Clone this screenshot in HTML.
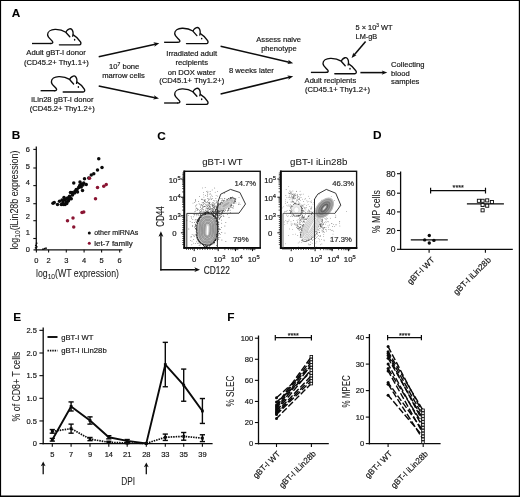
<!DOCTYPE html>
<html><head><meta charset="utf-8"><title>Figure</title>
<style>html,body{margin:0;padding:0;background:#fff}svg{display:block;will-change:transform}text{white-space:pre}</style>
</head><body>
<svg width="520" height="497" viewBox="0 0 520 497" font-family="Liberation Sans, Arial, sans-serif">
<defs>
<filter id="bl" x="-5%" y="-5%" width="110%" height="110%"><feGaussianBlur stdDeviation="0.45"/></filter>
</defs>
<rect x="0" y="0" width="520" height="497" fill="#fff"/>
<text x="11.7" y="17.3" font-size="11.8" fill="#000" stroke="#000" stroke-width="0.1" font-weight="bold" >A</text>
<g transform="translate(0 0)" fill="none" stroke="#0d0d0d" stroke-width="1.35" stroke-linecap="round" stroke-linejoin="round">
<path d="M50.6 43.5 C52.6 43.5 53.4 42.6 52.4 41.3 C51 39.5 47.7 37.4 47.6 34.7 C47.5 31.6 50.8 29.6 55 29.45 C59.5 29.3 63 30.4 65.8 32.2"/>
<path d="M69.8 36.8 L66.2 32.8 C65.7 31.4 67.4 29.6 69.5 28.85 C71.5 28.3 72.6 30 73 32 C73.3 33.8 73.1 35.2 72.7 36.2"/>
<path d="M73.3 34.9 C76 36.5 79 39.5 80.5 41.9 C81.4 43.3 80.8 44.8 79.3 44.8 L59.4 44.8"/>
<ellipse cx="74.6" cy="39.8" rx="0.75" ry="0.95" fill="#0d0d0d" stroke="none"/>
</g>
<line x1="32.0" y1="43.5" x2="50.8" y2="43.5" stroke="#0d0d0d" stroke-width="1.35" />
<g transform="translate(3.8 47.2)" fill="none" stroke="#0d0d0d" stroke-width="1.35" stroke-linecap="round" stroke-linejoin="round">
<path d="M50.6 43.5 C52.6 43.5 53.4 42.6 52.4 41.3 C51 39.5 47.7 37.4 47.6 34.7 C47.5 31.6 50.8 29.6 55 29.45 C59.5 29.3 63 30.4 65.8 32.2"/>
<path d="M69.8 36.8 L66.2 32.8 C65.7 31.4 67.4 29.6 69.5 28.85 C71.5 28.3 72.6 30 73 32 C73.3 33.8 73.1 35.2 72.7 36.2"/>
<path d="M73.3 34.9 C76 36.5 79 39.5 80.5 41.9 C81.4 43.3 80.8 44.8 79.3 44.8 L59.4 44.8"/>
<ellipse cx="74.6" cy="39.8" rx="0.75" ry="0.95" fill="#0d0d0d" stroke="none"/>
</g>
<line x1="40.6" y1="90.7" x2="54.6" y2="90.7" stroke="#0d0d0d" stroke-width="1.35" />
<g transform="translate(127.1 -1.2)" fill="none" stroke="#0d0d0d" stroke-width="1.35" stroke-linecap="round" stroke-linejoin="round">
<path d="M50.6 43.5 C52.6 43.5 53.4 42.6 52.4 41.3 C51 39.5 47.7 37.4 47.6 34.7 C47.5 31.6 50.8 29.6 55 29.45 C59.5 29.3 63 30.4 65.8 32.2"/>
<path d="M69.8 36.8 L66.2 32.8 C65.7 31.4 67.4 29.6 69.5 28.85 C71.5 28.3 72.6 30 73 32 C73.3 33.8 73.1 35.2 72.7 36.2"/>
<path d="M73.3 34.9 C76 36.5 79 39.5 80.5 41.9 C81.4 43.3 80.8 44.8 79.3 44.8 L59.4 44.8"/>
<ellipse cx="74.6" cy="39.8" rx="0.75" ry="0.95" fill="#0d0d0d" stroke="none"/>
</g>
<line x1="164.1" y1="42.3" x2="177.9" y2="42.3" stroke="#0d0d0d" stroke-width="1.35" />
<g transform="translate(127.1 59.5)" fill="none" stroke="#0d0d0d" stroke-width="1.35" stroke-linecap="round" stroke-linejoin="round">
<path d="M50.6 43.5 C52.6 43.5 53.4 42.6 52.4 41.3 C51 39.5 47.7 37.4 47.6 34.7 C47.5 31.6 50.8 29.6 55 29.45 C59.5 29.3 63 30.4 65.8 32.2"/>
<path d="M69.8 36.8 L66.2 32.8 C65.7 31.4 67.4 29.6 69.5 28.85 C71.5 28.3 72.6 30 73 32 C73.3 33.8 73.1 35.2 72.7 36.2"/>
<path d="M73.3 34.9 C76 36.5 79 39.5 80.5 41.9 C81.4 43.3 80.8 44.8 79.3 44.8 L59.4 44.8"/>
<ellipse cx="74.6" cy="39.8" rx="0.75" ry="0.95" fill="#0d0d0d" stroke="none"/>
</g>
<line x1="164.1" y1="103.0" x2="177.9" y2="103.0" stroke="#0d0d0d" stroke-width="1.35" />
<g transform="translate(275.4 28.9)" fill="none" stroke="#0d0d0d" stroke-width="1.35" stroke-linecap="round" stroke-linejoin="round">
<path d="M50.6 43.5 C52.6 43.5 53.4 42.6 52.4 41.3 C51 39.5 47.7 37.4 47.6 34.7 C47.5 31.6 50.8 29.6 55 29.45 C59.5 29.3 63 30.4 65.8 32.2"/>
<path d="M69.8 36.8 L66.2 32.8 C65.7 31.4 67.4 29.6 69.5 28.85 C71.5 28.3 72.6 30 73 32 C73.3 33.8 73.1 35.2 72.7 36.2"/>
<path d="M73.3 34.9 C76 36.5 79 39.5 80.5 41.9 C81.4 43.3 80.8 44.8 79.3 44.8 L59.4 44.8"/>
<ellipse cx="74.6" cy="39.8" rx="0.75" ry="0.95" fill="#0d0d0d" stroke="none"/>
</g>
<line x1="310.9" y1="72.4" x2="326.2" y2="72.4" stroke="#0d0d0d" stroke-width="1.35" />
<text x="56.1" y="55.3" font-size="7.62" fill="#161616" stroke="#161616" stroke-width="0.18" text-anchor="middle" textLength="59.6" lengthAdjust="spacingAndGlyphs" >Adult gBT-I donor</text>
<text x="56.4" y="64.6" font-size="7.62" fill="#161616" stroke="#161616" stroke-width="0.18" text-anchor="middle" >(CD45.2+ Thy1.1+)</text>
<text x="62.4" y="101.8" font-size="7.62" fill="#161616" stroke="#161616" stroke-width="0.18" text-anchor="middle" >iLin28 gBT-I donor</text>
<text x="62.2" y="110.9" font-size="7.62" fill="#161616" stroke="#161616" stroke-width="0.18" text-anchor="middle" >(CD45.2+ Thy1.2+)</text>
<line x1="98.7" y1="56.8" x2="155.2" y2="44.21" stroke="#0d0d0d" stroke-width="1.55" />
<polygon points="159.30,43.30 154.31,46.67 155.20,44.21 153.36,42.37" fill="#0d0d0d"/>
<line x1="98.7" y1="85.9" x2="154.89" y2="97.73" stroke="#0d0d0d" stroke-width="1.55" />
<polygon points="159.00,98.60 153.07,99.60 154.89,97.73 153.97,95.29" fill="#0d0d0d"/>
<text x="124.2" y="69" font-size="7.62" fill="#161616" stroke="#161616" stroke-width="0.18" text-anchor="middle" >10<tspan dy="-2.8" font-size="5">7</tspan><tspan dy="2.8"> bone</tspan></text>
<text x="123.5" y="77.8" font-size="7.62" fill="#161616" stroke="#161616" stroke-width="0.18" text-anchor="middle" >marrow cells</text>
<text x="191.7" y="55.8" font-size="7.62" fill="#161616" stroke="#161616" stroke-width="0.18" text-anchor="middle" >Irradiated adult</text>
<text x="191.7" y="65.1" font-size="7.62" fill="#161616" stroke="#161616" stroke-width="0.18" text-anchor="middle" >recipients</text>
<text x="191.7" y="74.5" font-size="7.62" fill="#161616" stroke="#161616" stroke-width="0.18" text-anchor="middle" >on DOX water</text>
<text x="191.7" y="83.4" font-size="7.62" fill="#161616" stroke="#161616" stroke-width="0.18" text-anchor="middle" >(CD45.1+ Thy1.2+)</text>
<line x1="220.6" y1="46.2" x2="289.11" y2="62.24" stroke="#0d0d0d" stroke-width="1.55" />
<polygon points="293.20,63.20 287.25,64.07 289.11,62.24 288.25,59.78" fill="#0d0d0d"/>
<line x1="220.6" y1="94.1" x2="289.12" y2="77.21" stroke="#0d0d0d" stroke-width="1.55" />
<polygon points="293.20,76.20 288.29,79.68 289.12,77.21 287.24,75.40" fill="#0d0d0d"/>
<text x="278.7" y="42.2" font-size="7.62" fill="#161616" stroke="#161616" stroke-width="0.18" text-anchor="middle" >Assess naive</text>
<text x="278.9" y="51.0" font-size="7.62" fill="#161616" stroke="#161616" stroke-width="0.18" text-anchor="middle" >phenotype</text>
<text x="251.4" y="73.0" font-size="7.62" fill="#161616" stroke="#161616" stroke-width="0.18" text-anchor="middle" >8 weeks later</text>
<text x="355.6" y="29.8" font-size="7.62" fill="#161616" stroke="#161616" stroke-width="0.18" textLength="37" lengthAdjust="spacingAndGlyphs" >5 × 10<tspan dy="-2.8" font-size="5">3</tspan><tspan dy="2.8"> WT</tspan></text>
<text x="355.6" y="39.2" font-size="7.62" fill="#161616" stroke="#161616" stroke-width="0.18" textLength="21.6" lengthAdjust="spacingAndGlyphs" >LM-gB</text>
<line x1="365.6" y1="41.6" x2="354.14" y2="54.94" stroke="#0d0d0d" stroke-width="1.55" />
<polygon points="351.60,57.90 353.40,52.59 354.14,54.94 356.58,55.32" fill="#0d0d0d"/>
<line x1="360.4" y1="72.6" x2="383.1" y2="72.6" stroke="#0d0d0d" stroke-width="1.55" />
<polygon points="387.30,72.60 381.70,74.80 383.10,72.60 381.70,70.40" fill="#0d0d0d"/>
<text x="304.6" y="82.6" font-size="7.62" fill="#161616" stroke="#161616" stroke-width="0.18" textLength="51.6" lengthAdjust="spacingAndGlyphs" >Adult recipients</text>
<text x="305.0" y="91.6" font-size="7.62" fill="#161616" stroke="#161616" stroke-width="0.18" >(CD45.1+ Thy1.2+)</text>
<text x="391.1" y="66.6" font-size="7.62" fill="#161616" stroke="#161616" stroke-width="0.18" >Collecting</text>
<text x="391.1" y="75.5" font-size="7.62" fill="#161616" stroke="#161616" stroke-width="0.18" >blood</text>
<text x="391.1" y="84.2" font-size="7.62" fill="#161616" stroke="#161616" stroke-width="0.18" >samples</text>
<text x="11.7" y="139.2" font-size="11.8" fill="#000" stroke="#000" stroke-width="0.1" font-weight="bold" >B</text>
<line x1="36.3" y1="146.6" x2="36.3" y2="250.4" stroke="#111" stroke-width="1.3" />
<line x1="33.5" y1="249.8" x2="122.3" y2="249.8" stroke="#111" stroke-width="1.3" />
<line x1="33.3" y1="149.4" x2="36.3" y2="149.4" stroke="#111" stroke-width="1.1" />
<line x1="33.3" y1="168" x2="36.3" y2="168" stroke="#111" stroke-width="1.1" />
<line x1="33.3" y1="185.6" x2="36.3" y2="185.6" stroke="#111" stroke-width="1.1" />
<line x1="33.3" y1="203.7" x2="36.3" y2="203.7" stroke="#111" stroke-width="1.1" />
<line x1="33.3" y1="220.7" x2="36.3" y2="220.7" stroke="#111" stroke-width="1.1" />
<line x1="33.3" y1="238.5" x2="36.3" y2="238.5" stroke="#111" stroke-width="1.1" />
<text x="27.8" y="152.2" font-size="7.5" fill="#161616" stroke="#161616" stroke-width="0.18" text-anchor="middle" >6</text>
<text x="27.8" y="168.8" font-size="7.5" fill="#161616" stroke="#161616" stroke-width="0.18" text-anchor="middle" >5</text>
<text x="27.8" y="185.4" font-size="7.5" fill="#161616" stroke="#161616" stroke-width="0.18" text-anchor="middle" >4</text>
<text x="27.8" y="202.0" font-size="7.5" fill="#161616" stroke="#161616" stroke-width="0.18" text-anchor="middle" >3</text>
<text x="27.8" y="218.6" font-size="7.5" fill="#161616" stroke="#161616" stroke-width="0.18" text-anchor="middle" >2</text>
<text x="27.8" y="235.2" font-size="7.5" fill="#161616" stroke="#161616" stroke-width="0.18" text-anchor="middle" >1</text>
<text x="27.8" y="251.8" font-size="7.5" fill="#161616" stroke="#161616" stroke-width="0.18" text-anchor="middle" >0</text>
<line x1="36.4" y1="249.8" x2="36.4" y2="252.6" stroke="#111" stroke-width="1.1" />
<text x="36.4" y="263.2" font-size="7.5" fill="#161616" stroke="#161616" stroke-width="0.18" text-anchor="middle" >0</text>
<line x1="48.6" y1="249.8" x2="48.6" y2="252.6" stroke="#111" stroke-width="1.1" />
<text x="48.6" y="263.2" font-size="7.5" fill="#161616" stroke="#161616" stroke-width="0.18" text-anchor="middle" >2</text>
<line x1="66.3" y1="249.8" x2="66.3" y2="252.6" stroke="#111" stroke-width="1.1" />
<text x="66.3" y="263.2" font-size="7.5" fill="#161616" stroke="#161616" stroke-width="0.18" text-anchor="middle" >3</text>
<line x1="84.1" y1="249.8" x2="84.1" y2="252.6" stroke="#111" stroke-width="1.1" />
<text x="84.1" y="263.2" font-size="7.5" fill="#161616" stroke="#161616" stroke-width="0.18" text-anchor="middle" >4</text>
<line x1="101.6" y1="249.8" x2="101.6" y2="252.6" stroke="#111" stroke-width="1.1" />
<text x="101.6" y="263.2" font-size="7.5" fill="#161616" stroke="#161616" stroke-width="0.18" text-anchor="middle" >5</text>
<line x1="119.7" y1="249.8" x2="119.7" y2="252.6" stroke="#111" stroke-width="1.1" />
<text x="119.7" y="263.2" font-size="7.5" fill="#161616" stroke="#161616" stroke-width="0.18" text-anchor="middle" >6</text>
<text x="36.0" y="277.0" font-size="10.0" fill="#222" stroke="#222" stroke-width="0.06" textLength="83" lengthAdjust="spacingAndGlyphs" >log<tspan dy="2" font-size="7.6">10</tspan><tspan dy="-2">(WT expression)</tspan></text>
<text x="18.1" y="249.6" font-size="10.0" fill="#222" stroke="#222" stroke-width="0.06" textLength="99" lengthAdjust="spacingAndGlyphs" transform="rotate(-90 18.1 249.6)" >log<tspan dy="2" font-size="7.6">10</tspan><tspan dy="-2">(iLin28b expression)</tspan></text>
<circle cx="53.00" cy="203.25" r="1.75" fill="#0a0a0a"/>
<circle cx="54.25" cy="202.50" r="1.75" fill="#0a0a0a"/>
<circle cx="57.50" cy="204.50" r="1.75" fill="#0a0a0a"/>
<circle cx="59.50" cy="201.25" r="1.75" fill="#0a0a0a"/>
<circle cx="61.25" cy="204.50" r="1.75" fill="#0a0a0a"/>
<circle cx="63.00" cy="202.50" r="1.75" fill="#0a0a0a"/>
<circle cx="64.50" cy="200.00" r="1.75" fill="#0a0a0a"/>
<circle cx="65.00" cy="204.50" r="1.75" fill="#0a0a0a"/>
<circle cx="66.25" cy="202.00" r="1.75" fill="#0a0a0a"/>
<circle cx="67.50" cy="198.00" r="1.75" fill="#0a0a0a"/>
<circle cx="68.75" cy="200.00" r="1.75" fill="#0a0a0a"/>
<circle cx="69.50" cy="196.25" r="1.75" fill="#0a0a0a"/>
<circle cx="70.50" cy="192.50" r="1.75" fill="#0a0a0a"/>
<circle cx="71.25" cy="198.75" r="1.75" fill="#0a0a0a"/>
<circle cx="72.50" cy="195.00" r="1.75" fill="#0a0a0a"/>
<circle cx="73.75" cy="183.00" r="1.75" fill="#0a0a0a"/>
<circle cx="75.00" cy="191.25" r="1.75" fill="#0a0a0a"/>
<circle cx="76.25" cy="189.50" r="1.75" fill="#0a0a0a"/>
<circle cx="77.50" cy="192.00" r="1.75" fill="#0a0a0a"/>
<circle cx="78.75" cy="187.50" r="1.75" fill="#0a0a0a"/>
<circle cx="80.00" cy="185.00" r="1.75" fill="#0a0a0a"/>
<circle cx="81.25" cy="187.00" r="1.75" fill="#0a0a0a"/>
<circle cx="82.50" cy="190.50" r="1.75" fill="#0a0a0a"/>
<circle cx="83.75" cy="183.00" r="1.75" fill="#0a0a0a"/>
<circle cx="84.50" cy="178.75" r="1.75" fill="#0a0a0a"/>
<circle cx="86.25" cy="184.50" r="1.75" fill="#0a0a0a"/>
<circle cx="88.75" cy="178.00" r="1.75" fill="#0a0a0a"/>
<circle cx="91.25" cy="175.00" r="1.75" fill="#0a0a0a"/>
<circle cx="93.75" cy="173.75" r="1.75" fill="#0a0a0a"/>
<circle cx="97.50" cy="170.00" r="1.75" fill="#0a0a0a"/>
<circle cx="102.00" cy="167.50" r="1.75" fill="#0a0a0a"/>
<circle cx="98.75" cy="158.75" r="1.75" fill="#0a0a0a"/>
<circle cx="62.00" cy="200.00" r="1.75" fill="#0a0a0a"/>
<circle cx="64.00" cy="197.50" r="1.75" fill="#0a0a0a"/>
<circle cx="66.00" cy="199.00" r="1.75" fill="#0a0a0a"/>
<circle cx="68.00" cy="201.25" r="1.75" fill="#0a0a0a"/>
<circle cx="70.00" cy="197.50" r="1.75" fill="#0a0a0a"/>
<circle cx="72.00" cy="192.50" r="1.75" fill="#0a0a0a"/>
<circle cx="74.50" cy="193.00" r="1.75" fill="#0a0a0a"/>
<circle cx="77.00" cy="189.50" r="1.75" fill="#0a0a0a"/>
<circle cx="79.50" cy="186.25" r="1.75" fill="#0a0a0a"/>
<circle cx="81.50" cy="184.00" r="1.75" fill="#0a0a0a"/>
<circle cx="66.75" cy="203.50" r="1.75" fill="#0a0a0a"/>
<circle cx="63.25" cy="204.50" r="1.75" fill="#0a0a0a"/>
<circle cx="80.00" cy="182.00" r="1.75" fill="#0a0a0a"/>
<circle cx="83.00" cy="185.00" r="1.75" fill="#0a0a0a"/>
<circle cx="89.50" cy="178.25" r="1.75" fill="#8a1432"/>
<circle cx="97.50" cy="187.50" r="1.75" fill="#8a1432"/>
<circle cx="103.75" cy="186.25" r="1.75" fill="#8a1432"/>
<circle cx="106.25" cy="184.50" r="1.75" fill="#8a1432"/>
<circle cx="95.50" cy="198.75" r="1.75" fill="#8a1432"/>
<circle cx="67.50" cy="220.75" r="1.75" fill="#8a1432"/>
<circle cx="73.00" cy="218.00" r="1.75" fill="#8a1432"/>
<circle cx="73.75" cy="227.00" r="1.75" fill="#8a1432"/>
<circle cx="82.00" cy="212.50" r="1.75" fill="#8a1432"/>
<circle cx="83.75" cy="212.00" r="1.75" fill="#8a1432"/>
<circle cx="36.6" cy="243.2" r="0.9" fill="#0a0a0a"/>
<circle cx="35.8" cy="245.5" r="0.9" fill="#0a0a0a"/>
<circle cx="36.8" cy="246.8" r="0.9" fill="#0a0a0a"/>
<circle cx="35.6" cy="247.8" r="0.9" fill="#0a0a0a"/>
<circle cx="43" cy="249.2" r="0.9" fill="#0a0a0a"/>
<circle cx="44.6" cy="248.6" r="0.9" fill="#0a0a0a"/>
<circle cx="46" cy="248.2" r="0.9" fill="#0a0a0a"/>
<circle cx="89.3" cy="233" r="1.5" fill="#0a0a0a"/>
<text x="94.2" y="235.3" font-size="7.5" fill="#161616" stroke="#161616" stroke-width="0.18" textLength="44" lengthAdjust="spacingAndGlyphs" >other miRNAs</text>
<circle cx="89.3" cy="243.2" r="1.5" fill="#8c1232"/>
<text x="94.2" y="245.5" font-size="7.5" fill="#161616" stroke="#161616" stroke-width="0.18" textLength="38.5" lengthAdjust="spacingAndGlyphs" >let-7 family</text>
<text x="157.2" y="139.7" font-size="11.8" fill="#000" stroke="#000" stroke-width="0.1" font-weight="bold" >C</text>
<g filter="url(#bl)">
<circle cx="204.5" cy="232.6" r="0.42" fill="#2e2e2e"/><circle cx="205.6" cy="224.0" r="0.42" fill="#2e2e2e"/><circle cx="200.2" cy="224.5" r="0.42" fill="#2e2e2e"/><circle cx="214.9" cy="232.8" r="0.42" fill="#2e2e2e"/><circle cx="214.6" cy="230.9" r="0.42" fill="#2e2e2e"/><circle cx="209.8" cy="229.7" r="0.42" fill="#2e2e2e"/><circle cx="193.5" cy="235.1" r="0.42" fill="#2e2e2e"/><circle cx="210.3" cy="233.1" r="0.42" fill="#2e2e2e"/><circle cx="196.1" cy="207.9" r="0.42" fill="#2e2e2e"/><circle cx="200.8" cy="221.9" r="0.42" fill="#2e2e2e"/><circle cx="209.4" cy="227.3" r="0.42" fill="#2e2e2e"/><circle cx="211.6" cy="221.2" r="0.42" fill="#2e2e2e"/><circle cx="208.9" cy="231.9" r="0.42" fill="#2e2e2e"/><circle cx="200.1" cy="244.9" r="0.42" fill="#2e2e2e"/><circle cx="209.9" cy="240.4" r="0.42" fill="#2e2e2e"/><circle cx="203.1" cy="219.3" r="0.42" fill="#2e2e2e"/><circle cx="204.5" cy="226.1" r="0.42" fill="#2e2e2e"/><circle cx="211.5" cy="230.6" r="0.42" fill="#2e2e2e"/><circle cx="204.7" cy="217.2" r="0.42" fill="#2e2e2e"/><circle cx="201.7" cy="239.8" r="0.42" fill="#2e2e2e"/><circle cx="200.6" cy="229.4" r="0.42" fill="#2e2e2e"/><circle cx="211.9" cy="212.3" r="0.42" fill="#2e2e2e"/><circle cx="205.9" cy="241.2" r="0.42" fill="#2e2e2e"/><circle cx="192.1" cy="222.5" r="0.42" fill="#2e2e2e"/><circle cx="207.1" cy="218.9" r="0.42" fill="#2e2e2e"/><circle cx="210.8" cy="227.2" r="0.42" fill="#2e2e2e"/><circle cx="195.0" cy="235.0" r="0.42" fill="#2e2e2e"/><circle cx="211.0" cy="237.9" r="0.42" fill="#2e2e2e"/><circle cx="217.5" cy="232.4" r="0.42" fill="#2e2e2e"/><circle cx="209.3" cy="214.0" r="0.42" fill="#2e2e2e"/><circle cx="212.3" cy="221.6" r="0.42" fill="#2e2e2e"/><circle cx="205.0" cy="213.9" r="0.42" fill="#2e2e2e"/><circle cx="200.3" cy="221.2" r="0.42" fill="#2e2e2e"/><circle cx="219.0" cy="207.3" r="0.42" fill="#2e2e2e"/><circle cx="195.7" cy="228.8" r="0.42" fill="#2e2e2e"/><circle cx="217.3" cy="234.7" r="0.42" fill="#2e2e2e"/><circle cx="195.4" cy="199.7" r="0.42" fill="#2e2e2e"/><circle cx="210.5" cy="220.1" r="0.42" fill="#2e2e2e"/><circle cx="197.5" cy="236.8" r="0.42" fill="#2e2e2e"/><circle cx="215.2" cy="230.0" r="0.42" fill="#2e2e2e"/><circle cx="208.4" cy="232.2" r="0.42" fill="#2e2e2e"/><circle cx="218.4" cy="235.2" r="0.42" fill="#2e2e2e"/><circle cx="210.3" cy="233.6" r="0.42" fill="#2e2e2e"/><circle cx="193.7" cy="239.6" r="0.42" fill="#2e2e2e"/><circle cx="213.6" cy="233.8" r="0.42" fill="#2e2e2e"/><circle cx="192.8" cy="219.3" r="0.42" fill="#2e2e2e"/><circle cx="215.4" cy="209.3" r="0.42" fill="#2e2e2e"/><circle cx="204.5" cy="238.0" r="0.42" fill="#2e2e2e"/><circle cx="195.3" cy="243.3" r="0.42" fill="#2e2e2e"/><circle cx="211.3" cy="226.4" r="0.42" fill="#2e2e2e"/><circle cx="208.7" cy="234.5" r="0.42" fill="#2e2e2e"/><circle cx="206.7" cy="239.6" r="0.42" fill="#2e2e2e"/><circle cx="202.5" cy="222.6" r="0.42" fill="#2e2e2e"/><circle cx="214.8" cy="228.6" r="0.42" fill="#2e2e2e"/><circle cx="199.3" cy="236.7" r="0.42" fill="#2e2e2e"/><circle cx="218.6" cy="224.0" r="0.42" fill="#2e2e2e"/><circle cx="196.7" cy="225.0" r="0.42" fill="#2e2e2e"/><circle cx="206.2" cy="224.3" r="0.42" fill="#2e2e2e"/><circle cx="218.7" cy="217.9" r="0.42" fill="#2e2e2e"/><circle cx="217.9" cy="215.3" r="0.42" fill="#2e2e2e"/><circle cx="200.4" cy="233.5" r="0.42" fill="#2e2e2e"/><circle cx="214.6" cy="237.4" r="0.42" fill="#2e2e2e"/><circle cx="209.5" cy="229.3" r="0.42" fill="#2e2e2e"/><circle cx="207.5" cy="233.6" r="0.42" fill="#2e2e2e"/><circle cx="205.4" cy="230.3" r="0.42" fill="#2e2e2e"/><circle cx="211.3" cy="228.0" r="0.42" fill="#2e2e2e"/><circle cx="212.2" cy="234.0" r="0.42" fill="#2e2e2e"/><circle cx="221.8" cy="232.5" r="0.42" fill="#2e2e2e"/><circle cx="204.2" cy="223.3" r="0.42" fill="#2e2e2e"/><circle cx="205.9" cy="237.1" r="0.42" fill="#2e2e2e"/><circle cx="204.0" cy="231.3" r="0.42" fill="#2e2e2e"/><circle cx="223.7" cy="202.2" r="0.42" fill="#2e2e2e"/><circle cx="198.2" cy="229.2" r="0.42" fill="#2e2e2e"/><circle cx="209.7" cy="230.3" r="0.42" fill="#2e2e2e"/><circle cx="203.0" cy="234.0" r="0.42" fill="#2e2e2e"/><circle cx="209.7" cy="222.3" r="0.42" fill="#2e2e2e"/><circle cx="225.0" cy="233.1" r="0.42" fill="#2e2e2e"/><circle cx="202.9" cy="226.0" r="0.42" fill="#2e2e2e"/><circle cx="205.4" cy="226.7" r="0.42" fill="#2e2e2e"/><circle cx="186.9" cy="220.2" r="0.42" fill="#2e2e2e"/><circle cx="215.9" cy="216.1" r="0.42" fill="#2e2e2e"/><circle cx="205.4" cy="237.4" r="0.42" fill="#2e2e2e"/><circle cx="211.8" cy="243.8" r="0.42" fill="#2e2e2e"/><circle cx="194.5" cy="222.5" r="0.42" fill="#2e2e2e"/><circle cx="203.7" cy="233.7" r="0.42" fill="#2e2e2e"/><circle cx="218.2" cy="200.4" r="0.42" fill="#2e2e2e"/><circle cx="216.8" cy="213.2" r="0.42" fill="#2e2e2e"/><circle cx="213.8" cy="212.5" r="0.42" fill="#2e2e2e"/><circle cx="207.0" cy="240.1" r="0.42" fill="#2e2e2e"/><circle cx="205.7" cy="229.4" r="0.42" fill="#2e2e2e"/><circle cx="212.9" cy="229.6" r="0.42" fill="#2e2e2e"/><circle cx="204.6" cy="243.4" r="0.42" fill="#2e2e2e"/><circle cx="215.2" cy="225.3" r="0.42" fill="#2e2e2e"/><circle cx="229.0" cy="217.7" r="0.42" fill="#2e2e2e"/><circle cx="214.2" cy="225.5" r="0.42" fill="#2e2e2e"/><circle cx="207.2" cy="235.0" r="0.42" fill="#2e2e2e"/><circle cx="208.0" cy="234.3" r="0.42" fill="#2e2e2e"/><circle cx="197.1" cy="210.5" r="0.42" fill="#2e2e2e"/><circle cx="212.7" cy="217.9" r="0.42" fill="#2e2e2e"/><circle cx="200.9" cy="211.3" r="0.42" fill="#2e2e2e"/><circle cx="215.8" cy="236.3" r="0.42" fill="#2e2e2e"/><circle cx="219.2" cy="218.9" r="0.42" fill="#2e2e2e"/><circle cx="208.3" cy="215.6" r="0.42" fill="#2e2e2e"/><circle cx="211.0" cy="244.7" r="0.42" fill="#2e2e2e"/><circle cx="198.6" cy="243.1" r="0.42" fill="#2e2e2e"/><circle cx="214.7" cy="226.4" r="0.42" fill="#2e2e2e"/><circle cx="190.6" cy="240.6" r="0.42" fill="#2e2e2e"/><circle cx="206.9" cy="221.1" r="0.42" fill="#2e2e2e"/><circle cx="209.6" cy="232.1" r="0.42" fill="#2e2e2e"/><circle cx="219.4" cy="218.0" r="0.42" fill="#2e2e2e"/><circle cx="214.0" cy="243.9" r="0.42" fill="#2e2e2e"/><circle cx="218.2" cy="226.8" r="0.42" fill="#2e2e2e"/><circle cx="200.3" cy="237.5" r="0.42" fill="#2e2e2e"/><circle cx="207.7" cy="228.9" r="0.42" fill="#2e2e2e"/><circle cx="218.1" cy="225.9" r="0.42" fill="#2e2e2e"/><circle cx="190.1" cy="221.6" r="0.42" fill="#2e2e2e"/><circle cx="192.1" cy="234.6" r="0.42" fill="#2e2e2e"/><circle cx="210.1" cy="221.4" r="0.42" fill="#2e2e2e"/><circle cx="206.0" cy="236.2" r="0.42" fill="#2e2e2e"/><circle cx="206.1" cy="241.4" r="0.42" fill="#2e2e2e"/><circle cx="205.4" cy="238.3" r="0.42" fill="#2e2e2e"/><circle cx="216.5" cy="245.5" r="0.42" fill="#2e2e2e"/><circle cx="201.0" cy="236.2" r="0.42" fill="#2e2e2e"/><circle cx="194.0" cy="214.7" r="0.42" fill="#2e2e2e"/><circle cx="191.0" cy="237.1" r="0.42" fill="#2e2e2e"/><circle cx="197.7" cy="226.4" r="0.42" fill="#2e2e2e"/><circle cx="205.6" cy="227.0" r="0.42" fill="#2e2e2e"/><circle cx="202.3" cy="229.5" r="0.42" fill="#2e2e2e"/><circle cx="220.5" cy="229.4" r="0.42" fill="#2e2e2e"/><circle cx="209.9" cy="238.4" r="0.42" fill="#2e2e2e"/><circle cx="206.9" cy="214.2" r="0.42" fill="#2e2e2e"/><circle cx="201.6" cy="238.3" r="0.42" fill="#2e2e2e"/><circle cx="195.2" cy="219.9" r="0.42" fill="#2e2e2e"/><circle cx="213.7" cy="236.6" r="0.42" fill="#2e2e2e"/><circle cx="206.2" cy="235.9" r="0.42" fill="#2e2e2e"/><circle cx="209.5" cy="215.3" r="0.42" fill="#2e2e2e"/><circle cx="195.9" cy="219.6" r="0.42" fill="#2e2e2e"/><circle cx="214.6" cy="222.3" r="0.42" fill="#2e2e2e"/><circle cx="201.0" cy="218.7" r="0.42" fill="#2e2e2e"/><circle cx="195.6" cy="225.1" r="0.42" fill="#2e2e2e"/><circle cx="197.7" cy="230.4" r="0.42" fill="#2e2e2e"/><circle cx="188.8" cy="229.0" r="0.42" fill="#2e2e2e"/><circle cx="204.3" cy="206.7" r="0.42" fill="#2e2e2e"/><circle cx="212.8" cy="225.2" r="0.42" fill="#2e2e2e"/><circle cx="191.1" cy="216.6" r="0.42" fill="#2e2e2e"/><circle cx="209.7" cy="222.9" r="0.42" fill="#2e2e2e"/><circle cx="212.1" cy="235.9" r="0.42" fill="#2e2e2e"/><circle cx="211.7" cy="231.4" r="0.42" fill="#2e2e2e"/><circle cx="216.4" cy="235.4" r="0.42" fill="#2e2e2e"/><circle cx="212.7" cy="206.1" r="0.42" fill="#2e2e2e"/><circle cx="212.3" cy="241.9" r="0.42" fill="#2e2e2e"/><circle cx="205.3" cy="222.4" r="0.42" fill="#2e2e2e"/><circle cx="223.6" cy="210.7" r="0.42" fill="#2e2e2e"/><circle cx="199.2" cy="234.0" r="0.42" fill="#2e2e2e"/><circle cx="221.4" cy="227.7" r="0.42" fill="#2e2e2e"/><circle cx="210.3" cy="237.4" r="0.42" fill="#2e2e2e"/><circle cx="200.3" cy="225.9" r="0.42" fill="#2e2e2e"/><circle cx="208.3" cy="236.4" r="0.42" fill="#2e2e2e"/><circle cx="207.0" cy="225.4" r="0.42" fill="#2e2e2e"/><circle cx="199.7" cy="222.9" r="0.42" fill="#2e2e2e"/><circle cx="213.6" cy="229.3" r="0.42" fill="#2e2e2e"/><circle cx="201.5" cy="218.0" r="0.42" fill="#2e2e2e"/><circle cx="225.9" cy="241.5" r="0.42" fill="#2e2e2e"/><circle cx="214.7" cy="200.9" r="0.42" fill="#2e2e2e"/><circle cx="211.2" cy="233.0" r="0.42" fill="#2e2e2e"/><circle cx="219.3" cy="233.3" r="0.42" fill="#2e2e2e"/><circle cx="205.9" cy="232.9" r="0.42" fill="#2e2e2e"/><circle cx="191.2" cy="236.7" r="0.42" fill="#2e2e2e"/><circle cx="210.2" cy="220.4" r="0.42" fill="#2e2e2e"/><circle cx="197.1" cy="219.4" r="0.42" fill="#2e2e2e"/><circle cx="209.0" cy="229.6" r="0.42" fill="#2e2e2e"/><circle cx="205.1" cy="217.0" r="0.42" fill="#2e2e2e"/><circle cx="221.9" cy="240.0" r="0.42" fill="#2e2e2e"/><circle cx="199.4" cy="212.5" r="0.42" fill="#2e2e2e"/><circle cx="218.8" cy="239.2" r="0.42" fill="#2e2e2e"/><circle cx="219.9" cy="237.4" r="0.42" fill="#2e2e2e"/><circle cx="200.1" cy="229.5" r="0.42" fill="#2e2e2e"/><circle cx="191.5" cy="218.0" r="0.42" fill="#2e2e2e"/><circle cx="206.0" cy="232.9" r="0.42" fill="#2e2e2e"/><circle cx="201.6" cy="225.6" r="0.42" fill="#2e2e2e"/><circle cx="210.1" cy="231.8" r="0.42" fill="#2e2e2e"/><circle cx="211.6" cy="230.2" r="0.42" fill="#2e2e2e"/><circle cx="203.7" cy="235.5" r="0.42" fill="#2e2e2e"/><circle cx="208.3" cy="218.9" r="0.42" fill="#2e2e2e"/><circle cx="202.3" cy="227.0" r="0.42" fill="#2e2e2e"/><circle cx="206.0" cy="229.1" r="0.42" fill="#2e2e2e"/><circle cx="206.8" cy="229.3" r="0.42" fill="#2e2e2e"/><circle cx="207.4" cy="214.3" r="0.42" fill="#2e2e2e"/><circle cx="209.0" cy="238.8" r="0.42" fill="#2e2e2e"/><circle cx="210.5" cy="225.9" r="0.42" fill="#2e2e2e"/><circle cx="211.4" cy="217.8" r="0.42" fill="#2e2e2e"/><circle cx="192.6" cy="226.6" r="0.42" fill="#2e2e2e"/><circle cx="199.2" cy="234.5" r="0.42" fill="#2e2e2e"/><circle cx="201.7" cy="199.2" r="0.42" fill="#2e2e2e"/><circle cx="197.4" cy="243.2" r="0.42" fill="#2e2e2e"/><circle cx="205.6" cy="212.9" r="0.42" fill="#2e2e2e"/><circle cx="200.7" cy="232.3" r="0.42" fill="#2e2e2e"/><circle cx="210.6" cy="229.7" r="0.42" fill="#2e2e2e"/><circle cx="217.4" cy="236.1" r="0.42" fill="#2e2e2e"/><circle cx="206.2" cy="233.7" r="0.42" fill="#2e2e2e"/><circle cx="218.4" cy="239.0" r="0.42" fill="#2e2e2e"/><circle cx="215.9" cy="217.0" r="0.42" fill="#2e2e2e"/><circle cx="205.1" cy="235.0" r="0.42" fill="#2e2e2e"/><circle cx="203.6" cy="238.4" r="0.42" fill="#2e2e2e"/><circle cx="210.5" cy="237.5" r="0.42" fill="#2e2e2e"/><circle cx="216.6" cy="226.2" r="0.42" fill="#2e2e2e"/><circle cx="203.4" cy="236.4" r="0.42" fill="#2e2e2e"/><circle cx="214.4" cy="228.3" r="0.42" fill="#2e2e2e"/><circle cx="198.0" cy="228.5" r="0.42" fill="#2e2e2e"/><circle cx="208.5" cy="239.6" r="0.42" fill="#2e2e2e"/><circle cx="212.9" cy="228.4" r="0.42" fill="#2e2e2e"/><circle cx="212.9" cy="233.8" r="0.42" fill="#2e2e2e"/><circle cx="208.5" cy="228.2" r="0.42" fill="#2e2e2e"/><circle cx="204.4" cy="234.5" r="0.42" fill="#2e2e2e"/><circle cx="199.7" cy="220.1" r="0.42" fill="#2e2e2e"/><circle cx="208.6" cy="212.2" r="0.42" fill="#2e2e2e"/><circle cx="205.9" cy="206.2" r="0.42" fill="#2e2e2e"/><circle cx="201.2" cy="232.9" r="0.42" fill="#2e2e2e"/><circle cx="211.3" cy="227.4" r="0.42" fill="#2e2e2e"/><circle cx="206.8" cy="212.5" r="0.42" fill="#2e2e2e"/><circle cx="220.2" cy="234.3" r="0.42" fill="#2e2e2e"/><circle cx="216.2" cy="219.2" r="0.42" fill="#2e2e2e"/><circle cx="207.6" cy="208.4" r="0.42" fill="#2e2e2e"/><circle cx="211.9" cy="237.9" r="0.42" fill="#2e2e2e"/><circle cx="192.7" cy="225.4" r="0.42" fill="#2e2e2e"/><circle cx="213.7" cy="209.6" r="0.42" fill="#2e2e2e"/><circle cx="194.4" cy="214.9" r="0.42" fill="#2e2e2e"/><circle cx="203.8" cy="212.4" r="0.42" fill="#2e2e2e"/><circle cx="207.0" cy="230.1" r="0.42" fill="#2e2e2e"/><circle cx="211.0" cy="235.3" r="0.42" fill="#2e2e2e"/><circle cx="217.1" cy="240.9" r="0.42" fill="#2e2e2e"/><circle cx="197.6" cy="221.2" r="0.42" fill="#2e2e2e"/><circle cx="200.2" cy="215.4" r="0.42" fill="#2e2e2e"/><circle cx="206.4" cy="227.5" r="0.42" fill="#2e2e2e"/><circle cx="212.4" cy="211.3" r="0.42" fill="#2e2e2e"/><circle cx="197.7" cy="226.3" r="0.42" fill="#2e2e2e"/><circle cx="205.8" cy="224.1" r="0.42" fill="#2e2e2e"/><circle cx="207.4" cy="219.5" r="0.42" fill="#2e2e2e"/><circle cx="211.9" cy="231.8" r="0.42" fill="#2e2e2e"/><circle cx="207.1" cy="220.4" r="0.42" fill="#2e2e2e"/><circle cx="208.7" cy="198.9" r="0.42" fill="#2e2e2e"/><circle cx="199.5" cy="227.1" r="0.42" fill="#2e2e2e"/><circle cx="195.4" cy="228.4" r="0.42" fill="#2e2e2e"/><circle cx="209.6" cy="213.2" r="0.42" fill="#2e2e2e"/><circle cx="205.5" cy="224.0" r="0.42" fill="#2e2e2e"/><circle cx="209.8" cy="234.3" r="0.42" fill="#2e2e2e"/><circle cx="207.7" cy="218.6" r="0.42" fill="#2e2e2e"/><circle cx="206.0" cy="226.7" r="0.42" fill="#2e2e2e"/><circle cx="212.2" cy="231.2" r="0.42" fill="#2e2e2e"/><circle cx="203.0" cy="212.8" r="0.42" fill="#2e2e2e"/><circle cx="205.0" cy="219.5" r="0.42" fill="#2e2e2e"/><circle cx="198.7" cy="225.4" r="0.42" fill="#2e2e2e"/><circle cx="203.2" cy="228.2" r="0.42" fill="#2e2e2e"/><circle cx="211.4" cy="223.6" r="0.42" fill="#2e2e2e"/><circle cx="224.9" cy="226.0" r="0.42" fill="#2e2e2e"/><circle cx="215.2" cy="229.6" r="0.42" fill="#2e2e2e"/><circle cx="218.0" cy="203.6" r="0.42" fill="#2e2e2e"/><circle cx="201.0" cy="229.5" r="0.42" fill="#2e2e2e"/><circle cx="208.0" cy="241.1" r="0.42" fill="#2e2e2e"/><circle cx="211.8" cy="238.0" r="0.42" fill="#2e2e2e"/><circle cx="211.0" cy="226.3" r="0.42" fill="#2e2e2e"/><circle cx="212.0" cy="216.6" r="0.42" fill="#2e2e2e"/><circle cx="217.0" cy="217.8" r="0.42" fill="#2e2e2e"/><circle cx="205.3" cy="227.5" r="0.42" fill="#2e2e2e"/><circle cx="215.8" cy="228.7" r="0.42" fill="#2e2e2e"/><circle cx="200.6" cy="229.6" r="0.42" fill="#2e2e2e"/><circle cx="210.6" cy="235.4" r="0.42" fill="#2e2e2e"/><circle cx="199.2" cy="245.2" r="0.42" fill="#2e2e2e"/><circle cx="219.6" cy="229.0" r="0.42" fill="#2e2e2e"/><circle cx="209.5" cy="223.2" r="0.42" fill="#2e2e2e"/><circle cx="218.5" cy="221.3" r="0.42" fill="#2e2e2e"/><circle cx="212.6" cy="223.0" r="0.42" fill="#2e2e2e"/><circle cx="201.0" cy="234.5" r="0.42" fill="#2e2e2e"/><circle cx="217.1" cy="228.5" r="0.42" fill="#2e2e2e"/><circle cx="201.0" cy="235.4" r="0.42" fill="#2e2e2e"/><circle cx="206.3" cy="230.7" r="0.42" fill="#2e2e2e"/><circle cx="217.3" cy="240.5" r="0.42" fill="#2e2e2e"/><circle cx="206.2" cy="235.7" r="0.42" fill="#2e2e2e"/><circle cx="202.2" cy="226.5" r="0.42" fill="#2e2e2e"/><circle cx="191.8" cy="244.8" r="0.42" fill="#2e2e2e"/><circle cx="218.7" cy="215.9" r="0.42" fill="#2e2e2e"/><circle cx="197.4" cy="209.4" r="0.42" fill="#2e2e2e"/><circle cx="216.4" cy="223.6" r="0.42" fill="#2e2e2e"/><circle cx="206.9" cy="224.2" r="0.42" fill="#2e2e2e"/><circle cx="207.3" cy="216.0" r="0.42" fill="#2e2e2e"/><circle cx="208.8" cy="212.5" r="0.42" fill="#2e2e2e"/><circle cx="206.1" cy="230.7" r="0.42" fill="#2e2e2e"/><circle cx="210.8" cy="225.5" r="0.42" fill="#2e2e2e"/><circle cx="200.0" cy="228.4" r="0.42" fill="#2e2e2e"/><circle cx="201.6" cy="243.5" r="0.42" fill="#2e2e2e"/><circle cx="212.9" cy="226.9" r="0.42" fill="#2e2e2e"/><circle cx="204.2" cy="219.8" r="0.42" fill="#2e2e2e"/><circle cx="200.3" cy="223.1" r="0.42" fill="#2e2e2e"/><circle cx="208.7" cy="233.1" r="0.42" fill="#2e2e2e"/><circle cx="201.7" cy="227.1" r="0.42" fill="#2e2e2e"/><circle cx="230.2" cy="210.2" r="0.42" fill="#2e2e2e"/><circle cx="202.9" cy="228.9" r="0.42" fill="#2e2e2e"/><circle cx="207.7" cy="231.9" r="0.42" fill="#2e2e2e"/><circle cx="204.8" cy="231.1" r="0.42" fill="#2e2e2e"/><circle cx="206.6" cy="235.6" r="0.42" fill="#2e2e2e"/><circle cx="193.7" cy="216.8" r="0.42" fill="#2e2e2e"/><circle cx="208.1" cy="216.7" r="0.42" fill="#2e2e2e"/><circle cx="198.4" cy="233.2" r="0.42" fill="#2e2e2e"/><circle cx="201.4" cy="233.6" r="0.42" fill="#2e2e2e"/><circle cx="212.3" cy="231.3" r="0.42" fill="#2e2e2e"/><circle cx="211.0" cy="226.8" r="0.42" fill="#2e2e2e"/><circle cx="196.4" cy="226.1" r="0.42" fill="#2e2e2e"/><circle cx="211.0" cy="222.3" r="0.42" fill="#2e2e2e"/><circle cx="205.4" cy="235.2" r="0.42" fill="#2e2e2e"/><circle cx="199.7" cy="233.5" r="0.42" fill="#2e2e2e"/><circle cx="221.7" cy="223.2" r="0.42" fill="#2e2e2e"/><circle cx="208.3" cy="226.0" r="0.42" fill="#2e2e2e"/><circle cx="218.3" cy="232.0" r="0.42" fill="#2e2e2e"/><circle cx="214.5" cy="221.0" r="0.42" fill="#2e2e2e"/><circle cx="206.9" cy="227.4" r="0.42" fill="#2e2e2e"/><circle cx="192.0" cy="241.1" r="0.42" fill="#2e2e2e"/><circle cx="215.7" cy="209.9" r="0.42" fill="#2e2e2e"/><circle cx="212.8" cy="226.7" r="0.42" fill="#2e2e2e"/><circle cx="210.0" cy="231.7" r="0.42" fill="#2e2e2e"/><circle cx="195.9" cy="224.1" r="0.42" fill="#2e2e2e"/><circle cx="218.9" cy="222.7" r="0.42" fill="#2e2e2e"/><circle cx="200.8" cy="212.5" r="0.42" fill="#2e2e2e"/><circle cx="197.4" cy="230.0" r="0.42" fill="#2e2e2e"/><circle cx="219.3" cy="233.3" r="0.42" fill="#2e2e2e"/><circle cx="203.8" cy="220.0" r="0.42" fill="#2e2e2e"/><circle cx="210.4" cy="233.6" r="0.42" fill="#2e2e2e"/><circle cx="200.6" cy="214.5" r="0.42" fill="#2e2e2e"/><circle cx="208.9" cy="230.3" r="0.42" fill="#2e2e2e"/><circle cx="197.3" cy="224.3" r="0.42" fill="#2e2e2e"/><circle cx="202.4" cy="231.9" r="0.42" fill="#2e2e2e"/><circle cx="206.2" cy="226.5" r="0.42" fill="#2e2e2e"/><circle cx="203.2" cy="238.2" r="0.42" fill="#2e2e2e"/><circle cx="217.9" cy="224.8" r="0.42" fill="#2e2e2e"/><circle cx="214.2" cy="220.3" r="0.42" fill="#2e2e2e"/><circle cx="206.7" cy="235.4" r="0.42" fill="#2e2e2e"/><circle cx="218.9" cy="224.7" r="0.42" fill="#2e2e2e"/><circle cx="206.2" cy="229.5" r="0.42" fill="#2e2e2e"/><circle cx="195.7" cy="226.5" r="0.42" fill="#2e2e2e"/><circle cx="201.5" cy="230.8" r="0.42" fill="#2e2e2e"/><circle cx="200.6" cy="206.0" r="0.42" fill="#2e2e2e"/><circle cx="207.0" cy="230.3" r="0.42" fill="#2e2e2e"/><circle cx="201.9" cy="236.3" r="0.42" fill="#2e2e2e"/><circle cx="205.6" cy="221.0" r="0.42" fill="#2e2e2e"/><circle cx="212.3" cy="211.5" r="0.42" fill="#2e2e2e"/><circle cx="201.9" cy="226.7" r="0.42" fill="#2e2e2e"/><circle cx="213.6" cy="226.5" r="0.42" fill="#2e2e2e"/><circle cx="210.1" cy="220.9" r="0.42" fill="#2e2e2e"/><circle cx="207.5" cy="245.1" r="0.42" fill="#2e2e2e"/><circle cx="202.1" cy="227.2" r="0.42" fill="#2e2e2e"/><circle cx="207.2" cy="238.3" r="0.42" fill="#2e2e2e"/><circle cx="200.0" cy="204.6" r="0.42" fill="#2e2e2e"/><circle cx="210.7" cy="236.3" r="0.42" fill="#2e2e2e"/><circle cx="208.3" cy="230.3" r="0.42" fill="#2e2e2e"/><circle cx="213.6" cy="232.1" r="0.42" fill="#2e2e2e"/><circle cx="220.9" cy="215.9" r="0.42" fill="#2e2e2e"/><circle cx="207.9" cy="191.2" r="0.42" fill="#2e2e2e"/><circle cx="213.5" cy="224.3" r="0.42" fill="#2e2e2e"/><circle cx="207.2" cy="224.8" r="0.42" fill="#2e2e2e"/><circle cx="204.1" cy="218.4" r="0.42" fill="#2e2e2e"/><circle cx="201.5" cy="233.7" r="0.42" fill="#2e2e2e"/><circle cx="207.2" cy="228.2" r="0.42" fill="#2e2e2e"/><circle cx="204.7" cy="236.9" r="0.42" fill="#2e2e2e"/><circle cx="210.9" cy="226.4" r="0.42" fill="#2e2e2e"/><circle cx="212.2" cy="226.4" r="0.42" fill="#2e2e2e"/><circle cx="196.7" cy="241.8" r="0.42" fill="#2e2e2e"/><circle cx="211.6" cy="217.9" r="0.42" fill="#2e2e2e"/><circle cx="214.8" cy="232.0" r="0.42" fill="#2e2e2e"/><circle cx="193.4" cy="243.1" r="0.42" fill="#2e2e2e"/><circle cx="208.5" cy="237.1" r="0.42" fill="#2e2e2e"/><circle cx="208.7" cy="226.1" r="0.42" fill="#2e2e2e"/><circle cx="194.2" cy="236.4" r="0.42" fill="#2e2e2e"/><circle cx="207.5" cy="224.5" r="0.42" fill="#2e2e2e"/><circle cx="209.6" cy="228.6" r="0.42" fill="#2e2e2e"/><circle cx="212.5" cy="224.2" r="0.42" fill="#2e2e2e"/><circle cx="209.1" cy="205.1" r="0.42" fill="#2e2e2e"/><circle cx="203.1" cy="234.2" r="0.42" fill="#2e2e2e"/><circle cx="217.5" cy="224.8" r="0.42" fill="#2e2e2e"/><circle cx="204.3" cy="243.9" r="0.42" fill="#2e2e2e"/><circle cx="203.7" cy="234.9" r="0.42" fill="#2e2e2e"/><circle cx="219.6" cy="229.2" r="0.42" fill="#2e2e2e"/><circle cx="217.1" cy="221.1" r="0.42" fill="#2e2e2e"/><circle cx="208.7" cy="226.9" r="0.42" fill="#2e2e2e"/><circle cx="206.6" cy="239.4" r="0.42" fill="#2e2e2e"/><circle cx="225.8" cy="222.4" r="0.42" fill="#2e2e2e"/><circle cx="202.1" cy="232.2" r="0.42" fill="#2e2e2e"/><circle cx="198.5" cy="231.9" r="0.42" fill="#2e2e2e"/><circle cx="211.6" cy="225.1" r="0.42" fill="#2e2e2e"/><circle cx="212.7" cy="211.7" r="0.42" fill="#2e2e2e"/><circle cx="214.4" cy="212.0" r="0.42" fill="#2e2e2e"/><circle cx="202.3" cy="221.1" r="0.42" fill="#2e2e2e"/><circle cx="203.0" cy="236.1" r="0.42" fill="#2e2e2e"/><circle cx="208.1" cy="223.4" r="0.42" fill="#2e2e2e"/><circle cx="209.4" cy="244.4" r="0.42" fill="#2e2e2e"/><circle cx="206.6" cy="231.3" r="0.42" fill="#2e2e2e"/><circle cx="216.1" cy="231.3" r="0.42" fill="#2e2e2e"/><circle cx="225.9" cy="208.5" r="0.42" fill="#2e2e2e"/><circle cx="206.2" cy="231.8" r="0.42" fill="#2e2e2e"/><circle cx="213.6" cy="235.3" r="0.42" fill="#2e2e2e"/><circle cx="206.1" cy="216.3" r="0.42" fill="#2e2e2e"/><circle cx="206.6" cy="238.4" r="0.42" fill="#2e2e2e"/><circle cx="199.9" cy="215.9" r="0.42" fill="#2e2e2e"/><circle cx="208.9" cy="207.2" r="0.42" fill="#2e2e2e"/><circle cx="205.5" cy="222.7" r="0.42" fill="#2e2e2e"/><circle cx="211.2" cy="220.5" r="0.42" fill="#2e2e2e"/><circle cx="200.8" cy="222.7" r="0.42" fill="#2e2e2e"/><circle cx="207.4" cy="220.5" r="0.42" fill="#2e2e2e"/><circle cx="206.3" cy="235.3" r="0.42" fill="#2e2e2e"/><circle cx="208.4" cy="221.3" r="0.4" fill="#444"/><circle cx="203.5" cy="202.5" r="0.4" fill="#444"/><circle cx="188.6" cy="215.6" r="0.4" fill="#444"/><circle cx="202.8" cy="205.4" r="0.4" fill="#444"/><circle cx="212.7" cy="198.4" r="0.4" fill="#444"/><circle cx="209.0" cy="207.7" r="0.4" fill="#444"/><circle cx="196.1" cy="205.6" r="0.4" fill="#444"/><circle cx="217.6" cy="196.1" r="0.4" fill="#444"/><circle cx="210.2" cy="210.0" r="0.4" fill="#444"/><circle cx="207.9" cy="211.0" r="0.4" fill="#444"/><circle cx="213.9" cy="207.9" r="0.4" fill="#444"/><circle cx="212.1" cy="205.8" r="0.4" fill="#444"/><circle cx="212.4" cy="202.7" r="0.4" fill="#444"/><circle cx="201.5" cy="219.0" r="0.4" fill="#444"/><circle cx="209.3" cy="206.7" r="0.4" fill="#444"/><circle cx="202.5" cy="199.2" r="0.4" fill="#444"/><circle cx="205.1" cy="214.0" r="0.4" fill="#444"/><circle cx="207.4" cy="211.5" r="0.4" fill="#444"/><circle cx="202.8" cy="216.4" r="0.4" fill="#444"/><circle cx="205.9" cy="202.4" r="0.4" fill="#444"/><circle cx="211.0" cy="209.1" r="0.4" fill="#444"/><circle cx="206.5" cy="202.4" r="0.4" fill="#444"/><circle cx="203.5" cy="210.9" r="0.4" fill="#444"/><circle cx="211.5" cy="199.2" r="0.4" fill="#444"/><circle cx="208.3" cy="209.1" r="0.4" fill="#444"/><circle cx="199.3" cy="210.5" r="0.4" fill="#444"/><circle cx="205.9" cy="204.1" r="0.4" fill="#444"/><circle cx="207.3" cy="217.8" r="0.4" fill="#444"/><circle cx="201.8" cy="208.8" r="0.4" fill="#444"/><circle cx="196.0" cy="221.6" r="0.4" fill="#444"/><circle cx="200.8" cy="214.5" r="0.4" fill="#444"/><circle cx="201.0" cy="211.5" r="0.4" fill="#444"/><circle cx="224.7" cy="193.3" r="0.4" fill="#444"/><circle cx="202.9" cy="209.7" r="0.4" fill="#444"/><circle cx="207.7" cy="202.1" r="0.4" fill="#444"/><circle cx="217.6" cy="211.7" r="0.4" fill="#444"/><circle cx="195.7" cy="209.9" r="0.4" fill="#444"/><circle cx="194.5" cy="211.8" r="0.4" fill="#444"/><circle cx="203.1" cy="206.9" r="0.4" fill="#444"/><circle cx="212.8" cy="210.2" r="0.4" fill="#444"/><circle cx="203.5" cy="192.4" r="0.4" fill="#444"/><circle cx="210.8" cy="214.5" r="0.4" fill="#444"/><circle cx="200.0" cy="211.5" r="0.4" fill="#444"/><circle cx="207.5" cy="212.5" r="0.4" fill="#444"/><circle cx="195.4" cy="200.5" r="0.4" fill="#444"/><circle cx="209.4" cy="213.9" r="0.4" fill="#444"/><circle cx="217.4" cy="191.4" r="0.4" fill="#444"/><circle cx="206.1" cy="210.8" r="0.4" fill="#444"/><circle cx="222.4" cy="205.2" r="0.4" fill="#444"/><circle cx="204.7" cy="206.6" r="0.4" fill="#444"/><circle cx="212.3" cy="205.6" r="0.4" fill="#444"/><circle cx="214.6" cy="203.6" r="0.4" fill="#444"/><circle cx="209.3" cy="203.8" r="0.4" fill="#444"/><circle cx="209.1" cy="202.4" r="0.4" fill="#444"/><circle cx="195.3" cy="211.6" r="0.4" fill="#444"/><circle cx="209.5" cy="203.6" r="0.4" fill="#444"/><circle cx="205.0" cy="214.4" r="0.4" fill="#444"/><circle cx="201.6" cy="204.4" r="0.4" fill="#444"/><circle cx="208.0" cy="211.7" r="0.4" fill="#444"/><circle cx="210.1" cy="191.5" r="0.4" fill="#444"/><circle cx="212.2" cy="211.7" r="0.4" fill="#444"/><circle cx="207.3" cy="205.1" r="0.4" fill="#444"/><circle cx="209.0" cy="204.5" r="0.4" fill="#444"/><circle cx="203.0" cy="199.8" r="0.4" fill="#444"/><circle cx="204.9" cy="201.5" r="0.4" fill="#444"/><circle cx="198.8" cy="209.3" r="0.4" fill="#444"/><circle cx="197.9" cy="209.1" r="0.4" fill="#444"/><circle cx="200.3" cy="207.5" r="0.4" fill="#444"/><circle cx="213.2" cy="211.1" r="0.4" fill="#444"/><circle cx="202.5" cy="205.9" r="0.4" fill="#444"/><circle cx="211.7" cy="195.1" r="0.4" fill="#444"/><circle cx="202.9" cy="207.0" r="0.4" fill="#444"/><circle cx="203.8" cy="206.7" r="0.4" fill="#444"/><circle cx="208.4" cy="213.8" r="0.4" fill="#444"/><circle cx="209.8" cy="212.9" r="0.4" fill="#444"/><circle cx="205.0" cy="206.3" r="0.4" fill="#444"/><circle cx="205.9" cy="204.3" r="0.4" fill="#444"/><circle cx="210.0" cy="194.5" r="0.4" fill="#444"/><circle cx="204.8" cy="206.2" r="0.4" fill="#444"/><circle cx="201.4" cy="205.0" r="0.4" fill="#444"/><circle cx="209.6" cy="206.8" r="0.4" fill="#444"/><circle cx="224.1" cy="192.6" r="0.4" fill="#444"/><circle cx="210.1" cy="193.7" r="0.4" fill="#444"/><circle cx="204.8" cy="227.6" r="0.4" fill="#444"/><circle cx="193.0" cy="203.1" r="0.4" fill="#444"/><circle cx="210.0" cy="205.9" r="0.4" fill="#444"/><circle cx="215.2" cy="192.2" r="0.4" fill="#444"/><circle cx="210.0" cy="211.3" r="0.4" fill="#444"/><circle cx="208.1" cy="202.9" r="0.4" fill="#444"/><circle cx="211.1" cy="204.8" r="0.4" fill="#444"/><circle cx="209.0" cy="203.8" r="0.4" fill="#444"/><circle cx="194.8" cy="202.5" r="0.4" fill="#444"/><circle cx="205.6" cy="212.7" r="0.4" fill="#444"/><circle cx="202.0" cy="205.1" r="0.4" fill="#444"/><circle cx="209.4" cy="209.2" r="0.4" fill="#444"/><circle cx="207.9" cy="223.4" r="0.4" fill="#444"/><circle cx="206.6" cy="191.7" r="0.4" fill="#444"/><circle cx="207.1" cy="219.4" r="0.4" fill="#444"/><circle cx="209.3" cy="214.5" r="0.4" fill="#444"/><circle cx="205.1" cy="200.8" r="0.4" fill="#444"/><circle cx="213.5" cy="202.3" r="0.4" fill="#444"/><circle cx="199.5" cy="196.5" r="0.4" fill="#444"/><circle cx="214.7" cy="225.3" r="0.4" fill="#444"/><circle cx="204.8" cy="200.5" r="0.4" fill="#444"/><circle cx="209.6" cy="202.2" r="0.4" fill="#444"/><circle cx="213.6" cy="209.0" r="0.4" fill="#444"/><circle cx="197.4" cy="214.1" r="0.4" fill="#444"/><circle cx="202.9" cy="207.4" r="0.4" fill="#444"/><circle cx="207.2" cy="204.8" r="0.4" fill="#444"/><circle cx="210.0" cy="202.7" r="0.4" fill="#444"/><circle cx="202.5" cy="187.9" r="0.4" fill="#444"/><circle cx="201.8" cy="199.2" r="0.4" fill="#444"/><circle cx="206.2" cy="207.3" r="0.4" fill="#444"/><circle cx="209.1" cy="208.9" r="0.4" fill="#444"/><circle cx="204.1" cy="200.5" r="0.4" fill="#444"/><circle cx="195.8" cy="201.7" r="0.4" fill="#444"/><circle cx="207.7" cy="211.7" r="0.4" fill="#444"/><circle cx="206.3" cy="205.5" r="0.4" fill="#444"/><circle cx="211.4" cy="208.9" r="0.4" fill="#444"/><circle cx="208.9" cy="212.5" r="0.4" fill="#444"/><circle cx="204.3" cy="216.6" r="0.4" fill="#444"/><circle cx="204.4" cy="203.4" r="0.4" fill="#444"/><circle cx="204.3" cy="199.8" r="0.4" fill="#444"/><circle cx="210.2" cy="222.4" r="0.4" fill="#444"/><circle cx="205.2" cy="211.0" r="0.4" fill="#444"/><circle cx="210.6" cy="214.9" r="0.4" fill="#444"/><circle cx="216.1" cy="200.4" r="0.4" fill="#444"/><circle cx="202.0" cy="209.0" r="0.4" fill="#444"/><circle cx="213.8" cy="210.5" r="0.4" fill="#444"/><circle cx="202.9" cy="202.9" r="0.4" fill="#444"/><circle cx="205.2" cy="199.7" r="0.4" fill="#444"/><circle cx="216.0" cy="205.5" r="0.4" fill="#444"/><circle cx="201.1" cy="222.3" r="0.4" fill="#444"/><circle cx="211.9" cy="211.6" r="0.4" fill="#444"/><circle cx="202.2" cy="208.7" r="0.4" fill="#444"/><circle cx="213.4" cy="214.5" r="0.4" fill="#444"/><circle cx="212.9" cy="210.1" r="0.4" fill="#444"/><circle cx="209.7" cy="206.6" r="0.4" fill="#444"/><circle cx="205.4" cy="217.0" r="0.4" fill="#444"/><circle cx="199.1" cy="203.8" r="0.4" fill="#444"/><circle cx="209.2" cy="203.4" r="0.4" fill="#444"/><circle cx="202.9" cy="212.0" r="0.4" fill="#444"/><circle cx="215.4" cy="215.3" r="0.4" fill="#444"/><circle cx="212.2" cy="196.7" r="0.4" fill="#444"/><circle cx="216.4" cy="211.2" r="0.4" fill="#444"/><circle cx="209.2" cy="199.1" r="0.4" fill="#444"/><circle cx="209.0" cy="199.2" r="0.4" fill="#444"/><circle cx="205.7" cy="210.4" r="0.4" fill="#444"/><circle cx="205.9" cy="209.0" r="0.4" fill="#444"/><circle cx="198.3" cy="215.4" r="0.4" fill="#444"/><circle cx="207.7" cy="192.9" r="0.4" fill="#444"/><circle cx="207.5" cy="201.3" r="0.4" fill="#444"/><circle cx="202.1" cy="202.6" r="0.4" fill="#444"/><circle cx="211.1" cy="199.2" r="0.4" fill="#444"/><circle cx="202.1" cy="216.8" r="0.4" fill="#444"/><circle cx="210.5" cy="207.2" r="0.4" fill="#444"/><circle cx="207.5" cy="206.4" r="0.4" fill="#444"/><circle cx="204.4" cy="212.1" r="0.4" fill="#444"/><circle cx="212.2" cy="189.9" r="0.4" fill="#444"/><circle cx="208.7" cy="200.7" r="0.4" fill="#444"/><circle cx="211.5" cy="203.9" r="0.4" fill="#444"/><circle cx="201.7" cy="222.6" r="0.4" fill="#444"/><circle cx="203.9" cy="197.1" r="0.4" fill="#444"/><circle cx="205.2" cy="187.4" r="0.4" fill="#444"/><circle cx="195.7" cy="206.0" r="0.4" fill="#444"/><circle cx="207.9" cy="192.6" r="0.4" fill="#444"/><circle cx="197.1" cy="208.5" r="0.4" fill="#444"/><circle cx="203.4" cy="202.9" r="0.4" fill="#444"/><circle cx="204.8" cy="217.2" r="0.4" fill="#444"/><circle cx="214.1" cy="218.0" r="0.4" fill="#444"/><circle cx="206.8" cy="208.6" r="0.4" fill="#444"/><circle cx="212.3" cy="220.5" r="0.4" fill="#444"/><circle cx="203.7" cy="209.6" r="0.4" fill="#444"/><circle cx="207.9" cy="207.9" r="0.4" fill="#444"/><circle cx="207.3" cy="196.7" r="0.4" fill="#444"/><circle cx="207.7" cy="195.1" r="0.4" fill="#444"/><circle cx="211.6" cy="213.1" r="0.4" fill="#444"/><circle cx="196.6" cy="214.5" r="0.4" fill="#444"/><circle cx="216.1" cy="195.3" r="0.4" fill="#444"/><circle cx="214.1" cy="216.2" r="0.4" fill="#444"/><circle cx="220.5" cy="202.3" r="0.4" fill="#444"/><circle cx="208.2" cy="211.0" r="0.4" fill="#444"/><circle cx="207.1" cy="208.6" r="0.4" fill="#444"/><circle cx="215.9" cy="198.5" r="0.4" fill="#444"/><circle cx="203.5" cy="194.8" r="0.4" fill="#444"/><circle cx="205.1" cy="201.7" r="0.4" fill="#444"/><circle cx="207.7" cy="209.6" r="0.4" fill="#444"/><circle cx="208.4" cy="202.3" r="0.4" fill="#444"/><circle cx="201.7" cy="212.9" r="0.4" fill="#444"/><circle cx="210.3" cy="209.2" r="0.4" fill="#444"/><circle cx="200.8" cy="217.3" r="0.4" fill="#444"/><circle cx="201.7" cy="210.4" r="0.4" fill="#444"/><circle cx="213.3" cy="207.3" r="0.4" fill="#444"/><circle cx="213.7" cy="200.7" r="0.4" fill="#444"/><circle cx="211.3" cy="210.3" r="0.4" fill="#444"/><circle cx="196.4" cy="208.7" r="0.4" fill="#444"/><circle cx="198.5" cy="214.3" r="0.4" fill="#444"/><circle cx="203.3" cy="204.5" r="0.4" fill="#444"/><circle cx="208.8" cy="205.2" r="0.4" fill="#444"/><circle cx="209.3" cy="203.6" r="0.4" fill="#444"/><circle cx="210.0" cy="208.3" r="0.4" fill="#444"/><circle cx="214.7" cy="188.0" r="0.4" fill="#444"/><circle cx="212.5" cy="209.4" r="0.4" fill="#444"/><circle cx="196.9" cy="204.3" r="0.4" fill="#444"/><circle cx="206.2" cy="215.4" r="0.4" fill="#444"/><circle cx="196.8" cy="215.8" r="0.4" fill="#444"/><circle cx="199.5" cy="223.6" r="0.4" fill="#444"/><circle cx="204.0" cy="211.5" r="0.4" fill="#444"/><circle cx="207.4" cy="198.4" r="0.4" fill="#444"/><circle cx="209.9" cy="215.5" r="0.4" fill="#444"/><circle cx="212.4" cy="216.0" r="0.4" fill="#444"/><circle cx="207.7" cy="194.2" r="0.4" fill="#444"/><circle cx="204.8" cy="201.0" r="0.4" fill="#444"/><circle cx="200.7" cy="209.5" r="0.4" fill="#444"/><circle cx="208.9" cy="205.7" r="0.4" fill="#444"/><circle cx="207.8" cy="206.3" r="0.4" fill="#444"/><circle cx="205.7" cy="212.7" r="0.4" fill="#444"/><circle cx="213.3" cy="204.0" r="0.4" fill="#444"/><circle cx="194.9" cy="214.2" r="0.4" fill="#444"/><circle cx="204.3" cy="215.0" r="0.4" fill="#444"/><circle cx="198.7" cy="201.5" r="0.4" fill="#444"/><circle cx="210.3" cy="196.9" r="0.4" fill="#444"/><circle cx="201.9" cy="211.1" r="0.4" fill="#444"/><circle cx="208.1" cy="220.3" r="0.4" fill="#444"/><circle cx="205.6" cy="195.5" r="0.4" fill="#444"/><circle cx="206.8" cy="214.6" r="0.4" fill="#444"/><circle cx="210.9" cy="198.2" r="0.4" fill="#444"/><circle cx="208.6" cy="214.1" r="0.4" fill="#444"/><circle cx="210.7" cy="204.6" r="0.4" fill="#444"/><circle cx="206.1" cy="213.2" r="0.4" fill="#444"/><circle cx="215.9" cy="203.1" r="0.42" fill="#333"/><circle cx="226.0" cy="206.7" r="0.42" fill="#333"/><circle cx="224.8" cy="209.2" r="0.42" fill="#333"/><circle cx="219.1" cy="208.6" r="0.42" fill="#333"/><circle cx="222.1" cy="209.5" r="0.42" fill="#333"/><circle cx="232.7" cy="199.4" r="0.42" fill="#333"/><circle cx="239.0" cy="203.0" r="0.42" fill="#333"/><circle cx="229.1" cy="205.1" r="0.42" fill="#333"/><circle cx="233.9" cy="198.9" r="0.42" fill="#333"/><circle cx="220.3" cy="203.7" r="0.42" fill="#333"/><circle cx="228.6" cy="208.7" r="0.42" fill="#333"/><circle cx="227.2" cy="205.7" r="0.42" fill="#333"/><circle cx="222.0" cy="207.8" r="0.42" fill="#333"/><circle cx="215.9" cy="215.4" r="0.42" fill="#333"/><circle cx="218.3" cy="204.8" r="0.42" fill="#333"/><circle cx="216.6" cy="207.0" r="0.42" fill="#333"/><circle cx="230.5" cy="206.3" r="0.42" fill="#333"/><circle cx="216.1" cy="214.7" r="0.42" fill="#333"/><circle cx="227.5" cy="201.2" r="0.42" fill="#333"/><circle cx="212.1" cy="210.1" r="0.42" fill="#333"/><circle cx="219.6" cy="210.1" r="0.42" fill="#333"/><circle cx="216.9" cy="201.7" r="0.42" fill="#333"/><circle cx="221.6" cy="200.9" r="0.42" fill="#333"/><circle cx="226.5" cy="199.2" r="0.42" fill="#333"/><circle cx="217.0" cy="206.6" r="0.42" fill="#333"/><circle cx="222.0" cy="212.6" r="0.42" fill="#333"/><circle cx="229.6" cy="205.0" r="0.42" fill="#333"/><circle cx="222.1" cy="200.5" r="0.42" fill="#333"/><circle cx="218.6" cy="206.9" r="0.42" fill="#333"/><circle cx="217.8" cy="211.9" r="0.42" fill="#333"/><circle cx="216.9" cy="207.3" r="0.42" fill="#333"/><circle cx="212.4" cy="204.4" r="0.42" fill="#333"/><circle cx="229.3" cy="208.2" r="0.42" fill="#333"/><circle cx="222.2" cy="202.8" r="0.42" fill="#333"/><circle cx="206.1" cy="217.8" r="0.42" fill="#333"/><circle cx="231.3" cy="202.6" r="0.42" fill="#333"/><circle cx="231.7" cy="207.3" r="0.42" fill="#333"/><circle cx="229.3" cy="200.7" r="0.42" fill="#333"/><circle cx="231.2" cy="204.7" r="0.42" fill="#333"/><circle cx="212.5" cy="211.4" r="0.42" fill="#333"/><circle cx="213.7" cy="211.8" r="0.42" fill="#333"/><circle cx="224.6" cy="200.9" r="0.42" fill="#333"/><circle cx="212.4" cy="218.6" r="0.42" fill="#333"/><circle cx="228.2" cy="209.5" r="0.42" fill="#333"/><circle cx="216.6" cy="215.0" r="0.42" fill="#333"/><circle cx="240.0" cy="204.4" r="0.42" fill="#333"/><circle cx="222.2" cy="208.2" r="0.42" fill="#333"/><circle cx="223.9" cy="210.2" r="0.42" fill="#333"/><circle cx="229.8" cy="202.6" r="0.42" fill="#333"/><circle cx="215.8" cy="214.2" r="0.42" fill="#333"/><circle cx="221.2" cy="210.3" r="0.42" fill="#333"/><circle cx="227.8" cy="210.4" r="0.42" fill="#333"/><circle cx="229.4" cy="200.6" r="0.42" fill="#333"/><circle cx="228.6" cy="210.5" r="0.42" fill="#333"/><circle cx="220.4" cy="210.0" r="0.42" fill="#333"/><circle cx="233.0" cy="205.6" r="0.42" fill="#333"/><circle cx="223.8" cy="200.4" r="0.42" fill="#333"/><circle cx="215.5" cy="212.3" r="0.42" fill="#333"/><circle cx="230.3" cy="212.7" r="0.42" fill="#333"/><circle cx="219.7" cy="213.4" r="0.42" fill="#333"/><circle cx="224.7" cy="198.3" r="0.42" fill="#333"/><circle cx="218.1" cy="210.3" r="0.42" fill="#333"/><circle cx="219.6" cy="208.0" r="0.42" fill="#333"/><circle cx="224.4" cy="202.2" r="0.42" fill="#333"/><circle cx="224.8" cy="202.7" r="0.42" fill="#333"/><circle cx="220.6" cy="210.3" r="0.42" fill="#333"/><circle cx="219.9" cy="209.7" r="0.42" fill="#333"/><circle cx="233.2" cy="200.2" r="0.42" fill="#333"/><circle cx="223.5" cy="209.3" r="0.42" fill="#333"/><circle cx="222.7" cy="211.3" r="0.42" fill="#333"/><circle cx="216.0" cy="213.5" r="0.42" fill="#333"/><circle cx="218.2" cy="206.1" r="0.42" fill="#333"/><circle cx="232.6" cy="196.9" r="0.42" fill="#333"/><circle cx="235.4" cy="201.5" r="0.42" fill="#333"/><circle cx="230.4" cy="197.7" r="0.42" fill="#333"/><circle cx="233.4" cy="206.2" r="0.42" fill="#333"/><circle cx="222.0" cy="206.6" r="0.42" fill="#333"/><circle cx="239.0" cy="197.3" r="0.42" fill="#333"/><circle cx="219.1" cy="206.3" r="0.42" fill="#333"/><circle cx="226.5" cy="205.7" r="0.42" fill="#333"/><circle cx="227.4" cy="211.0" r="0.42" fill="#333"/><circle cx="221.8" cy="209.2" r="0.42" fill="#333"/><circle cx="230.4" cy="197.6" r="0.42" fill="#333"/><circle cx="233.1" cy="208.0" r="0.42" fill="#333"/><circle cx="212.3" cy="208.5" r="0.42" fill="#333"/><circle cx="212.9" cy="205.0" r="0.42" fill="#333"/><circle cx="222.3" cy="199.0" r="0.42" fill="#333"/><circle cx="228.9" cy="209.0" r="0.42" fill="#333"/><circle cx="212.1" cy="212.0" r="0.42" fill="#333"/><circle cx="212.3" cy="216.5" r="0.42" fill="#333"/><circle cx="217.8" cy="208.6" r="0.42" fill="#333"/><circle cx="224.4" cy="207.9" r="0.42" fill="#333"/><circle cx="220.8" cy="207.9" r="0.42" fill="#333"/><circle cx="219.7" cy="209.0" r="0.42" fill="#333"/><circle cx="215.7" cy="211.4" r="0.42" fill="#333"/><circle cx="209.8" cy="212.7" r="0.42" fill="#333"/><circle cx="235.3" cy="199.1" r="0.42" fill="#333"/><circle cx="215.5" cy="212.3" r="0.42" fill="#333"/><circle cx="213.7" cy="205.3" r="0.42" fill="#333"/><circle cx="219.7" cy="211.7" r="0.42" fill="#333"/><circle cx="225.3" cy="204.7" r="0.42" fill="#333"/><circle cx="215.0" cy="206.9" r="0.42" fill="#333"/><circle cx="232.1" cy="201.9" r="0.42" fill="#333"/><circle cx="212.9" cy="203.8" r="0.42" fill="#333"/><circle cx="219.0" cy="219.5" r="0.42" fill="#333"/><circle cx="215.5" cy="210.8" r="0.42" fill="#333"/><circle cx="224.0" cy="205.2" r="0.42" fill="#333"/><circle cx="218.6" cy="203.4" r="0.42" fill="#333"/><circle cx="219.5" cy="215.8" r="0.42" fill="#333"/><circle cx="219.8" cy="212.1" r="0.42" fill="#333"/><circle cx="211.7" cy="212.4" r="0.42" fill="#333"/><circle cx="226.6" cy="208.6" r="0.42" fill="#333"/><circle cx="217.0" cy="212.8" r="0.42" fill="#333"/><circle cx="224.0" cy="202.7" r="0.42" fill="#333"/><circle cx="224.3" cy="201.9" r="0.42" fill="#333"/><circle cx="217.9" cy="209.6" r="0.42" fill="#333"/><circle cx="205.5" cy="217.0" r="0.42" fill="#333"/><circle cx="213.8" cy="206.0" r="0.42" fill="#333"/><circle cx="221.8" cy="210.5" r="0.42" fill="#333"/><circle cx="222.8" cy="212.0" r="0.42" fill="#333"/><circle cx="213.1" cy="207.1" r="0.42" fill="#333"/><circle cx="233.6" cy="201.6" r="0.42" fill="#333"/><circle cx="227.4" cy="200.2" r="0.42" fill="#333"/><circle cx="228.6" cy="204.1" r="0.42" fill="#333"/><circle cx="227.2" cy="204.0" r="0.42" fill="#333"/><circle cx="229.4" cy="199.7" r="0.42" fill="#333"/><circle cx="214.1" cy="205.8" r="0.42" fill="#333"/><circle cx="229.0" cy="199.6" r="0.42" fill="#333"/><circle cx="214.6" cy="207.8" r="0.42" fill="#333"/><circle cx="217.7" cy="204.4" r="0.42" fill="#333"/><circle cx="220.0" cy="205.7" r="0.42" fill="#333"/><circle cx="217.7" cy="205.8" r="0.42" fill="#333"/><circle cx="222.4" cy="204.9" r="0.42" fill="#333"/><circle cx="224.2" cy="206.8" r="0.42" fill="#333"/><circle cx="221.0" cy="198.5" r="0.42" fill="#333"/><circle cx="218.1" cy="206.2" r="0.42" fill="#333"/><circle cx="224.9" cy="198.6" r="0.42" fill="#333"/><circle cx="217.9" cy="208.4" r="0.42" fill="#333"/><circle cx="222.8" cy="210.9" r="0.42" fill="#333"/><circle cx="222.0" cy="211.2" r="0.42" fill="#333"/><circle cx="210.2" cy="206.8" r="0.42" fill="#333"/><circle cx="231.6" cy="203.0" r="0.42" fill="#333"/><circle cx="226.3" cy="204.9" r="0.42" fill="#333"/><circle cx="223.8" cy="200.9" r="0.42" fill="#333"/><circle cx="228.0" cy="201.1" r="0.42" fill="#333"/><circle cx="229.4" cy="202.9" r="0.42" fill="#333"/><circle cx="208.0" cy="210.4" r="0.42" fill="#333"/><circle cx="229.9" cy="201.6" r="0.42" fill="#333"/><circle cx="220.9" cy="208.8" r="0.42" fill="#333"/><circle cx="219.3" cy="206.5" r="0.42" fill="#333"/><circle cx="223.9" cy="206.5" r="0.42" fill="#333"/><circle cx="232.7" cy="200.6" r="0.42" fill="#333"/><circle cx="238.4" cy="204.5" r="0.42" fill="#333"/><circle cx="235.9" cy="202.9" r="0.42" fill="#333"/><circle cx="224.1" cy="206.4" r="0.42" fill="#333"/><circle cx="220.7" cy="204.8" r="0.42" fill="#333"/><circle cx="221.4" cy="204.8" r="0.42" fill="#333"/><circle cx="234.4" cy="201.6" r="0.42" fill="#333"/><circle cx="216.5" cy="202.4" r="0.42" fill="#333"/><circle cx="221.9" cy="205.4" r="0.42" fill="#333"/><circle cx="213.9" cy="207.3" r="0.42" fill="#333"/><circle cx="209.8" cy="217.2" r="0.42" fill="#333"/><circle cx="227.5" cy="214.6" r="0.42" fill="#333"/><circle cx="222.5" cy="206.2" r="0.42" fill="#333"/><circle cx="232.4" cy="201.2" r="0.42" fill="#333"/><circle cx="223.4" cy="204.7" r="0.42" fill="#333"/><circle cx="222.0" cy="213.5" r="0.42" fill="#333"/><circle cx="232.6" cy="207.8" r="0.42" fill="#333"/><circle cx="220.8" cy="208.0" r="0.42" fill="#333"/><circle cx="219.2" cy="213.0" r="0.42" fill="#333"/><circle cx="214.4" cy="217.1" r="0.44" fill="#2a2a2a"/><circle cx="221.5" cy="216.5" r="0.44" fill="#2a2a2a"/><circle cx="216.3" cy="218.1" r="0.44" fill="#2a2a2a"/><circle cx="213.5" cy="212.1" r="0.44" fill="#2a2a2a"/><circle cx="215.6" cy="218.8" r="0.44" fill="#2a2a2a"/><circle cx="219.1" cy="209.5" r="0.44" fill="#2a2a2a"/><circle cx="214.2" cy="213.4" r="0.44" fill="#2a2a2a"/><circle cx="224.0" cy="213.4" r="0.44" fill="#2a2a2a"/><circle cx="212.0" cy="208.6" r="0.44" fill="#2a2a2a"/><circle cx="217.1" cy="218.1" r="0.44" fill="#2a2a2a"/><circle cx="220.2" cy="210.2" r="0.44" fill="#2a2a2a"/><circle cx="214.0" cy="212.8" r="0.44" fill="#2a2a2a"/><circle cx="213.9" cy="218.8" r="0.44" fill="#2a2a2a"/><circle cx="216.0" cy="218.2" r="0.44" fill="#2a2a2a"/><circle cx="210.4" cy="211.8" r="0.44" fill="#2a2a2a"/><circle cx="215.8" cy="210.7" r="0.44" fill="#2a2a2a"/><circle cx="218.3" cy="212.5" r="0.44" fill="#2a2a2a"/><circle cx="215.0" cy="217.0" r="0.44" fill="#2a2a2a"/><circle cx="215.0" cy="206.4" r="0.44" fill="#2a2a2a"/><circle cx="221.5" cy="212.7" r="0.44" fill="#2a2a2a"/><circle cx="214.9" cy="206.7" r="0.44" fill="#2a2a2a"/><circle cx="214.3" cy="213.3" r="0.44" fill="#2a2a2a"/><circle cx="216.3" cy="207.5" r="0.44" fill="#2a2a2a"/><circle cx="210.9" cy="208.3" r="0.44" fill="#2a2a2a"/><circle cx="216.6" cy="214.9" r="0.44" fill="#2a2a2a"/><circle cx="211.6" cy="213.8" r="0.44" fill="#2a2a2a"/><circle cx="220.5" cy="217.8" r="0.44" fill="#2a2a2a"/><circle cx="217.4" cy="211.7" r="0.44" fill="#2a2a2a"/><circle cx="212.2" cy="212.1" r="0.44" fill="#2a2a2a"/><circle cx="215.3" cy="214.8" r="0.44" fill="#2a2a2a"/><circle cx="219.4" cy="218.8" r="0.44" fill="#2a2a2a"/><circle cx="215.2" cy="209.8" r="0.44" fill="#2a2a2a"/><circle cx="221.7" cy="214.5" r="0.44" fill="#2a2a2a"/><circle cx="215.4" cy="211.1" r="0.44" fill="#2a2a2a"/><circle cx="210.4" cy="212.7" r="0.44" fill="#2a2a2a"/><circle cx="217.1" cy="209.8" r="0.44" fill="#2a2a2a"/><circle cx="213.9" cy="215.8" r="0.44" fill="#2a2a2a"/><circle cx="218.1" cy="215.1" r="0.44" fill="#2a2a2a"/><circle cx="220.5" cy="217.0" r="0.44" fill="#2a2a2a"/><circle cx="216.4" cy="217.6" r="0.44" fill="#2a2a2a"/><circle cx="215.5" cy="216.9" r="0.44" fill="#2a2a2a"/><circle cx="217.3" cy="214.0" r="0.44" fill="#2a2a2a"/><circle cx="218.6" cy="212.2" r="0.44" fill="#2a2a2a"/><circle cx="220.6" cy="214.8" r="0.44" fill="#2a2a2a"/><circle cx="215.8" cy="211.6" r="0.44" fill="#2a2a2a"/><circle cx="213.9" cy="212.8" r="0.44" fill="#2a2a2a"/><circle cx="216.0" cy="213.7" r="0.44" fill="#2a2a2a"/><circle cx="224.4" cy="211.6" r="0.44" fill="#2a2a2a"/><circle cx="216.7" cy="209.8" r="0.44" fill="#2a2a2a"/><circle cx="214.3" cy="213.4" r="0.44" fill="#2a2a2a"/><circle cx="215.1" cy="210.0" r="0.44" fill="#2a2a2a"/><circle cx="219.1" cy="209.6" r="0.44" fill="#2a2a2a"/><circle cx="214.7" cy="204.8" r="0.44" fill="#2a2a2a"/><circle cx="217.0" cy="214.4" r="0.44" fill="#2a2a2a"/><circle cx="218.0" cy="215.1" r="0.44" fill="#2a2a2a"/><circle cx="217.4" cy="213.6" r="0.44" fill="#2a2a2a"/><circle cx="211.0" cy="213.7" r="0.44" fill="#2a2a2a"/><circle cx="212.4" cy="218.5" r="0.44" fill="#2a2a2a"/><circle cx="216.8" cy="212.5" r="0.44" fill="#2a2a2a"/><circle cx="213.6" cy="212.8" r="0.44" fill="#2a2a2a"/><circle cx="223.8" cy="216.5" r="0.44" fill="#2a2a2a"/><circle cx="218.7" cy="217.6" r="0.44" fill="#2a2a2a"/><circle cx="209.4" cy="209.5" r="0.44" fill="#2a2a2a"/><circle cx="213.8" cy="211.4" r="0.44" fill="#2a2a2a"/><circle cx="215.6" cy="214.8" r="0.44" fill="#2a2a2a"/><circle cx="222.1" cy="207.5" r="0.44" fill="#2a2a2a"/><circle cx="217.1" cy="214.3" r="0.44" fill="#2a2a2a"/><circle cx="218.1" cy="216.4" r="0.44" fill="#2a2a2a"/><circle cx="218.3" cy="207.3" r="0.44" fill="#2a2a2a"/><circle cx="216.4" cy="212.5" r="0.44" fill="#2a2a2a"/><circle cx="214.5" cy="208.3" r="0.44" fill="#2a2a2a"/><circle cx="208.4" cy="208.6" r="0.44" fill="#2a2a2a"/><circle cx="218.0" cy="213.4" r="0.44" fill="#2a2a2a"/><circle cx="212.4" cy="206.0" r="0.44" fill="#2a2a2a"/><circle cx="214.3" cy="211.6" r="0.44" fill="#2a2a2a"/><circle cx="211.7" cy="212.5" r="0.44" fill="#2a2a2a"/><circle cx="219.1" cy="214.3" r="0.44" fill="#2a2a2a"/><circle cx="217.4" cy="215.1" r="0.44" fill="#2a2a2a"/><circle cx="215.3" cy="214.5" r="0.44" fill="#2a2a2a"/><circle cx="217.6" cy="215.2" r="0.44" fill="#2a2a2a"/><circle cx="216.1" cy="213.1" r="0.44" fill="#2a2a2a"/><circle cx="215.0" cy="211.7" r="0.44" fill="#2a2a2a"/><circle cx="222.5" cy="212.2" r="0.44" fill="#2a2a2a"/><circle cx="221.6" cy="220.1" r="0.44" fill="#2a2a2a"/><circle cx="216.9" cy="206.8" r="0.44" fill="#2a2a2a"/><circle cx="219.6" cy="215.2" r="0.44" fill="#2a2a2a"/><circle cx="223.1" cy="215.2" r="0.44" fill="#2a2a2a"/><circle cx="216.1" cy="208.8" r="0.44" fill="#2a2a2a"/><circle cx="215.0" cy="215.5" r="0.44" fill="#2a2a2a"/><circle cx="215.8" cy="209.7" r="0.44" fill="#2a2a2a"/>
<g transform="rotate(3 207.2 229.4)">
<rect x="196.6" y="213.6" width="21.2" height="31.6" rx="9" ry="11" fill="#6e6e6e"/>
<rect x="197.5" y="214.5" width="19.4" height="29.8" rx="8.3" ry="10.2" fill="#c4c4c4"/>
<rect x="199.00" y="216.30" width="17.0" height="26.8" rx="7.65" ry="9.65" fill="#b2b2b2" stroke="#686868" stroke-width="0.5"/>
<rect x="200.20" y="217.70" width="14.6" height="24.0" rx="6.57" ry="8.64" fill="#cbcbcb" stroke="#686868" stroke-width="0.5"/>
<rect x="201.40" y="219.10" width="12.2" height="21.2" rx="5.49" ry="7.63" fill="#b2b2b2" stroke="#686868" stroke-width="0.5"/>
<rect x="202.60" y="220.50" width="9.8" height="18.4" rx="4.41" ry="6.62" fill="#cbcbcb" stroke="#686868" stroke-width="0.5"/>
<rect x="203.80" y="221.90" width="7.4" height="15.6" rx="3.33" ry="5.62" fill="#b2b2b2" stroke="#686868" stroke-width="0.5"/>
<rect x="205.00" y="223.30" width="5.0" height="12.8" rx="2.25" ry="4.61" fill="#cbcbcb" stroke="#686868" stroke-width="0.5"/>
<ellipse cx="207.6" cy="230.20000000000002" rx="0.8" ry="5.0" fill="#fff"/>
</g>
<circle cx="200.0" cy="217.0" r="0.47" fill="#151515"/><circle cx="217.1" cy="235.3" r="0.47" fill="#151515"/><circle cx="213.6" cy="242.3" r="0.47" fill="#151515"/><circle cx="197.1" cy="237.7" r="0.47" fill="#151515"/><circle cx="213.7" cy="215.6" r="0.47" fill="#151515"/><circle cx="196.7" cy="229.8" r="0.47" fill="#151515"/><circle cx="215.2" cy="240.5" r="0.47" fill="#151515"/><circle cx="216.3" cy="220.1" r="0.47" fill="#151515"/><circle cx="196.2" cy="231.2" r="0.47" fill="#151515"/><circle cx="209.2" cy="246.5" r="0.47" fill="#151515"/><circle cx="218.6" cy="229.8" r="0.47" fill="#151515"/><circle cx="203.6" cy="244.9" r="0.47" fill="#151515"/><circle cx="206.6" cy="211.5" r="0.47" fill="#151515"/><circle cx="218.4" cy="231.6" r="0.47" fill="#151515"/><circle cx="214.4" cy="242.4" r="0.47" fill="#151515"/><circle cx="196.1" cy="226.0" r="0.47" fill="#151515"/><circle cx="217.2" cy="220.9" r="0.47" fill="#151515"/><circle cx="214.0" cy="243.0" r="0.47" fill="#151515"/><circle cx="205.4" cy="213.2" r="0.47" fill="#151515"/><circle cx="215.7" cy="238.1" r="0.47" fill="#151515"/><circle cx="204.6" cy="246.3" r="0.47" fill="#151515"/><circle cx="205.0" cy="214.3" r="0.47" fill="#151515"/><circle cx="209.9" cy="245.5" r="0.47" fill="#151515"/><circle cx="197.5" cy="237.7" r="0.47" fill="#151515"/><circle cx="211.9" cy="213.5" r="0.47" fill="#151515"/><circle cx="215.1" cy="217.5" r="0.47" fill="#151515"/><circle cx="215.9" cy="221.0" r="0.47" fill="#151515"/><circle cx="205.1" cy="246.7" r="0.47" fill="#151515"/><circle cx="198.9" cy="241.5" r="0.47" fill="#151515"/><circle cx="197.9" cy="219.7" r="0.47" fill="#151515"/><circle cx="196.8" cy="234.3" r="0.47" fill="#151515"/><circle cx="205.4" cy="214.5" r="0.47" fill="#151515"/><circle cx="201.7" cy="243.3" r="0.47" fill="#151515"/><circle cx="208.2" cy="212.6" r="0.47" fill="#151515"/><circle cx="217.3" cy="225.3" r="0.47" fill="#151515"/><circle cx="196.6" cy="225.7" r="0.47" fill="#151515"/><circle cx="218.3" cy="226.6" r="0.47" fill="#151515"/><circle cx="215.5" cy="240.4" r="0.47" fill="#151515"/><circle cx="218.7" cy="233.2" r="0.47" fill="#151515"/><circle cx="210.4" cy="245.0" r="0.47" fill="#151515"/><circle cx="198.6" cy="221.5" r="0.47" fill="#151515"/><circle cx="216.1" cy="239.2" r="0.47" fill="#151515"/><circle cx="218.1" cy="234.7" r="0.47" fill="#151515"/><circle cx="196.2" cy="228.7" r="0.47" fill="#151515"/><circle cx="197.0" cy="238.4" r="0.47" fill="#151515"/><circle cx="215.3" cy="216.8" r="0.47" fill="#151515"/><circle cx="207.9" cy="212.1" r="0.47" fill="#151515"/><circle cx="217.3" cy="223.5" r="0.47" fill="#151515"/><circle cx="213.5" cy="216.0" r="0.47" fill="#151515"/><circle cx="217.9" cy="224.3" r="0.47" fill="#151515"/><circle cx="207.0" cy="246.3" r="0.47" fill="#151515"/><circle cx="218.8" cy="228.2" r="0.47" fill="#151515"/><circle cx="212.4" cy="214.9" r="0.47" fill="#151515"/><circle cx="194.8" cy="227.0" r="0.47" fill="#151515"/><circle cx="206.4" cy="246.1" r="0.47" fill="#151515"/><circle cx="199.4" cy="241.2" r="0.47" fill="#151515"/><circle cx="196.9" cy="235.5" r="0.47" fill="#151515"/><circle cx="214.4" cy="242.1" r="0.47" fill="#151515"/><circle cx="217.0" cy="224.0" r="0.47" fill="#151515"/><circle cx="216.1" cy="219.1" r="0.47" fill="#151515"/><circle cx="201.0" cy="215.6" r="0.47" fill="#151515"/><circle cx="205.0" cy="245.0" r="0.47" fill="#151515"/><circle cx="199.8" cy="217.2" r="0.47" fill="#151515"/><circle cx="196.3" cy="235.4" r="0.47" fill="#151515"/><circle cx="202.7" cy="244.3" r="0.47" fill="#151515"/><circle cx="197.9" cy="219.9" r="0.47" fill="#151515"/><circle cx="205.2" cy="245.7" r="0.47" fill="#151515"/><circle cx="213.3" cy="243.0" r="0.47" fill="#151515"/><circle cx="203.5" cy="245.2" r="0.47" fill="#151515"/><circle cx="206.8" cy="246.1" r="0.47" fill="#151515"/><circle cx="213.5" cy="216.4" r="0.47" fill="#151515"/><circle cx="201.3" cy="215.1" r="0.47" fill="#151515"/><circle cx="197.1" cy="232.8" r="0.47" fill="#151515"/><circle cx="196.3" cy="232.1" r="0.47" fill="#151515"/><circle cx="208.2" cy="245.5" r="0.47" fill="#151515"/><circle cx="197.6" cy="220.5" r="0.47" fill="#151515"/><circle cx="215.1" cy="216.7" r="0.47" fill="#151515"/><circle cx="196.5" cy="229.8" r="0.47" fill="#151515"/><circle cx="203.3" cy="244.5" r="0.47" fill="#151515"/><circle cx="217.4" cy="236.4" r="0.47" fill="#151515"/><circle cx="216.6" cy="236.3" r="0.47" fill="#151515"/><circle cx="207.0" cy="212.8" r="0.47" fill="#151515"/><circle cx="218.1" cy="225.9" r="0.47" fill="#151515"/><circle cx="201.0" cy="243.7" r="0.47" fill="#151515"/><circle cx="199.0" cy="218.7" r="0.47" fill="#151515"/><circle cx="196.3" cy="227.1" r="0.47" fill="#151515"/><circle cx="208.7" cy="213.0" r="0.47" fill="#151515"/><circle cx="205.1" cy="213.7" r="0.47" fill="#151515"/><circle cx="216.2" cy="218.0" r="0.47" fill="#151515"/><circle cx="199.6" cy="220.6" r="0.47" fill="#151515"/><circle cx="198.5" cy="221.6" r="0.47" fill="#151515"/><circle cx="215.2" cy="218.4" r="0.47" fill="#151515"/><circle cx="197.3" cy="233.8" r="0.47" fill="#151515"/><circle cx="203.6" cy="245.4" r="0.47" fill="#151515"/><circle cx="198.7" cy="240.5" r="0.47" fill="#151515"/><circle cx="214.0" cy="216.5" r="0.47" fill="#151515"/><circle cx="210.8" cy="244.9" r="0.47" fill="#151515"/><circle cx="197.9" cy="221.5" r="0.47" fill="#151515"/><circle cx="216.9" cy="221.5" r="0.47" fill="#151515"/><circle cx="214.0" cy="216.0" r="0.47" fill="#151515"/><circle cx="196.8" cy="236.1" r="0.47" fill="#151515"/><circle cx="216.9" cy="234.6" r="0.47" fill="#151515"/><circle cx="217.4" cy="222.5" r="0.47" fill="#151515"/><circle cx="217.5" cy="229.8" r="0.47" fill="#151515"/><circle cx="203.8" cy="213.9" r="0.47" fill="#151515"/><circle cx="199.3" cy="219.1" r="0.47" fill="#151515"/><circle cx="203.2" cy="214.6" r="0.47" fill="#151515"/><circle cx="199.2" cy="240.9" r="0.47" fill="#151515"/><circle cx="196.6" cy="222.0" r="0.47" fill="#151515"/><circle cx="196.9" cy="230.3" r="0.47" fill="#151515"/><circle cx="217.9" cy="229.5" r="0.47" fill="#151515"/><circle cx="212.6" cy="214.3" r="0.47" fill="#151515"/><circle cx="218.6" cy="227.9" r="0.47" fill="#151515"/><circle cx="215.8" cy="239.9" r="0.47" fill="#151515"/><circle cx="213.3" cy="215.1" r="0.47" fill="#151515"/><circle cx="196.8" cy="236.9" r="0.47" fill="#151515"/><circle cx="196.6" cy="227.7" r="0.47" fill="#151515"/><circle cx="210.8" cy="243.9" r="0.47" fill="#151515"/><circle cx="199.3" cy="242.0" r="0.47" fill="#151515"/><circle cx="216.7" cy="234.3" r="0.47" fill="#151515"/><circle cx="202.5" cy="244.4" r="0.47" fill="#151515"/><circle cx="202.6" cy="243.9" r="0.47" fill="#151515"/><circle cx="202.4" cy="214.3" r="0.47" fill="#151515"/><circle cx="197.1" cy="223.2" r="0.47" fill="#151515"/><circle cx="195.7" cy="225.6" r="0.47" fill="#151515"/><circle cx="197.1" cy="237.7" r="0.47" fill="#151515"/><circle cx="208.7" cy="213.0" r="0.47" fill="#151515"/><circle cx="211.2" cy="243.8" r="0.47" fill="#151515"/><circle cx="199.3" cy="218.5" r="0.47" fill="#151515"/><circle cx="218.3" cy="231.2" r="0.47" fill="#151515"/><circle cx="205.7" cy="213.1" r="0.47" fill="#151515"/><circle cx="205.0" cy="246.3" r="0.47" fill="#151515"/><circle cx="198.4" cy="220.6" r="0.47" fill="#151515"/><circle cx="197.3" cy="239.9" r="0.47" fill="#151515"/><circle cx="197.4" cy="220.9" r="0.47" fill="#151515"/><circle cx="199.7" cy="217.7" r="0.47" fill="#151515"/><circle cx="217.9" cy="223.3" r="0.47" fill="#151515"/><circle cx="216.8" cy="220.5" r="0.47" fill="#151515"/><circle cx="198.3" cy="219.2" r="0.47" fill="#151515"/><circle cx="218.0" cy="224.7" r="0.47" fill="#151515"/><circle cx="205.9" cy="212.8" r="0.47" fill="#151515"/><circle cx="214.8" cy="218.2" r="0.47" fill="#151515"/><circle cx="206.8" cy="246.2" r="0.47" fill="#151515"/><circle cx="210.9" cy="244.5" r="0.47" fill="#151515"/><circle cx="196.7" cy="222.5" r="0.47" fill="#151515"/><circle cx="198.4" cy="239.8" r="0.47" fill="#151515"/><circle cx="214.7" cy="240.8" r="0.47" fill="#151515"/><circle cx="206.7" cy="246.2" r="0.47" fill="#151515"/><circle cx="207.3" cy="245.9" r="0.47" fill="#151515"/><circle cx="200.1" cy="243.4" r="0.47" fill="#151515"/><circle cx="215.8" cy="239.5" r="0.47" fill="#151515"/><circle cx="213.5" cy="241.8" r="0.47" fill="#151515"/><circle cx="211.9" cy="213.8" r="0.47" fill="#151515"/><circle cx="206.4" cy="212.1" r="0.47" fill="#151515"/><circle cx="209.5" cy="245.1" r="0.47" fill="#151515"/><circle cx="207.9" cy="245.7" r="0.47" fill="#151515"/><circle cx="205.1" cy="212.2" r="0.47" fill="#151515"/><circle cx="198.5" cy="220.2" r="0.47" fill="#151515"/><circle cx="198.9" cy="217.9" r="0.47" fill="#151515"/><circle cx="214.0" cy="241.1" r="0.47" fill="#151515"/><circle cx="205.0" cy="244.8" r="0.47" fill="#151515"/><circle cx="202.1" cy="215.7" r="0.47" fill="#151515"/><circle cx="197.8" cy="239.5" r="0.47" fill="#151515"/><circle cx="214.3" cy="215.9" r="0.47" fill="#151515"/><circle cx="214.8" cy="240.0" r="0.47" fill="#151515"/><circle cx="196.2" cy="228.8" r="0.47" fill="#151515"/><circle cx="202.2" cy="244.6" r="0.47" fill="#151515"/><circle cx="205.8" cy="212.7" r="0.47" fill="#151515"/><circle cx="217.1" cy="221.8" r="0.47" fill="#151515"/><circle cx="215.2" cy="217.0" r="0.47" fill="#151515"/><circle cx="217.5" cy="232.8" r="0.47" fill="#151515"/><circle cx="200.4" cy="242.6" r="0.47" fill="#151515"/><circle cx="204.6" cy="212.6" r="0.47" fill="#151515"/><circle cx="200.1" cy="241.9" r="0.47" fill="#151515"/><circle cx="215.6" cy="240.3" r="0.47" fill="#151515"/><circle cx="205.4" cy="213.4" r="0.47" fill="#151515"/><circle cx="212.4" cy="244.0" r="0.47" fill="#151515"/><circle cx="198.1" cy="240.1" r="0.47" fill="#151515"/><circle cx="200.4" cy="215.7" r="0.47" fill="#151515"/><circle cx="197.6" cy="222.1" r="0.47" fill="#151515"/><circle cx="196.9" cy="235.1" r="0.47" fill="#151515"/><circle cx="218.8" cy="230.1" r="0.47" fill="#151515"/><circle cx="203.6" cy="245.4" r="0.47" fill="#151515"/><circle cx="198.7" cy="218.7" r="0.47" fill="#151515"/><circle cx="215.2" cy="240.0" r="0.47" fill="#151515"/><circle cx="217.2" cy="221.7" r="0.47" fill="#151515"/><circle cx="204.5" cy="213.3" r="0.47" fill="#151515"/><circle cx="213.2" cy="215.1" r="0.47" fill="#151515"/><circle cx="216.7" cy="224.3" r="0.47" fill="#151515"/><circle cx="204.0" cy="215.1" r="0.47" fill="#151515"/><circle cx="200.3" cy="217.2" r="0.47" fill="#151515"/><circle cx="204.7" cy="213.5" r="0.47" fill="#151515"/><circle cx="218.3" cy="222.5" r="0.47" fill="#151515"/><circle cx="217.3" cy="234.0" r="0.47" fill="#151515"/><circle cx="205.7" cy="245.1" r="0.47" fill="#151515"/><circle cx="201.0" cy="216.8" r="0.47" fill="#151515"/><circle cx="216.8" cy="236.0" r="0.47" fill="#151515"/><circle cx="209.7" cy="245.4" r="0.47" fill="#151515"/><circle cx="205.1" cy="214.0" r="0.47" fill="#151515"/><circle cx="206.9" cy="245.6" r="0.47" fill="#151515"/><circle cx="217.4" cy="223.4" r="0.47" fill="#151515"/><circle cx="216.5" cy="218.6" r="0.47" fill="#151515"/><circle cx="200.8" cy="242.5" r="0.47" fill="#151515"/><circle cx="208.9" cy="212.4" r="0.47" fill="#151515"/><circle cx="199.6" cy="219.4" r="0.47" fill="#151515"/><circle cx="213.6" cy="215.2" r="0.47" fill="#151515"/><circle cx="199.4" cy="241.7" r="0.47" fill="#151515"/><circle cx="204.1" cy="246.2" r="0.47" fill="#151515"/><circle cx="196.0" cy="234.2" r="0.47" fill="#151515"/><circle cx="196.4" cy="232.1" r="0.47" fill="#151515"/><circle cx="218.6" cy="237.2" r="0.47" fill="#151515"/><circle cx="208.1" cy="212.6" r="0.47" fill="#151515"/><circle cx="218.0" cy="228.0" r="0.47" fill="#151515"/><circle cx="196.5" cy="230.0" r="0.47" fill="#151515"/><circle cx="195.3" cy="224.4" r="0.47" fill="#151515"/><circle cx="201.7" cy="217.1" r="0.47" fill="#151515"/><circle cx="201.6" cy="215.3" r="0.47" fill="#151515"/><circle cx="214.4" cy="242.4" r="0.47" fill="#151515"/><circle cx="213.8" cy="215.6" r="0.47" fill="#151515"/><circle cx="200.1" cy="217.5" r="0.47" fill="#151515"/><circle cx="212.1" cy="242.8" r="0.47" fill="#151515"/><circle cx="207.5" cy="212.7" r="0.47" fill="#151515"/><circle cx="212.9" cy="214.7" r="0.47" fill="#151515"/><circle cx="197.8" cy="223.5" r="0.47" fill="#151515"/><circle cx="207.1" cy="245.9" r="0.47" fill="#151515"/><circle cx="199.8" cy="217.9" r="0.47" fill="#151515"/><circle cx="217.4" cy="220.9" r="0.47" fill="#151515"/><circle cx="195.8" cy="228.9" r="0.47" fill="#151515"/><circle cx="197.2" cy="220.7" r="0.47" fill="#151515"/><circle cx="211.3" cy="244.1" r="0.47" fill="#151515"/>
<g transform="rotate(-33 226 204.6)">
<ellipse cx="226" cy="204.6" rx="10.5" ry="3.9" fill="#d4d4d4"/>
<ellipse cx="226" cy="204.6" rx="8.5" ry="3.0" fill="#bcbcbc"/>
<ellipse cx="226" cy="204.6" rx="6.4" ry="2.1" fill="#cdcdcd"/>
<ellipse cx="226" cy="204.6" rx="4.2" ry="1.2" fill="#a8a8a8"/>
</g>
<circle cx="235.3" cy="201.3" r="0.4" fill="#303030"/><circle cx="231.4" cy="205.6" r="0.4" fill="#303030"/><circle cx="229.6" cy="198.9" r="0.4" fill="#303030"/><circle cx="219.2" cy="211.6" r="0.4" fill="#303030"/><circle cx="217.1" cy="209.9" r="0.4" fill="#303030"/><circle cx="218.6" cy="210.9" r="0.4" fill="#303030"/><circle cx="232.2" cy="197.5" r="0.4" fill="#303030"/><circle cx="218.6" cy="211.0" r="0.4" fill="#303030"/><circle cx="231.4" cy="206.0" r="0.4" fill="#303030"/><circle cx="216.9" cy="211.7" r="0.4" fill="#303030"/><circle cx="231.1" cy="197.8" r="0.4" fill="#303030"/><circle cx="217.9" cy="206.7" r="0.4" fill="#303030"/><circle cx="220.2" cy="204.3" r="0.4" fill="#303030"/><circle cx="216.5" cy="208.7" r="0.4" fill="#303030"/><circle cx="218.7" cy="205.0" r="0.4" fill="#303030"/><circle cx="231.5" cy="197.8" r="0.4" fill="#303030"/><circle cx="220.1" cy="204.0" r="0.4" fill="#303030"/><circle cx="219.3" cy="204.4" r="0.4" fill="#303030"/><circle cx="219.7" cy="211.1" r="0.4" fill="#303030"/><circle cx="220.1" cy="211.6" r="0.4" fill="#303030"/><circle cx="231.4" cy="198.0" r="0.4" fill="#303030"/><circle cx="230.1" cy="198.0" r="0.4" fill="#303030"/><circle cx="216.6" cy="209.6" r="0.4" fill="#303030"/><circle cx="216.5" cy="208.9" r="0.4" fill="#303030"/><circle cx="233.9" cy="202.6" r="0.4" fill="#303030"/><circle cx="234.9" cy="201.2" r="0.4" fill="#303030"/><circle cx="218.0" cy="211.4" r="0.4" fill="#303030"/><circle cx="222.0" cy="202.7" r="0.4" fill="#303030"/><circle cx="234.9" cy="198.6" r="0.4" fill="#303030"/><circle cx="228.2" cy="198.7" r="0.4" fill="#303030"/><circle cx="233.6" cy="198.5" r="0.4" fill="#303030"/><circle cx="233.5" cy="203.2" r="0.4" fill="#303030"/><circle cx="229.0" cy="207.6" r="0.4" fill="#303030"/><circle cx="217.0" cy="207.4" r="0.4" fill="#303030"/><circle cx="221.4" cy="202.3" r="0.4" fill="#303030"/><circle cx="217.8" cy="206.9" r="0.4" fill="#303030"/><circle cx="233.0" cy="197.8" r="0.4" fill="#303030"/><circle cx="223.1" cy="200.7" r="0.4" fill="#303030"/><circle cx="220.2" cy="204.2" r="0.4" fill="#303030"/><circle cx="220.9" cy="210.4" r="0.4" fill="#303030"/><circle cx="222.0" cy="202.2" r="0.4" fill="#303030"/><circle cx="234.0" cy="202.1" r="0.4" fill="#303030"/><circle cx="234.6" cy="201.9" r="0.4" fill="#303030"/><circle cx="228.2" cy="208.6" r="0.4" fill="#303030"/><circle cx="228.8" cy="198.7" r="0.4" fill="#303030"/><circle cx="235.9" cy="198.9" r="0.4" fill="#303030"/><circle cx="231.4" cy="205.4" r="0.4" fill="#303030"/><circle cx="220.4" cy="203.5" r="0.4" fill="#303030"/><circle cx="230.5" cy="198.4" r="0.4" fill="#303030"/><circle cx="227.2" cy="199.3" r="0.4" fill="#303030"/><circle cx="223.0" cy="211.1" r="0.4" fill="#303030"/><circle cx="230.8" cy="198.1" r="0.4" fill="#303030"/><circle cx="231.5" cy="204.7" r="0.4" fill="#303030"/><circle cx="220.5" cy="211.2" r="0.4" fill="#303030"/><circle cx="228.6" cy="198.3" r="0.4" fill="#303030"/><circle cx="217.3" cy="207.0" r="0.4" fill="#303030"/><circle cx="230.0" cy="206.3" r="0.4" fill="#303030"/><circle cx="235.6" cy="199.8" r="0.4" fill="#303030"/><circle cx="217.9" cy="210.8" r="0.4" fill="#303030"/><circle cx="222.0" cy="211.1" r="0.4" fill="#303030"/><circle cx="223.2" cy="210.7" r="0.4" fill="#303030"/><circle cx="235.1" cy="198.3" r="0.4" fill="#303030"/><circle cx="219.6" cy="204.1" r="0.4" fill="#303030"/><circle cx="217.0" cy="210.5" r="0.4" fill="#303030"/><circle cx="215.5" cy="210.7" r="0.4" fill="#303030"/><circle cx="234.6" cy="200.0" r="0.4" fill="#303030"/><circle cx="231.0" cy="198.4" r="0.4" fill="#303030"/><circle cx="218.3" cy="205.6" r="0.4" fill="#303030"/><circle cx="227.0" cy="200.2" r="0.4" fill="#303030"/><circle cx="219.9" cy="203.3" r="0.4" fill="#303030"/><circle cx="223.2" cy="201.6" r="0.4" fill="#303030"/><circle cx="222.6" cy="210.6" r="0.4" fill="#303030"/><circle cx="235.1" cy="200.6" r="0.4" fill="#303030"/><circle cx="234.5" cy="198.7" r="0.4" fill="#303030"/><circle cx="228.9" cy="208.2" r="0.4" fill="#303030"/><circle cx="234.2" cy="203.0" r="0.4" fill="#303030"/><circle cx="218.5" cy="211.0" r="0.4" fill="#303030"/><circle cx="225.2" cy="209.9" r="0.4" fill="#303030"/><circle cx="225.7" cy="210.3" r="0.4" fill="#303030"/><circle cx="216.4" cy="209.4" r="0.4" fill="#303030"/><circle cx="232.8" cy="197.9" r="0.4" fill="#303030"/><circle cx="231.1" cy="204.9" r="0.4" fill="#303030"/><circle cx="221.8" cy="210.6" r="0.4" fill="#303030"/><circle cx="230.7" cy="197.7" r="0.4" fill="#303030"/><circle cx="231.8" cy="197.7" r="0.4" fill="#303030"/><circle cx="235.5" cy="199.2" r="0.4" fill="#303030"/><circle cx="221.0" cy="202.6" r="0.4" fill="#303030"/><circle cx="230.4" cy="205.7" r="0.4" fill="#303030"/><circle cx="218.3" cy="204.9" r="0.4" fill="#303030"/><circle cx="234.2" cy="198.2" r="0.4" fill="#303030"/><circle cx="227.5" cy="199.4" r="0.4" fill="#303030"/><circle cx="234.0" cy="203.6" r="0.4" fill="#303030"/><circle cx="230.8" cy="198.8" r="0.4" fill="#303030"/><circle cx="230.6" cy="207.2" r="0.4" fill="#303030"/><circle cx="219.0" cy="204.8" r="0.4" fill="#303030"/><circle cx="223.0" cy="210.9" r="0.4" fill="#303030"/><circle cx="235.0" cy="200.0" r="0.4" fill="#303030"/><circle cx="217.3" cy="210.4" r="0.4" fill="#303030"/><circle cx="216.8" cy="211.7" r="0.4" fill="#303030"/><circle cx="216.7" cy="208.8" r="0.4" fill="#303030"/><circle cx="217.9" cy="207.0" r="0.4" fill="#303030"/><circle cx="235.0" cy="201.6" r="0.4" fill="#303030"/><circle cx="224.6" cy="200.1" r="0.4" fill="#303030"/><circle cx="219.5" cy="211.0" r="0.4" fill="#303030"/><circle cx="217.1" cy="208.9" r="0.4" fill="#303030"/><circle cx="223.4" cy="210.2" r="0.4" fill="#303030"/><circle cx="222.1" cy="203.4" r="0.4" fill="#303030"/><circle cx="224.0" cy="208.9" r="0.4" fill="#303030"/><circle cx="218.2" cy="211.3" r="0.4" fill="#303030"/><circle cx="233.7" cy="197.8" r="0.4" fill="#303030"/>
</g>
<rect x="184.3" y="171.3" width="75.89999999999998" height="76.6" fill="none" stroke="#111" stroke-width="1.4"/>
<line x1="184.3" y1="170.60000000000002" x2="184.3" y2="248.8" stroke="#0a0a0a" stroke-width="1.8" />
<line x1="183.4" y1="247.9" x2="260.9" y2="247.9" stroke="#0a0a0a" stroke-width="1.8" />
<path d="M186.8 247.9 V213.4 H217.4 V247.9" fill="none" stroke="#222" stroke-width="0.9"/>
<path d="M217.4 213.4 L218.0 201.8 L220.7 194.2 L230.5 189.4 L239.9 192.5 L245.5 204 L239 213.2 Z" fill="none" stroke="#222" stroke-width="0.9"/>
<text x="245.3" y="185.9" font-size="7.7" fill="#2a2a2a" stroke="#2a2a2a" stroke-width="0.18" text-anchor="middle" >14.7%</text>
<text x="240.8" y="241.9" font-size="7.9" fill="#2a2a2a" stroke="#2a2a2a" stroke-width="0.18" text-anchor="middle" >79%</text>
<text x="202.3" y="164.9" font-size="9" fill="#161616" stroke="#161616" stroke-width="0.05" textLength="40.2" lengthAdjust="spacingAndGlyphs" >gBT-I WT</text>
<line x1="180.9" y1="179.0" x2="184.3" y2="179.0" stroke="#111" stroke-width="1.0" />
<text x="180.7" y="182.8" font-size="7.8" fill="#161616" stroke="#161616" stroke-width="0.18" text-anchor="end" >10<tspan dy="-3.1" font-size="5.8">5</tspan></text>
<line x1="180.9" y1="197.2" x2="184.3" y2="197.2" stroke="#111" stroke-width="1.0" />
<text x="180.7" y="200.9" font-size="7.8" fill="#161616" stroke="#161616" stroke-width="0.18" text-anchor="end" >10<tspan dy="-3.1" font-size="5.8">4</tspan></text>
<line x1="180.9" y1="215.8" x2="184.3" y2="215.8" stroke="#111" stroke-width="1.0" />
<text x="180.7" y="219.7" font-size="7.8" fill="#161616" stroke="#161616" stroke-width="0.18" text-anchor="end" >10<tspan dy="-3.1" font-size="5.8">3</tspan></text>
<line x1="180.9" y1="232.8" x2="184.3" y2="232.8" stroke="#111" stroke-width="1.0" />
<text x="174.3" y="235.7" font-size="7.8" fill="#161616" stroke="#161616" stroke-width="0.18" text-anchor="middle" >0</text>
<line x1="182.10000000000002" y1="191.9" x2="184.3" y2="191.9" stroke="#111" stroke-width="0.7" />
<line x1="182.10000000000002" y1="188.6" x2="184.3" y2="188.6" stroke="#111" stroke-width="0.7" />
<line x1="182.10000000000002" y1="186.3" x2="184.3" y2="186.3" stroke="#111" stroke-width="0.7" />
<line x1="182.10000000000002" y1="184.5" x2="184.3" y2="184.5" stroke="#111" stroke-width="0.7" />
<line x1="182.10000000000002" y1="183.1" x2="184.3" y2="183.1" stroke="#111" stroke-width="0.7" />
<line x1="182.10000000000002" y1="181.9" x2="184.3" y2="181.9" stroke="#111" stroke-width="0.7" />
<line x1="182.10000000000002" y1="180.8" x2="184.3" y2="180.8" stroke="#111" stroke-width="0.7" />
<line x1="182.10000000000002" y1="179.8" x2="184.3" y2="179.8" stroke="#111" stroke-width="0.7" />
<line x1="182.10000000000002" y1="210.1" x2="184.3" y2="210.1" stroke="#111" stroke-width="0.7" />
<line x1="182.10000000000002" y1="206.8" x2="184.3" y2="206.8" stroke="#111" stroke-width="0.7" />
<line x1="182.10000000000002" y1="204.5" x2="184.3" y2="204.5" stroke="#111" stroke-width="0.7" />
<line x1="182.10000000000002" y1="202.7" x2="184.3" y2="202.7" stroke="#111" stroke-width="0.7" />
<line x1="182.10000000000002" y1="201.3" x2="184.3" y2="201.3" stroke="#111" stroke-width="0.7" />
<line x1="182.10000000000002" y1="200.1" x2="184.3" y2="200.1" stroke="#111" stroke-width="0.7" />
<line x1="182.10000000000002" y1="199.0" x2="184.3" y2="199.0" stroke="#111" stroke-width="0.7" />
<line x1="182.10000000000002" y1="198.0" x2="184.3" y2="198.0" stroke="#111" stroke-width="0.7" />
<line x1="182.3" y1="173.0" x2="184.3" y2="173.0" stroke="#111" stroke-width="0.7" />
<line x1="182.3" y1="174.6" x2="184.3" y2="174.6" stroke="#111" stroke-width="0.7" />
<line x1="182.3" y1="176.0" x2="184.3" y2="176.0" stroke="#111" stroke-width="0.7" />
<line x1="182.3" y1="177.4" x2="184.3" y2="177.4" stroke="#111" stroke-width="0.7" />
<line x1="182.3" y1="217.5" x2="184.3" y2="217.5" stroke="#111" stroke-width="0.7" />
<line x1="182.3" y1="219.5" x2="184.3" y2="219.5" stroke="#111" stroke-width="0.7" />
<line x1="182.3" y1="221.5" x2="184.3" y2="221.5" stroke="#111" stroke-width="0.7" />
<line x1="182.3" y1="223.5" x2="184.3" y2="223.5" stroke="#111" stroke-width="0.7" />
<line x1="182.3" y1="225.5" x2="184.3" y2="225.5" stroke="#111" stroke-width="0.7" />
<line x1="182.3" y1="227.5" x2="184.3" y2="227.5" stroke="#111" stroke-width="0.7" />
<line x1="182.3" y1="229.5" x2="184.3" y2="229.5" stroke="#111" stroke-width="0.7" />
<line x1="182.3" y1="231" x2="184.3" y2="231" stroke="#111" stroke-width="0.7" />
<line x1="182.3" y1="234.5" x2="184.3" y2="234.5" stroke="#111" stroke-width="0.7" />
<line x1="182.3" y1="236.5" x2="184.3" y2="236.5" stroke="#111" stroke-width="0.7" />
<line x1="182.3" y1="238.5" x2="184.3" y2="238.5" stroke="#111" stroke-width="0.7" />
<line x1="182.3" y1="240.5" x2="184.3" y2="240.5" stroke="#111" stroke-width="0.7" />
<line x1="182.3" y1="242.5" x2="184.3" y2="242.5" stroke="#111" stroke-width="0.7" />
<line x1="182.3" y1="244.5" x2="184.3" y2="244.5" stroke="#111" stroke-width="0.7" />
<line x1="218.20000000000002" y1="247.9" x2="218.20000000000002" y2="251.1" stroke="#111" stroke-width="1.0" />
<text x="219.4" y="261.9" font-size="7.8" fill="#161616" stroke="#161616" stroke-width="0.18" text-anchor="middle" >10<tspan dy="-3.1" font-size="5.8">3</tspan></text>
<line x1="235.5" y1="247.9" x2="235.5" y2="251.1" stroke="#111" stroke-width="1.0" />
<text x="236.7" y="261.9" font-size="7.8" fill="#161616" stroke="#161616" stroke-width="0.18" text-anchor="middle" >10<tspan dy="-3.1" font-size="5.8">4</tspan></text>
<line x1="252.5" y1="247.9" x2="252.5" y2="251.1" stroke="#111" stroke-width="1.0" />
<text x="253.7" y="261.9" font-size="7.8" fill="#161616" stroke="#161616" stroke-width="0.18" text-anchor="middle" >10<tspan dy="-3.1" font-size="5.8">5</tspan></text>
<line x1="194.2" y1="247.9" x2="194.2" y2="251.1" stroke="#111" stroke-width="1.0" />
<text x="194.2" y="261.9" font-size="7.8" fill="#161616" stroke="#161616" stroke-width="0.18" text-anchor="middle" >0</text>
<line x1="224.9" y1="247.9" x2="224.9" y2="250.1" stroke="#111" stroke-width="0.7" />
<line x1="228.4" y1="247.9" x2="228.4" y2="250.1" stroke="#111" stroke-width="0.7" />
<line x1="230.9" y1="247.9" x2="230.9" y2="250.1" stroke="#111" stroke-width="0.7" />
<line x1="232.8" y1="247.9" x2="232.8" y2="250.1" stroke="#111" stroke-width="0.7" />
<line x1="234.3" y1="247.9" x2="234.3" y2="250.1" stroke="#111" stroke-width="0.7" />
<line x1="235.6" y1="247.9" x2="235.6" y2="250.1" stroke="#111" stroke-width="0.7" />
<line x1="236.8" y1="247.9" x2="236.8" y2="250.1" stroke="#111" stroke-width="0.7" />
<line x1="237.8" y1="247.9" x2="237.8" y2="250.1" stroke="#111" stroke-width="0.7" />
<line x1="243.8" y1="247.9" x2="243.8" y2="250.1" stroke="#111" stroke-width="0.7" />
<line x1="246.8" y1="247.9" x2="246.8" y2="250.1" stroke="#111" stroke-width="0.7" />
<line x1="248.9" y1="247.9" x2="248.9" y2="250.1" stroke="#111" stroke-width="0.7" />
<line x1="250.6" y1="247.9" x2="250.6" y2="250.1" stroke="#111" stroke-width="0.7" />
<line x1="251.9" y1="247.9" x2="251.9" y2="250.1" stroke="#111" stroke-width="0.7" />
<line x1="253.1" y1="247.9" x2="253.1" y2="250.1" stroke="#111" stroke-width="0.7" />
<line x1="254.1" y1="247.9" x2="254.1" y2="250.1" stroke="#111" stroke-width="0.7" />
<line x1="254.9" y1="247.9" x2="254.9" y2="250.1" stroke="#111" stroke-width="0.7" />
<line x1="186.5" y1="247.9" x2="186.5" y2="249.9" stroke="#111" stroke-width="0.7" />
<line x1="188.5" y1="247.9" x2="188.5" y2="249.9" stroke="#111" stroke-width="0.7" />
<line x1="190.5" y1="247.9" x2="190.5" y2="249.9" stroke="#111" stroke-width="0.7" />
<line x1="192.5" y1="247.9" x2="192.5" y2="249.9" stroke="#111" stroke-width="0.7" />
<line x1="197.5" y1="247.9" x2="197.5" y2="249.9" stroke="#111" stroke-width="0.7" />
<line x1="200" y1="247.9" x2="200" y2="249.9" stroke="#111" stroke-width="0.7" />
<line x1="202.5" y1="247.9" x2="202.5" y2="249.9" stroke="#111" stroke-width="0.7" />
<line x1="205" y1="247.9" x2="205" y2="249.9" stroke="#111" stroke-width="0.7" />
<line x1="207.5" y1="247.9" x2="207.5" y2="249.9" stroke="#111" stroke-width="0.7" />
<line x1="210" y1="247.9" x2="210" y2="249.9" stroke="#111" stroke-width="0.7" />
<line x1="212.5" y1="247.9" x2="212.5" y2="249.9" stroke="#111" stroke-width="0.7" />
<line x1="215" y1="247.9" x2="215" y2="249.9" stroke="#111" stroke-width="0.7" />
<line x1="217" y1="247.9" x2="217" y2="249.9" stroke="#111" stroke-width="0.7" />
<line x1="160.9" y1="270.4" x2="160.9" y2="235.4" stroke="#0d0d0d" stroke-width="1.4" />
<polygon points="160.90,231.20 163.30,236.80 160.90,235.40 158.50,236.80" fill="#0d0d0d"/>
<line x1="160.2" y1="269.7" x2="195.8" y2="269.7" stroke="#0d0d0d" stroke-width="1.4" />
<polygon points="200.00,269.70 194.40,272.10 195.80,269.70 194.40,267.30" fill="#0d0d0d"/>
<text x="164.5" y="226.8" font-size="10.3" fill="#1a1a1a" stroke="#1a1a1a" stroke-width="0.15" textLength="20.5" lengthAdjust="spacingAndGlyphs" transform="rotate(-90 164.5 226.8)" >CD44</text>
<text x="203.8" y="273.5" font-size="10.3" fill="#1a1a1a" stroke="#1a1a1a" stroke-width="0.15" textLength="26" lengthAdjust="spacingAndGlyphs" >CD122</text>
<g filter="url(#bl)">
<circle cx="297.3" cy="224.3" r="0.38" fill="#555"/><circle cx="312.4" cy="212.2" r="0.38" fill="#555"/><circle cx="317.8" cy="221.5" r="0.38" fill="#555"/><circle cx="311.2" cy="217.4" r="0.38" fill="#555"/><circle cx="316.0" cy="223.0" r="0.38" fill="#555"/><circle cx="321.4" cy="226.6" r="0.38" fill="#555"/><circle cx="305.3" cy="219.7" r="0.38" fill="#555"/><circle cx="319.4" cy="218.3" r="0.38" fill="#555"/><circle cx="314.5" cy="227.3" r="0.38" fill="#555"/><circle cx="309.4" cy="198.4" r="0.38" fill="#555"/><circle cx="312.2" cy="224.2" r="0.38" fill="#555"/><circle cx="312.2" cy="214.3" r="0.38" fill="#555"/><circle cx="322.1" cy="220.6" r="0.38" fill="#555"/><circle cx="305.3" cy="214.7" r="0.38" fill="#555"/><circle cx="314.3" cy="210.9" r="0.38" fill="#555"/><circle cx="301.8" cy="242.3" r="0.38" fill="#555"/><circle cx="323.0" cy="232.7" r="0.38" fill="#555"/><circle cx="323.5" cy="228.0" r="0.38" fill="#555"/><circle cx="295.5" cy="234.1" r="0.38" fill="#555"/><circle cx="322.4" cy="227.0" r="0.38" fill="#555"/><circle cx="293.0" cy="234.6" r="0.38" fill="#555"/><circle cx="323.6" cy="217.0" r="0.38" fill="#555"/><circle cx="312.2" cy="229.9" r="0.38" fill="#555"/><circle cx="310.2" cy="233.2" r="0.38" fill="#555"/><circle cx="311.7" cy="229.0" r="0.38" fill="#555"/><circle cx="311.8" cy="207.0" r="0.38" fill="#555"/><circle cx="313.6" cy="235.3" r="0.38" fill="#555"/><circle cx="321.5" cy="239.4" r="0.38" fill="#555"/><circle cx="316.1" cy="215.9" r="0.38" fill="#555"/><circle cx="311.2" cy="202.5" r="0.38" fill="#555"/><circle cx="309.3" cy="231.2" r="0.38" fill="#555"/><circle cx="291.1" cy="224.0" r="0.38" fill="#555"/><circle cx="318.6" cy="235.5" r="0.38" fill="#555"/><circle cx="302.5" cy="215.4" r="0.38" fill="#555"/><circle cx="293.7" cy="211.6" r="0.38" fill="#555"/><circle cx="315.9" cy="243.1" r="0.38" fill="#555"/><circle cx="300.4" cy="236.0" r="0.38" fill="#555"/><circle cx="314.9" cy="217.0" r="0.38" fill="#555"/><circle cx="331.2" cy="196.3" r="0.38" fill="#555"/><circle cx="310.4" cy="224.2" r="0.38" fill="#555"/><circle cx="330.7" cy="240.3" r="0.38" fill="#555"/><circle cx="331.9" cy="223.4" r="0.38" fill="#555"/><circle cx="320.1" cy="235.9" r="0.38" fill="#555"/><circle cx="315.7" cy="225.7" r="0.38" fill="#555"/><circle cx="309.3" cy="217.8" r="0.38" fill="#555"/><circle cx="299.7" cy="241.9" r="0.38" fill="#555"/><circle cx="306.9" cy="200.8" r="0.38" fill="#555"/><circle cx="313.4" cy="221.7" r="0.38" fill="#555"/><circle cx="312.6" cy="240.5" r="0.38" fill="#555"/><circle cx="310.0" cy="219.3" r="0.38" fill="#555"/><circle cx="304.1" cy="221.8" r="0.38" fill="#555"/><circle cx="306.9" cy="224.1" r="0.38" fill="#555"/><circle cx="339.9" cy="226.0" r="0.38" fill="#555"/><circle cx="303.1" cy="241.7" r="0.38" fill="#555"/><circle cx="319.0" cy="230.3" r="0.38" fill="#555"/><circle cx="317.6" cy="230.4" r="0.38" fill="#555"/><circle cx="317.2" cy="236.4" r="0.38" fill="#555"/><circle cx="320.3" cy="235.8" r="0.38" fill="#555"/><circle cx="306.4" cy="222.0" r="0.38" fill="#555"/><circle cx="304.3" cy="231.8" r="0.38" fill="#555"/><circle cx="318.7" cy="217.2" r="0.38" fill="#555"/><circle cx="322.4" cy="210.6" r="0.38" fill="#555"/><circle cx="310.1" cy="228.5" r="0.38" fill="#555"/><circle cx="310.7" cy="226.0" r="0.38" fill="#555"/><circle cx="321.9" cy="225.4" r="0.38" fill="#555"/><circle cx="300.8" cy="229.3" r="0.38" fill="#555"/><circle cx="310.1" cy="223.2" r="0.38" fill="#555"/><circle cx="305.8" cy="207.9" r="0.38" fill="#555"/><circle cx="299.5" cy="218.4" r="0.38" fill="#555"/><circle cx="301.1" cy="194.2" r="0.38" fill="#555"/><circle cx="321.6" cy="210.1" r="0.38" fill="#555"/><circle cx="304.3" cy="227.4" r="0.38" fill="#555"/><circle cx="288.7" cy="235.7" r="0.38" fill="#555"/><circle cx="303.9" cy="228.7" r="0.38" fill="#555"/><circle cx="306.5" cy="225.1" r="0.38" fill="#555"/><circle cx="312.0" cy="222.0" r="0.38" fill="#555"/><circle cx="294.1" cy="207.0" r="0.38" fill="#555"/><circle cx="310.6" cy="236.4" r="0.38" fill="#555"/><circle cx="306.0" cy="227.4" r="0.38" fill="#555"/><circle cx="312.5" cy="226.9" r="0.38" fill="#555"/><circle cx="320.2" cy="206.7" r="0.38" fill="#555"/><circle cx="313.5" cy="220.2" r="0.38" fill="#555"/><circle cx="308.1" cy="213.3" r="0.38" fill="#555"/><circle cx="303.7" cy="211.5" r="0.38" fill="#555"/><circle cx="326.7" cy="222.1" r="0.38" fill="#555"/><circle cx="317.9" cy="212.0" r="0.38" fill="#555"/><circle cx="285.3" cy="203.4" r="0.38" fill="#555"/><circle cx="312.3" cy="236.7" r="0.38" fill="#555"/><circle cx="310.6" cy="211.8" r="0.38" fill="#555"/><circle cx="308.8" cy="211.8" r="0.38" fill="#555"/><circle cx="298.1" cy="219.6" r="0.38" fill="#555"/><circle cx="307.3" cy="213.7" r="0.38" fill="#555"/><circle cx="302.8" cy="212.5" r="0.38" fill="#555"/><circle cx="313.2" cy="236.3" r="0.38" fill="#555"/><circle cx="309.1" cy="244.9" r="0.38" fill="#555"/><circle cx="296.0" cy="224.8" r="0.38" fill="#555"/><circle cx="300.3" cy="220.4" r="0.38" fill="#555"/><circle cx="311.9" cy="227.7" r="0.38" fill="#555"/><circle cx="321.5" cy="216.3" r="0.38" fill="#555"/><circle cx="299.5" cy="220.1" r="0.38" fill="#555"/><circle cx="313.7" cy="214.9" r="0.38" fill="#555"/><circle cx="319.3" cy="239.2" r="0.38" fill="#555"/><circle cx="297.8" cy="225.7" r="0.38" fill="#555"/><circle cx="320.4" cy="202.3" r="0.38" fill="#555"/><circle cx="312.9" cy="219.7" r="0.38" fill="#555"/><circle cx="297.8" cy="235.5" r="0.38" fill="#555"/><circle cx="313.0" cy="217.1" r="0.38" fill="#555"/><circle cx="315.1" cy="228.6" r="0.38" fill="#555"/><circle cx="318.1" cy="227.9" r="0.38" fill="#555"/><circle cx="314.8" cy="210.0" r="0.38" fill="#555"/><circle cx="307.1" cy="223.3" r="0.38" fill="#555"/><circle cx="285.4" cy="243.8" r="0.38" fill="#555"/><circle cx="307.5" cy="211.2" r="0.38" fill="#555"/><circle cx="294.2" cy="224.5" r="0.38" fill="#555"/><circle cx="311.3" cy="216.0" r="0.38" fill="#555"/><circle cx="307.1" cy="212.9" r="0.38" fill="#555"/><circle cx="304.1" cy="221.0" r="0.38" fill="#555"/><circle cx="305.0" cy="228.9" r="0.38" fill="#555"/><circle cx="309.7" cy="223.4" r="0.38" fill="#555"/><circle cx="314.8" cy="235.0" r="0.38" fill="#555"/><circle cx="316.6" cy="224.3" r="0.38" fill="#555"/><circle cx="309.5" cy="213.8" r="0.38" fill="#555"/><circle cx="307.8" cy="229.0" r="0.38" fill="#555"/><circle cx="313.1" cy="218.0" r="0.38" fill="#555"/><circle cx="298.7" cy="206.3" r="0.38" fill="#555"/><circle cx="314.0" cy="232.5" r="0.38" fill="#555"/><circle cx="314.5" cy="207.9" r="0.38" fill="#555"/><circle cx="309.0" cy="224.3" r="0.38" fill="#555"/><circle cx="302.5" cy="225.5" r="0.38" fill="#555"/><circle cx="309.1" cy="213.5" r="0.38" fill="#555"/><circle cx="299.5" cy="230.3" r="0.38" fill="#555"/><circle cx="314.3" cy="212.9" r="0.38" fill="#555"/><circle cx="301.6" cy="231.1" r="0.38" fill="#555"/><circle cx="316.5" cy="218.9" r="0.38" fill="#555"/><circle cx="325.7" cy="219.0" r="0.38" fill="#555"/><circle cx="301.2" cy="233.2" r="0.38" fill="#555"/><circle cx="309.3" cy="225.5" r="0.38" fill="#555"/><circle cx="311.4" cy="211.8" r="0.38" fill="#555"/><circle cx="300.0" cy="220.0" r="0.38" fill="#555"/><circle cx="324.0" cy="211.7" r="0.38" fill="#555"/><circle cx="323.6" cy="224.3" r="0.38" fill="#555"/><circle cx="300.7" cy="224.7" r="0.38" fill="#555"/><circle cx="316.2" cy="212.8" r="0.38" fill="#555"/><circle cx="291.3" cy="225.6" r="0.38" fill="#555"/><circle cx="300.7" cy="226.5" r="0.38" fill="#555"/><circle cx="293.3" cy="220.5" r="0.38" fill="#555"/><circle cx="303.5" cy="206.9" r="0.38" fill="#555"/><circle cx="308.8" cy="223.8" r="0.38" fill="#555"/><circle cx="305.9" cy="209.9" r="0.38" fill="#555"/><circle cx="313.0" cy="204.1" r="0.38" fill="#555"/><circle cx="315.9" cy="227.0" r="0.38" fill="#555"/><circle cx="326.5" cy="231.0" r="0.38" fill="#555"/><circle cx="314.3" cy="224.7" r="0.38" fill="#555"/><circle cx="311.3" cy="208.5" r="0.38" fill="#555"/><circle cx="324.5" cy="227.4" r="0.38" fill="#555"/><circle cx="308.4" cy="210.3" r="0.38" fill="#555"/><circle cx="324.7" cy="227.4" r="0.38" fill="#555"/><circle cx="300.1" cy="228.9" r="0.38" fill="#555"/><circle cx="328.5" cy="221.8" r="0.38" fill="#555"/><circle cx="314.7" cy="217.8" r="0.38" fill="#555"/><circle cx="305.2" cy="232.9" r="0.38" fill="#555"/><circle cx="339.4" cy="223.2" r="0.38" fill="#555"/><circle cx="309.9" cy="230.1" r="0.38" fill="#555"/><circle cx="308.2" cy="229.4" r="0.38" fill="#555"/><circle cx="318.6" cy="211.6" r="0.38" fill="#555"/><circle cx="301.1" cy="221.2" r="0.38" fill="#555"/><circle cx="318.7" cy="224.8" r="0.38" fill="#555"/><circle cx="322.4" cy="208.0" r="0.38" fill="#555"/><circle cx="315.5" cy="215.7" r="0.38" fill="#555"/><circle cx="311.9" cy="225.3" r="0.38" fill="#555"/><circle cx="302.1" cy="219.7" r="0.38" fill="#555"/><circle cx="300.3" cy="224.7" r="0.38" fill="#555"/><circle cx="303.2" cy="217.0" r="0.38" fill="#555"/><circle cx="313.0" cy="215.3" r="0.38" fill="#555"/><circle cx="321.6" cy="215.5" r="0.38" fill="#555"/><circle cx="318.8" cy="224.9" r="0.38" fill="#555"/><circle cx="301.5" cy="219.8" r="0.38" fill="#555"/><circle cx="303.3" cy="218.3" r="0.38" fill="#555"/><circle cx="308.5" cy="240.5" r="0.38" fill="#555"/><circle cx="307.1" cy="238.0" r="0.38" fill="#555"/><circle cx="315.1" cy="208.7" r="0.38" fill="#555"/><circle cx="289.7" cy="228.9" r="0.38" fill="#555"/><circle cx="292.7" cy="229.3" r="0.38" fill="#555"/><circle cx="320.5" cy="226.0" r="0.38" fill="#555"/><circle cx="309.1" cy="219.4" r="0.38" fill="#555"/><circle cx="313.4" cy="218.9" r="0.38" fill="#555"/><circle cx="306.1" cy="218.2" r="0.38" fill="#555"/><circle cx="321.8" cy="215.7" r="0.38" fill="#555"/><circle cx="314.5" cy="210.3" r="0.38" fill="#555"/><circle cx="304.4" cy="208.0" r="0.38" fill="#555"/><circle cx="309.2" cy="228.9" r="0.38" fill="#555"/><circle cx="313.8" cy="217.0" r="0.38" fill="#555"/><circle cx="316.6" cy="218.5" r="0.38" fill="#555"/><circle cx="314.4" cy="224.8" r="0.38" fill="#555"/><circle cx="316.0" cy="196.8" r="0.38" fill="#555"/><circle cx="299.0" cy="229.9" r="0.38" fill="#555"/><circle cx="310.0" cy="244.8" r="0.38" fill="#555"/><circle cx="308.8" cy="216.4" r="0.38" fill="#555"/><circle cx="324.7" cy="227.6" r="0.38" fill="#555"/><circle cx="328.5" cy="227.2" r="0.38" fill="#555"/><circle cx="309.1" cy="229.4" r="0.38" fill="#555"/><circle cx="303.8" cy="217.5" r="0.38" fill="#555"/><circle cx="305.9" cy="219.7" r="0.38" fill="#555"/><circle cx="318.2" cy="217.1" r="0.38" fill="#555"/><circle cx="314.0" cy="216.9" r="0.38" fill="#555"/><circle cx="319.1" cy="194.0" r="0.38" fill="#555"/><circle cx="309.1" cy="223.7" r="0.38" fill="#555"/><circle cx="301.1" cy="232.3" r="0.38" fill="#555"/><circle cx="313.0" cy="235.0" r="0.38" fill="#555"/><circle cx="319.8" cy="228.5" r="0.38" fill="#555"/><circle cx="309.6" cy="211.0" r="0.38" fill="#555"/><circle cx="309.0" cy="217.3" r="0.38" fill="#555"/><circle cx="313.3" cy="217.3" r="0.38" fill="#555"/><circle cx="339.1" cy="205.8" r="0.38" fill="#555"/><circle cx="321.8" cy="217.2" r="0.38" fill="#555"/><circle cx="308.8" cy="231.4" r="0.38" fill="#555"/><circle cx="311.0" cy="209.7" r="0.38" fill="#555"/><circle cx="314.8" cy="220.0" r="0.38" fill="#555"/><circle cx="292.1" cy="224.0" r="0.38" fill="#555"/><circle cx="301.3" cy="214.4" r="0.38" fill="#555"/><circle cx="315.4" cy="225.0" r="0.38" fill="#555"/><circle cx="308.3" cy="244.0" r="0.38" fill="#555"/><circle cx="314.8" cy="215.8" r="0.38" fill="#555"/><circle cx="313.2" cy="220.8" r="0.38" fill="#555"/><circle cx="290.8" cy="206.0" r="0.38" fill="#555"/><circle cx="298.2" cy="242.9" r="0.38" fill="#555"/><circle cx="309.3" cy="219.2" r="0.38" fill="#555"/><circle cx="305.8" cy="231.9" r="0.38" fill="#555"/><circle cx="311.3" cy="239.3" r="0.38" fill="#555"/><circle cx="318.2" cy="238.7" r="0.38" fill="#555"/><circle cx="309.9" cy="225.8" r="0.38" fill="#555"/><circle cx="307.0" cy="220.3" r="0.38" fill="#555"/><circle cx="295.1" cy="216.1" r="0.38" fill="#555"/><circle cx="302.3" cy="215.4" r="0.38" fill="#555"/><circle cx="322.1" cy="224.7" r="0.38" fill="#555"/><circle cx="322.2" cy="230.7" r="0.38" fill="#555"/><circle cx="319.4" cy="232.2" r="0.38" fill="#555"/><circle cx="305.5" cy="230.1" r="0.38" fill="#555"/><circle cx="308.0" cy="216.6" r="0.38" fill="#555"/><circle cx="321.9" cy="243.9" r="0.38" fill="#555"/><circle cx="302.0" cy="239.6" r="0.38" fill="#555"/><circle cx="318.6" cy="213.4" r="0.38" fill="#555"/><circle cx="313.5" cy="225.8" r="0.38" fill="#555"/><circle cx="314.4" cy="218.4" r="0.38" fill="#555"/><circle cx="299.2" cy="222.3" r="0.38" fill="#555"/><circle cx="318.9" cy="229.9" r="0.38" fill="#555"/><circle cx="317.1" cy="233.2" r="0.38" fill="#555"/><circle cx="301.9" cy="221.6" r="0.38" fill="#555"/><circle cx="314.1" cy="232.1" r="0.38" fill="#555"/><circle cx="312.4" cy="227.2" r="0.38" fill="#555"/><circle cx="312.2" cy="243.2" r="0.38" fill="#555"/><circle cx="291.0" cy="221.8" r="0.38" fill="#555"/><circle cx="333.7" cy="224.4" r="0.38" fill="#555"/><circle cx="294.2" cy="223.4" r="0.38" fill="#555"/><circle cx="297.9" cy="215.1" r="0.38" fill="#555"/><circle cx="313.1" cy="239.3" r="0.38" fill="#555"/><circle cx="315.2" cy="228.8" r="0.38" fill="#555"/><circle cx="320.3" cy="224.0" r="0.38" fill="#555"/><circle cx="303.2" cy="221.0" r="0.38" fill="#555"/><circle cx="314.1" cy="219.2" r="0.38" fill="#555"/><circle cx="304.9" cy="218.4" r="0.38" fill="#555"/><circle cx="297.3" cy="211.6" r="0.38" fill="#555"/><circle cx="310.2" cy="218.4" r="0.38" fill="#555"/><circle cx="311.3" cy="236.2" r="0.38" fill="#555"/><circle cx="313.7" cy="221.7" r="0.38" fill="#555"/><circle cx="300.3" cy="211.1" r="0.38" fill="#555"/><circle cx="314.4" cy="213.2" r="0.38" fill="#555"/><circle cx="314.9" cy="211.1" r="0.38" fill="#555"/><circle cx="312.2" cy="221.3" r="0.38" fill="#555"/><circle cx="320.1" cy="218.0" r="0.38" fill="#555"/><circle cx="307.6" cy="224.5" r="0.38" fill="#555"/><circle cx="311.5" cy="239.1" r="0.38" fill="#555"/><circle cx="308.6" cy="216.6" r="0.38" fill="#555"/><circle cx="308.1" cy="226.8" r="0.38" fill="#555"/><circle cx="313.1" cy="229.0" r="0.38" fill="#555"/><circle cx="298.4" cy="247.0" r="0.38" fill="#555"/><circle cx="327.8" cy="221.7" r="0.38" fill="#555"/><circle cx="299.9" cy="223.6" r="0.38" fill="#555"/><circle cx="314.8" cy="199.4" r="0.38" fill="#555"/><circle cx="311.1" cy="207.1" r="0.38" fill="#555"/><circle cx="315.2" cy="236.0" r="0.38" fill="#555"/><circle cx="320.4" cy="206.8" r="0.38" fill="#555"/><circle cx="323.6" cy="231.2" r="0.38" fill="#555"/><circle cx="307.7" cy="227.1" r="0.38" fill="#555"/><circle cx="324.9" cy="218.6" r="0.38" fill="#555"/><circle cx="310.9" cy="216.3" r="0.38" fill="#555"/><circle cx="321.6" cy="200.2" r="0.38" fill="#555"/><circle cx="324.0" cy="212.2" r="0.38" fill="#555"/><circle cx="319.5" cy="205.6" r="0.38" fill="#555"/><circle cx="302.4" cy="216.0" r="0.38" fill="#555"/><circle cx="318.6" cy="205.6" r="0.38" fill="#555"/><circle cx="316.5" cy="215.6" r="0.38" fill="#555"/><circle cx="322.4" cy="218.9" r="0.38" fill="#555"/><circle cx="315.4" cy="220.3" r="0.38" fill="#555"/><circle cx="327.4" cy="218.4" r="0.38" fill="#555"/><circle cx="310.8" cy="242.0" r="0.38" fill="#555"/><circle cx="311.7" cy="228.9" r="0.38" fill="#555"/><circle cx="292.2" cy="208.6" r="0.38" fill="#555"/><circle cx="282.2" cy="207.9" r="0.38" fill="#555"/><circle cx="292.8" cy="194.7" r="0.38" fill="#555"/><circle cx="287.7" cy="216.3" r="0.38" fill="#555"/><circle cx="299.8" cy="194.6" r="0.38" fill="#555"/><circle cx="308.9" cy="201.3" r="0.38" fill="#555"/><circle cx="294.6" cy="209.0" r="0.38" fill="#555"/><circle cx="289.6" cy="193.8" r="0.38" fill="#555"/><circle cx="292.1" cy="216.7" r="0.38" fill="#555"/><circle cx="303.2" cy="194.1" r="0.38" fill="#555"/><circle cx="304.9" cy="207.3" r="0.38" fill="#555"/><circle cx="300.3" cy="207.4" r="0.38" fill="#555"/><circle cx="299.7" cy="198.8" r="0.38" fill="#555"/><circle cx="291.1" cy="201.2" r="0.38" fill="#555"/><circle cx="294.6" cy="212.1" r="0.38" fill="#555"/><circle cx="289.0" cy="220.0" r="0.38" fill="#555"/><circle cx="292.9" cy="202.2" r="0.38" fill="#555"/><circle cx="301.6" cy="210.5" r="0.38" fill="#555"/><circle cx="294.8" cy="198.2" r="0.38" fill="#555"/><circle cx="290.5" cy="193.9" r="0.38" fill="#555"/><circle cx="304.5" cy="215.9" r="0.38" fill="#555"/><circle cx="309.2" cy="211.1" r="0.38" fill="#555"/><circle cx="299.2" cy="213.2" r="0.38" fill="#555"/><circle cx="303.2" cy="204.9" r="0.38" fill="#555"/><circle cx="299.3" cy="224.6" r="0.38" fill="#555"/><circle cx="285.9" cy="195.5" r="0.38" fill="#555"/><circle cx="290.7" cy="213.2" r="0.38" fill="#555"/><circle cx="304.8" cy="204.2" r="0.38" fill="#555"/><circle cx="301.4" cy="206.6" r="0.38" fill="#555"/><circle cx="299.0" cy="202.6" r="0.38" fill="#555"/><circle cx="296.8" cy="207.0" r="0.38" fill="#555"/><circle cx="304.4" cy="225.3" r="0.38" fill="#555"/><circle cx="285.1" cy="211.4" r="0.38" fill="#555"/><circle cx="297.0" cy="214.9" r="0.38" fill="#555"/><circle cx="303.9" cy="213.4" r="0.38" fill="#555"/><circle cx="302.3" cy="199.2" r="0.38" fill="#555"/><circle cx="285.8" cy="220.7" r="0.38" fill="#555"/><circle cx="304.9" cy="199.2" r="0.38" fill="#555"/><circle cx="305.5" cy="212.5" r="0.38" fill="#555"/><circle cx="290.5" cy="216.5" r="0.38" fill="#555"/><circle cx="292.5" cy="200.9" r="0.38" fill="#555"/><circle cx="286.9" cy="205.2" r="0.38" fill="#555"/><circle cx="303.7" cy="201.5" r="0.38" fill="#555"/><circle cx="284.8" cy="224.6" r="0.38" fill="#555"/><circle cx="309.1" cy="212.7" r="0.38" fill="#555"/><circle cx="293.5" cy="197.1" r="0.38" fill="#555"/><circle cx="286.3" cy="211.6" r="0.38" fill="#555"/><circle cx="305.5" cy="198.3" r="0.38" fill="#555"/><circle cx="297.0" cy="204.7" r="0.38" fill="#555"/><circle cx="295.3" cy="211.1" r="0.38" fill="#555"/><circle cx="310.7" cy="201.8" r="0.38" fill="#555"/><circle cx="302.6" cy="215.9" r="0.38" fill="#555"/><circle cx="295.1" cy="205.8" r="0.38" fill="#555"/><circle cx="288.2" cy="215.8" r="0.38" fill="#555"/><circle cx="293.5" cy="201.6" r="0.38" fill="#555"/><circle cx="297.4" cy="200.0" r="0.38" fill="#555"/><circle cx="290.2" cy="204.6" r="0.38" fill="#555"/><circle cx="306.7" cy="205.3" r="0.38" fill="#555"/><circle cx="300.5" cy="195.0" r="0.38" fill="#555"/><circle cx="284.2" cy="221.9" r="0.38" fill="#555"/><circle cx="294.4" cy="194.4" r="0.38" fill="#555"/><circle cx="296.3" cy="212.0" r="0.38" fill="#555"/><circle cx="285.7" cy="199.8" r="0.38" fill="#555"/><circle cx="298.7" cy="199.4" r="0.38" fill="#555"/><circle cx="302.2" cy="214.9" r="0.38" fill="#555"/><circle cx="299.9" cy="203.5" r="0.38" fill="#555"/><circle cx="296.7" cy="201.8" r="0.38" fill="#555"/><circle cx="296.1" cy="209.6" r="0.38" fill="#555"/><circle cx="295.0" cy="215.0" r="0.38" fill="#555"/><circle cx="314.0" cy="202.5" r="0.38" fill="#555"/><circle cx="299.3" cy="213.8" r="0.38" fill="#555"/><circle cx="301.2" cy="205.0" r="0.38" fill="#555"/><circle cx="293.9" cy="215.2" r="0.38" fill="#555"/><circle cx="301.1" cy="211.2" r="0.38" fill="#555"/><circle cx="291.7" cy="212.2" r="0.38" fill="#555"/><circle cx="302.2" cy="205.5" r="0.38" fill="#555"/><circle cx="301.2" cy="224.8" r="0.38" fill="#555"/><circle cx="284.7" cy="212.0" r="0.38" fill="#555"/><circle cx="289.3" cy="195.8" r="0.38" fill="#555"/><circle cx="295.5" cy="211.5" r="0.38" fill="#555"/><circle cx="297.3" cy="197.4" r="0.38" fill="#555"/><circle cx="287.5" cy="202.4" r="0.38" fill="#555"/><circle cx="297.1" cy="200.2" r="0.38" fill="#555"/><circle cx="287.1" cy="221.4" r="0.38" fill="#555"/><circle cx="291.5" cy="205.7" r="0.38" fill="#555"/><circle cx="293.4" cy="202.2" r="0.38" fill="#555"/><circle cx="297.3" cy="204.6" r="0.38" fill="#555"/><circle cx="301.1" cy="197.3" r="0.38" fill="#555"/><circle cx="287.2" cy="223.0" r="0.38" fill="#555"/><circle cx="296.5" cy="213.3" r="0.38" fill="#555"/><circle cx="304.8" cy="211.6" r="0.38" fill="#555"/><circle cx="297.2" cy="194.2" r="0.38" fill="#555"/><circle cx="286.5" cy="215.0" r="0.38" fill="#555"/><circle cx="301.5" cy="211.7" r="0.38" fill="#555"/><circle cx="286.1" cy="189.5" r="0.38" fill="#555"/><circle cx="290.0" cy="197.3" r="0.38" fill="#555"/><circle cx="298.0" cy="198.6" r="0.38" fill="#555"/><circle cx="307.4" cy="201.9" r="0.38" fill="#555"/><circle cx="293.3" cy="214.1" r="0.38" fill="#555"/><circle cx="299.2" cy="199.6" r="0.38" fill="#555"/><circle cx="302.4" cy="222.8" r="0.38" fill="#555"/><circle cx="288.9" cy="205.0" r="0.38" fill="#555"/><circle cx="289.9" cy="191.0" r="0.38" fill="#555"/><circle cx="301.1" cy="212.8" r="0.38" fill="#555"/><circle cx="303.4" cy="210.5" r="0.38" fill="#555"/><circle cx="283.7" cy="206.8" r="0.38" fill="#555"/><circle cx="292.6" cy="197.3" r="0.38" fill="#555"/><circle cx="289.7" cy="213.3" r="0.38" fill="#555"/><circle cx="295.0" cy="223.2" r="0.38" fill="#555"/><circle cx="300.1" cy="191.2" r="0.38" fill="#555"/><circle cx="302.9" cy="217.3" r="0.38" fill="#555"/><circle cx="297.2" cy="197.0" r="0.38" fill="#555"/><circle cx="308.7" cy="196.2" r="0.38" fill="#555"/><circle cx="296.4" cy="191.2" r="0.38" fill="#555"/><circle cx="288.7" cy="193.0" r="0.38" fill="#555"/><circle cx="304.2" cy="216.7" r="0.38" fill="#555"/><circle cx="294.3" cy="195.8" r="0.38" fill="#555"/><circle cx="296.6" cy="210.1" r="0.38" fill="#555"/><circle cx="286.9" cy="197.4" r="0.38" fill="#555"/><circle cx="296.3" cy="212.8" r="0.38" fill="#555"/><circle cx="297.5" cy="210.7" r="0.38" fill="#555"/><circle cx="288.7" cy="186.4" r="0.38" fill="#555"/><circle cx="299.1" cy="199.4" r="0.38" fill="#555"/><circle cx="296.2" cy="203.9" r="0.38" fill="#555"/><circle cx="300.2" cy="200.6" r="0.38" fill="#555"/><circle cx="306.6" cy="207.3" r="0.38" fill="#555"/><circle cx="300.5" cy="212.2" r="0.38" fill="#555"/><circle cx="303.9" cy="210.4" r="0.38" fill="#555"/><circle cx="285.4" cy="201.8" r="0.38" fill="#555"/><circle cx="309.4" cy="210.9" r="0.38" fill="#555"/><circle cx="300.7" cy="210.9" r="0.38" fill="#555"/><circle cx="292.7" cy="201.4" r="0.38" fill="#555"/><circle cx="292.7" cy="216.6" r="0.38" fill="#555"/><circle cx="299.4" cy="221.8" r="0.38" fill="#555"/><circle cx="300.3" cy="222.7" r="0.38" fill="#555"/><circle cx="300.0" cy="197.2" r="0.38" fill="#555"/><circle cx="308.6" cy="209.8" r="0.38" fill="#555"/><circle cx="304.9" cy="208.8" r="0.38" fill="#555"/><circle cx="294.8" cy="208.4" r="0.38" fill="#555"/><circle cx="289.5" cy="197.0" r="0.38" fill="#555"/><circle cx="291.1" cy="202.6" r="0.38" fill="#555"/><circle cx="288.0" cy="206.1" r="0.38" fill="#555"/><circle cx="299.0" cy="223.9" r="0.38" fill="#555"/><circle cx="309.3" cy="206.6" r="0.38" fill="#555"/><circle cx="302.9" cy="205.2" r="0.38" fill="#555"/><circle cx="299.6" cy="206.7" r="0.38" fill="#555"/><circle cx="293.4" cy="207.6" r="0.38" fill="#555"/><circle cx="287.1" cy="210.7" r="0.38" fill="#555"/><circle cx="295.1" cy="198.0" r="0.38" fill="#555"/><circle cx="294.6" cy="211.6" r="0.38" fill="#555"/><circle cx="292.5" cy="211.0" r="0.38" fill="#555"/><circle cx="300.8" cy="220.0" r="0.38" fill="#555"/><circle cx="289.7" cy="206.1" r="0.38" fill="#555"/><circle cx="300.4" cy="219.5" r="0.38" fill="#555"/><circle cx="298.8" cy="213.3" r="0.38" fill="#555"/><circle cx="287.2" cy="202.1" r="0.38" fill="#555"/><circle cx="308.1" cy="204.6" r="0.38" fill="#555"/><circle cx="311.5" cy="200.9" r="0.38" fill="#555"/><circle cx="295.1" cy="193.6" r="0.38" fill="#555"/><circle cx="301.3" cy="209.2" r="0.38" fill="#555"/><circle cx="310.5" cy="208.4" r="0.38" fill="#555"/><circle cx="295.3" cy="195.2" r="0.38" fill="#555"/><circle cx="296.4" cy="214.9" r="0.38" fill="#555"/><circle cx="302.0" cy="217.3" r="0.38" fill="#555"/><circle cx="302.8" cy="206.6" r="0.38" fill="#555"/><circle cx="301.1" cy="208.4" r="0.38" fill="#555"/><circle cx="288.1" cy="221.4" r="0.38" fill="#555"/><circle cx="299.5" cy="198.2" r="0.38" fill="#555"/><circle cx="299.6" cy="209.4" r="0.38" fill="#555"/><circle cx="319.9" cy="241.1" r="0.38" fill="#4a4a4a"/><circle cx="301.8" cy="218.2" r="0.38" fill="#4a4a4a"/><circle cx="335.8" cy="224.8" r="0.38" fill="#4a4a4a"/><circle cx="310.0" cy="220.8" r="0.38" fill="#4a4a4a"/><circle cx="322.0" cy="230.0" r="0.38" fill="#4a4a4a"/><circle cx="318.2" cy="218.0" r="0.38" fill="#4a4a4a"/><circle cx="319.1" cy="232.5" r="0.38" fill="#4a4a4a"/><circle cx="332.9" cy="237.0" r="0.38" fill="#4a4a4a"/><circle cx="331.3" cy="205.4" r="0.38" fill="#4a4a4a"/><circle cx="328.8" cy="229.3" r="0.38" fill="#4a4a4a"/><circle cx="326.7" cy="217.9" r="0.38" fill="#4a4a4a"/><circle cx="335.8" cy="215.1" r="0.38" fill="#4a4a4a"/><circle cx="322.0" cy="227.4" r="0.38" fill="#4a4a4a"/><circle cx="316.7" cy="237.3" r="0.38" fill="#4a4a4a"/><circle cx="320.9" cy="226.3" r="0.38" fill="#4a4a4a"/><circle cx="335.2" cy="217.4" r="0.38" fill="#4a4a4a"/><circle cx="320.0" cy="225.4" r="0.38" fill="#4a4a4a"/><circle cx="331.8" cy="223.6" r="0.38" fill="#4a4a4a"/><circle cx="324.5" cy="232.2" r="0.38" fill="#4a4a4a"/><circle cx="321.5" cy="208.7" r="0.38" fill="#4a4a4a"/><circle cx="313.1" cy="221.4" r="0.38" fill="#4a4a4a"/><circle cx="319.3" cy="232.4" r="0.38" fill="#4a4a4a"/><circle cx="329.7" cy="225.0" r="0.38" fill="#4a4a4a"/><circle cx="323.7" cy="236.6" r="0.38" fill="#4a4a4a"/><circle cx="322.1" cy="231.6" r="0.38" fill="#4a4a4a"/><circle cx="312.7" cy="223.7" r="0.38" fill="#4a4a4a"/><circle cx="322.6" cy="212.7" r="0.38" fill="#4a4a4a"/><circle cx="319.3" cy="225.7" r="0.38" fill="#4a4a4a"/><circle cx="323.5" cy="223.2" r="0.38" fill="#4a4a4a"/><circle cx="315.3" cy="223.5" r="0.38" fill="#4a4a4a"/><circle cx="325.4" cy="212.2" r="0.38" fill="#4a4a4a"/><circle cx="314.7" cy="237.6" r="0.38" fill="#4a4a4a"/><circle cx="325.4" cy="216.2" r="0.38" fill="#4a4a4a"/><circle cx="320.6" cy="244.8" r="0.38" fill="#4a4a4a"/><circle cx="321.5" cy="223.2" r="0.38" fill="#4a4a4a"/><circle cx="317.4" cy="234.2" r="0.38" fill="#4a4a4a"/><circle cx="334.4" cy="213.7" r="0.38" fill="#4a4a4a"/><circle cx="322.4" cy="212.1" r="0.38" fill="#4a4a4a"/><circle cx="323.9" cy="228.6" r="0.38" fill="#4a4a4a"/><circle cx="333.7" cy="231.1" r="0.38" fill="#4a4a4a"/><circle cx="323.4" cy="227.8" r="0.38" fill="#4a4a4a"/><circle cx="310.2" cy="244.5" r="0.38" fill="#4a4a4a"/><circle cx="315.6" cy="238.5" r="0.38" fill="#4a4a4a"/><circle cx="332.7" cy="226.5" r="0.38" fill="#4a4a4a"/><circle cx="328.0" cy="225.8" r="0.38" fill="#4a4a4a"/><circle cx="321.8" cy="227.7" r="0.38" fill="#4a4a4a"/><circle cx="324.7" cy="222.4" r="0.38" fill="#4a4a4a"/><circle cx="332.3" cy="230.2" r="0.38" fill="#4a4a4a"/><circle cx="316.9" cy="241.8" r="0.38" fill="#4a4a4a"/><circle cx="320.0" cy="236.5" r="0.38" fill="#4a4a4a"/><circle cx="324.0" cy="240.0" r="0.38" fill="#4a4a4a"/><circle cx="339.6" cy="221.8" r="0.38" fill="#4a4a4a"/><circle cx="333.0" cy="234.1" r="0.38" fill="#4a4a4a"/><circle cx="315.5" cy="214.0" r="0.38" fill="#4a4a4a"/><circle cx="314.1" cy="220.2" r="0.38" fill="#4a4a4a"/><circle cx="319.0" cy="212.2" r="0.38" fill="#4a4a4a"/><circle cx="322.8" cy="228.4" r="0.38" fill="#4a4a4a"/><circle cx="318.7" cy="221.0" r="0.38" fill="#4a4a4a"/><circle cx="321.0" cy="226.2" r="0.38" fill="#4a4a4a"/><circle cx="323.2" cy="224.3" r="0.38" fill="#4a4a4a"/><circle cx="335.8" cy="217.0" r="0.38" fill="#4a4a4a"/><circle cx="318.4" cy="225.1" r="0.38" fill="#4a4a4a"/><circle cx="322.7" cy="220.1" r="0.38" fill="#4a4a4a"/><circle cx="318.4" cy="225.9" r="0.38" fill="#4a4a4a"/><circle cx="330.1" cy="229.5" r="0.38" fill="#4a4a4a"/><circle cx="318.5" cy="227.7" r="0.38" fill="#4a4a4a"/><circle cx="331.1" cy="210.0" r="0.38" fill="#4a4a4a"/><circle cx="325.6" cy="224.1" r="0.38" fill="#4a4a4a"/><circle cx="315.3" cy="228.6" r="0.38" fill="#4a4a4a"/><circle cx="325.3" cy="221.8" r="0.38" fill="#4a4a4a"/><circle cx="318.9" cy="203.9" r="0.38" fill="#4a4a4a"/><circle cx="322.7" cy="225.1" r="0.38" fill="#4a4a4a"/><circle cx="323.3" cy="229.5" r="0.38" fill="#4a4a4a"/><circle cx="326.1" cy="214.2" r="0.38" fill="#4a4a4a"/><circle cx="316.5" cy="220.5" r="0.38" fill="#4a4a4a"/><circle cx="311.3" cy="227.3" r="0.38" fill="#4a4a4a"/><circle cx="324.2" cy="206.7" r="0.38" fill="#4a4a4a"/><circle cx="330.6" cy="211.4" r="0.38" fill="#4a4a4a"/><circle cx="336.7" cy="224.8" r="0.38" fill="#4a4a4a"/><circle cx="323.0" cy="223.9" r="0.38" fill="#4a4a4a"/><circle cx="326.9" cy="209.0" r="0.38" fill="#4a4a4a"/><circle cx="306.6" cy="225.3" r="0.38" fill="#4a4a4a"/><circle cx="316.1" cy="246.9" r="0.38" fill="#4a4a4a"/><circle cx="310.6" cy="224.5" r="0.38" fill="#4a4a4a"/><circle cx="317.3" cy="232.5" r="0.38" fill="#4a4a4a"/><circle cx="315.1" cy="229.6" r="0.38" fill="#4a4a4a"/><circle cx="323.8" cy="234.3" r="0.38" fill="#4a4a4a"/><circle cx="331.2" cy="230.4" r="0.38" fill="#4a4a4a"/><circle cx="334.7" cy="226.7" r="0.38" fill="#4a4a4a"/><circle cx="346.5" cy="211.3" r="0.38" fill="#4a4a4a"/><circle cx="326.4" cy="219.8" r="0.38" fill="#4a4a4a"/><circle cx="316.4" cy="234.0" r="0.38" fill="#4a4a4a"/><circle cx="325.6" cy="229.6" r="0.38" fill="#4a4a4a"/><circle cx="339.8" cy="221.3" r="0.38" fill="#4a4a4a"/><circle cx="309.1" cy="234.5" r="0.38" fill="#4a4a4a"/><circle cx="335.2" cy="211.2" r="0.38" fill="#4a4a4a"/><circle cx="330.4" cy="218.2" r="0.38" fill="#4a4a4a"/><circle cx="324.2" cy="240.8" r="0.38" fill="#4a4a4a"/><circle cx="311.8" cy="233.9" r="0.38" fill="#4a4a4a"/><circle cx="312.2" cy="229.8" r="0.38" fill="#4a4a4a"/><circle cx="326.0" cy="227.3" r="0.38" fill="#4a4a4a"/><circle cx="315.4" cy="218.1" r="0.38" fill="#4a4a4a"/><circle cx="311.9" cy="212.4" r="0.38" fill="#4a4a4a"/><circle cx="304.8" cy="228.0" r="0.38" fill="#4a4a4a"/><circle cx="329.7" cy="203.2" r="0.38" fill="#4a4a4a"/><circle cx="323.3" cy="231.2" r="0.38" fill="#4a4a4a"/><circle cx="307.6" cy="240.4" r="0.38" fill="#4a4a4a"/><circle cx="326.1" cy="229.6" r="0.38" fill="#4a4a4a"/><circle cx="334.4" cy="200.4" r="0.38" fill="#4a4a4a"/><circle cx="294.4" cy="198.9" r="0.38" fill="#555"/><circle cx="291.2" cy="191.8" r="0.38" fill="#555"/><circle cx="292.9" cy="191.0" r="0.38" fill="#555"/><circle cx="293.0" cy="198.3" r="0.38" fill="#555"/><circle cx="297.5" cy="196.8" r="0.38" fill="#555"/><circle cx="293.6" cy="198.2" r="0.38" fill="#555"/><circle cx="297.2" cy="195.0" r="0.38" fill="#555"/><circle cx="289.3" cy="193.6" r="0.38" fill="#555"/><circle cx="289.2" cy="193.3" r="0.38" fill="#555"/><circle cx="292.6" cy="197.0" r="0.38" fill="#555"/><circle cx="293.5" cy="196.2" r="0.38" fill="#555"/><circle cx="291.9" cy="197.3" r="0.38" fill="#555"/><circle cx="295.7" cy="198.3" r="0.38" fill="#555"/><circle cx="297.5" cy="195.1" r="0.38" fill="#555"/><circle cx="292.2" cy="201.1" r="0.38" fill="#555"/><circle cx="293.6" cy="197.2" r="0.38" fill="#555"/><circle cx="292.0" cy="198.9" r="0.38" fill="#555"/><circle cx="291.8" cy="193.0" r="0.38" fill="#555"/><circle cx="292.8" cy="194.7" r="0.38" fill="#555"/><circle cx="295.5" cy="194.9" r="0.38" fill="#555"/><circle cx="293.4" cy="195.3" r="0.38" fill="#555"/><circle cx="294.0" cy="194.1" r="0.38" fill="#555"/><circle cx="296.3" cy="191.7" r="0.38" fill="#555"/><circle cx="291.8" cy="193.9" r="0.38" fill="#555"/><circle cx="294.9" cy="196.1" r="0.38" fill="#555"/><circle cx="294.5" cy="195.0" r="0.38" fill="#555"/><circle cx="290.8" cy="192.6" r="0.38" fill="#555"/><circle cx="292.0" cy="194.4" r="0.38" fill="#555"/><circle cx="293.8" cy="197.1" r="0.38" fill="#555"/><circle cx="295.9" cy="195.7" r="0.38" fill="#555"/><circle cx="290.8" cy="192.8" r="0.38" fill="#555"/><circle cx="293.2" cy="197.1" r="0.38" fill="#555"/><circle cx="298.8" cy="196.5" r="0.38" fill="#555"/><circle cx="298.3" cy="201.6" r="0.38" fill="#555"/><circle cx="289.9" cy="199.6" r="0.38" fill="#555"/><circle cx="296.4" cy="200.0" r="0.38" fill="#555"/><circle cx="293.0" cy="198.9" r="0.38" fill="#555"/><circle cx="291.6" cy="195.8" r="0.38" fill="#555"/><circle cx="293.1" cy="201.3" r="0.38" fill="#555"/><circle cx="292.4" cy="198.9" r="0.38" fill="#555"/><circle cx="293.2" cy="193.9" r="0.38" fill="#555"/><circle cx="293.7" cy="198.0" r="0.38" fill="#555"/><circle cx="290.9" cy="197.9" r="0.38" fill="#555"/><circle cx="290.9" cy="193.4" r="0.38" fill="#555"/><circle cx="293.7" cy="195.3" r="0.38" fill="#555"/><circle cx="290.1" cy="191.1" r="0.38" fill="#555"/><circle cx="293.1" cy="196.7" r="0.38" fill="#555"/><circle cx="291.6" cy="196.6" r="0.38" fill="#555"/><circle cx="288.4" cy="197.2" r="0.38" fill="#555"/><circle cx="294.2" cy="196.8" r="0.38" fill="#555"/>
<ellipse cx="296.4" cy="209.9" rx="5.6" ry="6.2" fill="#ececec"/>
<ellipse cx="296.4" cy="209.9" rx="2.6" ry="3.0" fill="#fff" stroke="#bbb" stroke-width="0.4"/>
<circle cx="290.5" cy="210.8" r="0.42" fill="#3c3c3c"/><circle cx="290.9" cy="212.3" r="0.42" fill="#3c3c3c"/><circle cx="293.5" cy="215.0" r="0.42" fill="#3c3c3c"/><circle cx="290.6" cy="207.7" r="0.42" fill="#3c3c3c"/><circle cx="296.2" cy="203.9" r="0.42" fill="#3c3c3c"/><circle cx="302.2" cy="208.5" r="0.42" fill="#3c3c3c"/><circle cx="301.5" cy="207.7" r="0.42" fill="#3c3c3c"/><circle cx="299.3" cy="215.3" r="0.42" fill="#3c3c3c"/><circle cx="301.3" cy="213.7" r="0.42" fill="#3c3c3c"/><circle cx="290.8" cy="211.4" r="0.42" fill="#3c3c3c"/><circle cx="291.0" cy="211.9" r="0.42" fill="#3c3c3c"/><circle cx="293.5" cy="204.3" r="0.42" fill="#3c3c3c"/><circle cx="301.8" cy="209.3" r="0.42" fill="#3c3c3c"/><circle cx="301.8" cy="210.3" r="0.42" fill="#3c3c3c"/><circle cx="301.3" cy="210.9" r="0.42" fill="#3c3c3c"/><circle cx="290.7" cy="208.3" r="0.42" fill="#3c3c3c"/><circle cx="292.0" cy="206.1" r="0.42" fill="#3c3c3c"/><circle cx="298.6" cy="204.1" r="0.42" fill="#3c3c3c"/><circle cx="299.5" cy="204.2" r="0.42" fill="#3c3c3c"/><circle cx="298.9" cy="216.4" r="0.42" fill="#3c3c3c"/><circle cx="301.4" cy="206.1" r="0.42" fill="#3c3c3c"/><circle cx="301.8" cy="211.4" r="0.42" fill="#3c3c3c"/><circle cx="298.5" cy="215.2" r="0.42" fill="#3c3c3c"/><circle cx="301.2" cy="207.3" r="0.42" fill="#3c3c3c"/><circle cx="302.6" cy="210.4" r="0.42" fill="#3c3c3c"/><circle cx="292.0" cy="210.8" r="0.42" fill="#3c3c3c"/><circle cx="289.8" cy="210.2" r="0.42" fill="#3c3c3c"/><circle cx="297.7" cy="215.8" r="0.42" fill="#3c3c3c"/><circle cx="301.8" cy="209.9" r="0.42" fill="#3c3c3c"/><circle cx="301.8" cy="208.2" r="0.42" fill="#3c3c3c"/><circle cx="293.2" cy="215.1" r="0.42" fill="#3c3c3c"/><circle cx="291.9" cy="215.1" r="0.42" fill="#3c3c3c"/><circle cx="301.9" cy="209.9" r="0.42" fill="#3c3c3c"/><circle cx="291.6" cy="211.6" r="0.42" fill="#3c3c3c"/><circle cx="300.2" cy="215.0" r="0.42" fill="#3c3c3c"/><circle cx="302.2" cy="208.3" r="0.42" fill="#3c3c3c"/><circle cx="291.6" cy="209.1" r="0.42" fill="#3c3c3c"/><circle cx="301.9" cy="212.3" r="0.42" fill="#3c3c3c"/><circle cx="291.9" cy="206.5" r="0.42" fill="#3c3c3c"/><circle cx="300.4" cy="206.4" r="0.42" fill="#3c3c3c"/><circle cx="301.8" cy="207.8" r="0.42" fill="#3c3c3c"/><circle cx="290.6" cy="213.6" r="0.42" fill="#3c3c3c"/><circle cx="301.4" cy="213.8" r="0.42" fill="#3c3c3c"/><circle cx="294.7" cy="215.9" r="0.42" fill="#3c3c3c"/><circle cx="292.2" cy="212.9" r="0.42" fill="#3c3c3c"/><circle cx="298.3" cy="204.4" r="0.42" fill="#3c3c3c"/><circle cx="300.7" cy="214.7" r="0.42" fill="#3c3c3c"/><circle cx="291.1" cy="207.2" r="0.42" fill="#3c3c3c"/><circle cx="302.1" cy="208.4" r="0.42" fill="#3c3c3c"/><circle cx="300.8" cy="206.1" r="0.42" fill="#3c3c3c"/><circle cx="294.3" cy="203.5" r="0.42" fill="#3c3c3c"/><circle cx="293.1" cy="214.6" r="0.42" fill="#3c3c3c"/><circle cx="301.6" cy="212.4" r="0.42" fill="#3c3c3c"/><circle cx="291.1" cy="210.9" r="0.42" fill="#3c3c3c"/><circle cx="301.4" cy="210.3" r="0.42" fill="#3c3c3c"/><circle cx="295.0" cy="204.0" r="0.42" fill="#3c3c3c"/><circle cx="302.1" cy="208.4" r="0.42" fill="#3c3c3c"/><circle cx="290.8" cy="212.6" r="0.42" fill="#3c3c3c"/><circle cx="290.6" cy="213.2" r="0.42" fill="#3c3c3c"/><circle cx="297.0" cy="215.7" r="0.42" fill="#3c3c3c"/><circle cx="293.4" cy="204.7" r="0.42" fill="#3c3c3c"/><circle cx="297.4" cy="216.6" r="0.42" fill="#3c3c3c"/><circle cx="302.4" cy="211.4" r="0.42" fill="#3c3c3c"/><circle cx="290.7" cy="213.1" r="0.42" fill="#3c3c3c"/><circle cx="301.4" cy="207.7" r="0.42" fill="#3c3c3c"/><circle cx="294.9" cy="203.6" r="0.42" fill="#3c3c3c"/><circle cx="289.8" cy="210.6" r="0.42" fill="#3c3c3c"/><circle cx="299.0" cy="216.2" r="0.42" fill="#3c3c3c"/><circle cx="297.1" cy="204.2" r="0.42" fill="#3c3c3c"/><circle cx="292.8" cy="206.1" r="0.42" fill="#3c3c3c"/><circle cx="298.3" cy="215.5" r="0.42" fill="#3c3c3c"/><circle cx="296.2" cy="215.6" r="0.42" fill="#3c3c3c"/><circle cx="300.1" cy="205.1" r="0.42" fill="#3c3c3c"/><circle cx="298.5" cy="216.0" r="0.42" fill="#3c3c3c"/><circle cx="295.5" cy="203.4" r="0.42" fill="#3c3c3c"/><circle cx="302.6" cy="210.1" r="0.42" fill="#3c3c3c"/><circle cx="302.3" cy="210.1" r="0.42" fill="#3c3c3c"/><circle cx="295.0" cy="203.7" r="0.42" fill="#3c3c3c"/><circle cx="301.8" cy="213.7" r="0.42" fill="#3c3c3c"/><circle cx="299.6" cy="215.5" r="0.42" fill="#3c3c3c"/><circle cx="294.2" cy="216.0" r="0.42" fill="#3c3c3c"/><circle cx="296.1" cy="216.4" r="0.42" fill="#3c3c3c"/><circle cx="299.8" cy="215.7" r="0.42" fill="#3c3c3c"/><circle cx="294.5" cy="202.9" r="0.42" fill="#3c3c3c"/><circle cx="295.7" cy="203.0" r="0.42" fill="#3c3c3c"/><circle cx="298.8" cy="215.5" r="0.42" fill="#3c3c3c"/><circle cx="302.4" cy="212.1" r="0.42" fill="#3c3c3c"/><circle cx="292.1" cy="213.9" r="0.42" fill="#3c3c3c"/><circle cx="298.1" cy="204.0" r="0.42" fill="#3c3c3c"/><circle cx="291.2" cy="206.2" r="0.42" fill="#3c3c3c"/><circle cx="298.4" cy="204.2" r="0.42" fill="#3c3c3c"/><circle cx="300.9" cy="213.1" r="0.42" fill="#3c3c3c"/><circle cx="300.3" cy="215.3" r="0.42" fill="#3c3c3c"/><circle cx="300.7" cy="213.7" r="0.42" fill="#3c3c3c"/><circle cx="296.1" cy="216.6" r="0.42" fill="#3c3c3c"/><circle cx="302.5" cy="216.6" r="0.4" fill="#4a4a4a"/><circle cx="298.1" cy="228.9" r="0.4" fill="#4a4a4a"/><circle cx="301.8" cy="218.0" r="0.4" fill="#4a4a4a"/><circle cx="298.4" cy="228.9" r="0.4" fill="#4a4a4a"/><circle cx="297.6" cy="228.2" r="0.4" fill="#4a4a4a"/><circle cx="303.1" cy="218.2" r="0.4" fill="#4a4a4a"/><circle cx="304.0" cy="222.6" r="0.4" fill="#4a4a4a"/><circle cx="297.1" cy="226.8" r="0.4" fill="#4a4a4a"/><circle cx="299.8" cy="217.9" r="0.4" fill="#4a4a4a"/><circle cx="297.0" cy="220.2" r="0.4" fill="#4a4a4a"/><circle cx="304.1" cy="219.5" r="0.4" fill="#4a4a4a"/><circle cx="300.3" cy="226.9" r="0.4" fill="#4a4a4a"/><circle cx="297.1" cy="225.2" r="0.4" fill="#4a4a4a"/><circle cx="303.6" cy="217.2" r="0.4" fill="#4a4a4a"/><circle cx="297.0" cy="225.2" r="0.4" fill="#4a4a4a"/><circle cx="301.5" cy="216.6" r="0.4" fill="#4a4a4a"/><circle cx="297.6" cy="221.9" r="0.4" fill="#4a4a4a"/><circle cx="297.5" cy="226.3" r="0.4" fill="#4a4a4a"/><circle cx="303.9" cy="221.5" r="0.4" fill="#4a4a4a"/><circle cx="297.4" cy="222.7" r="0.4" fill="#4a4a4a"/><circle cx="304.1" cy="225.7" r="0.4" fill="#4a4a4a"/><circle cx="300.0" cy="227.2" r="0.4" fill="#4a4a4a"/><circle cx="296.7" cy="227.5" r="0.4" fill="#4a4a4a"/><circle cx="303.4" cy="217.2" r="0.4" fill="#4a4a4a"/><circle cx="295.3" cy="224.9" r="0.4" fill="#4a4a4a"/><circle cx="302.1" cy="225.7" r="0.4" fill="#4a4a4a"/><circle cx="300.6" cy="227.6" r="0.4" fill="#4a4a4a"/><circle cx="299.3" cy="227.4" r="0.4" fill="#4a4a4a"/><circle cx="299.5" cy="228.9" r="0.4" fill="#4a4a4a"/><circle cx="296.9" cy="223.9" r="0.4" fill="#4a4a4a"/><circle cx="298.1" cy="227.9" r="0.4" fill="#4a4a4a"/><circle cx="298.4" cy="226.5" r="0.4" fill="#4a4a4a"/><circle cx="303.1" cy="219.8" r="0.4" fill="#4a4a4a"/><circle cx="300.1" cy="217.8" r="0.4" fill="#4a4a4a"/><circle cx="302.2" cy="217.2" r="0.4" fill="#4a4a4a"/><circle cx="299.3" cy="228.0" r="0.4" fill="#4a4a4a"/><circle cx="304.0" cy="217.6" r="0.4" fill="#4a4a4a"/><circle cx="297.8" cy="228.3" r="0.4" fill="#4a4a4a"/><circle cx="300.6" cy="227.4" r="0.4" fill="#4a4a4a"/><circle cx="299.8" cy="227.4" r="0.4" fill="#4a4a4a"/><circle cx="298.6" cy="228.4" r="0.4" fill="#4a4a4a"/><circle cx="304.2" cy="219.3" r="0.4" fill="#4a4a4a"/><circle cx="302.8" cy="218.0" r="0.4" fill="#4a4a4a"/><circle cx="303.6" cy="221.6" r="0.4" fill="#4a4a4a"/><circle cx="304.2" cy="217.6" r="0.4" fill="#4a4a4a"/>
<g transform="rotate(30 311.5 226)">
<ellipse cx="311.5" cy="226" rx="7.6" ry="16.6" fill="#f4f4f4"/>
<ellipse cx="311.5" cy="226.6" rx="6.3" ry="14.8" fill="none" stroke="#9a9a9a" stroke-width="0.45"/>
<ellipse cx="311.5" cy="226.6" rx="5.0" ry="13.0" fill="none" stroke="#9a9a9a" stroke-width="0.45"/>
<ellipse cx="311.5" cy="226.6" rx="3.7" ry="11.2" fill="none" stroke="#9a9a9a" stroke-width="0.45"/>
<ellipse cx="311.5" cy="226.6" rx="2.4" ry="9.4" fill="none" stroke="#9a9a9a" stroke-width="0.45"/>
<ellipse cx="311.5" cy="226.6" rx="1.2" ry="7.4" fill="none" stroke="#9a9a9a" stroke-width="0.45"/>
</g>
<circle cx="300.8" cy="234.0" r="0.42" fill="#3a3a3a"/><circle cx="311.1" cy="239.0" r="0.42" fill="#3a3a3a"/><circle cx="302.0" cy="230.4" r="0.42" fill="#3a3a3a"/><circle cx="320.7" cy="210.5" r="0.42" fill="#3a3a3a"/><circle cx="321.9" cy="213.7" r="0.42" fill="#3a3a3a"/><circle cx="320.0" cy="211.8" r="0.42" fill="#3a3a3a"/><circle cx="315.4" cy="211.4" r="0.42" fill="#3a3a3a"/><circle cx="309.5" cy="239.3" r="0.42" fill="#3a3a3a"/><circle cx="322.2" cy="213.7" r="0.42" fill="#3a3a3a"/><circle cx="322.3" cy="216.5" r="0.42" fill="#3a3a3a"/><circle cx="320.8" cy="224.3" r="0.42" fill="#3a3a3a"/><circle cx="314.2" cy="211.3" r="0.42" fill="#3a3a3a"/><circle cx="307.9" cy="218.1" r="0.42" fill="#3a3a3a"/><circle cx="320.7" cy="213.3" r="0.42" fill="#3a3a3a"/><circle cx="304.6" cy="241.4" r="0.42" fill="#3a3a3a"/><circle cx="311.9" cy="237.8" r="0.42" fill="#3a3a3a"/><circle cx="321.6" cy="213.0" r="0.42" fill="#3a3a3a"/><circle cx="314.2" cy="235.5" r="0.42" fill="#3a3a3a"/><circle cx="303.5" cy="226.1" r="0.42" fill="#3a3a3a"/><circle cx="320.3" cy="225.3" r="0.42" fill="#3a3a3a"/><circle cx="321.4" cy="219.6" r="0.42" fill="#3a3a3a"/><circle cx="319.7" cy="210.3" r="0.42" fill="#3a3a3a"/><circle cx="308.9" cy="215.6" r="0.42" fill="#3a3a3a"/><circle cx="321.9" cy="214.9" r="0.42" fill="#3a3a3a"/><circle cx="301.1" cy="229.5" r="0.42" fill="#3a3a3a"/><circle cx="304.9" cy="241.4" r="0.42" fill="#3a3a3a"/><circle cx="320.1" cy="226.0" r="0.42" fill="#3a3a3a"/><circle cx="322.2" cy="222.1" r="0.42" fill="#3a3a3a"/><circle cx="302.1" cy="228.3" r="0.42" fill="#3a3a3a"/><circle cx="311.9" cy="236.8" r="0.42" fill="#3a3a3a"/><circle cx="321.4" cy="212.5" r="0.42" fill="#3a3a3a"/><circle cx="319.6" cy="211.5" r="0.42" fill="#3a3a3a"/><circle cx="322.5" cy="219.3" r="0.42" fill="#3a3a3a"/><circle cx="301.4" cy="232.6" r="0.42" fill="#3a3a3a"/><circle cx="305.2" cy="241.5" r="0.42" fill="#3a3a3a"/><circle cx="319.4" cy="210.5" r="0.42" fill="#3a3a3a"/><circle cx="304.9" cy="222.1" r="0.42" fill="#3a3a3a"/><circle cx="320.8" cy="226.1" r="0.42" fill="#3a3a3a"/><circle cx="322.1" cy="212.3" r="0.42" fill="#3a3a3a"/><circle cx="307.6" cy="217.9" r="0.42" fill="#3a3a3a"/><circle cx="300.6" cy="234.5" r="0.42" fill="#3a3a3a"/><circle cx="316.0" cy="231.5" r="0.42" fill="#3a3a3a"/><circle cx="322.3" cy="220.9" r="0.42" fill="#3a3a3a"/><circle cx="320.9" cy="223.5" r="0.42" fill="#3a3a3a"/><circle cx="312.8" cy="212.9" r="0.42" fill="#3a3a3a"/><circle cx="311.3" cy="213.9" r="0.42" fill="#3a3a3a"/><circle cx="302.0" cy="229.8" r="0.42" fill="#3a3a3a"/><circle cx="312.8" cy="237.5" r="0.42" fill="#3a3a3a"/><circle cx="318.2" cy="211.2" r="0.42" fill="#3a3a3a"/><circle cx="302.8" cy="240.5" r="0.42" fill="#3a3a3a"/><circle cx="311.0" cy="214.1" r="0.42" fill="#3a3a3a"/><circle cx="309.9" cy="215.6" r="0.42" fill="#3a3a3a"/><circle cx="317.9" cy="211.2" r="0.42" fill="#3a3a3a"/><circle cx="322.3" cy="215.7" r="0.42" fill="#3a3a3a"/><circle cx="320.6" cy="224.5" r="0.42" fill="#3a3a3a"/><circle cx="314.4" cy="235.6" r="0.42" fill="#3a3a3a"/><circle cx="308.7" cy="239.7" r="0.42" fill="#3a3a3a"/><circle cx="318.0" cy="229.5" r="0.42" fill="#3a3a3a"/><circle cx="303.1" cy="241.0" r="0.42" fill="#3a3a3a"/><circle cx="301.6" cy="230.5" r="0.42" fill="#3a3a3a"/><circle cx="307.8" cy="240.7" r="0.42" fill="#3a3a3a"/><circle cx="305.6" cy="241.5" r="0.42" fill="#3a3a3a"/><circle cx="306.3" cy="240.9" r="0.42" fill="#3a3a3a"/><circle cx="318.6" cy="226.8" r="0.42" fill="#3a3a3a"/><circle cx="303.1" cy="224.8" r="0.42" fill="#3a3a3a"/><circle cx="309.0" cy="240.1" r="0.42" fill="#3a3a3a"/><circle cx="317.3" cy="210.9" r="0.42" fill="#3a3a3a"/><circle cx="300.8" cy="235.5" r="0.42" fill="#3a3a3a"/><circle cx="317.1" cy="210.8" r="0.42" fill="#3a3a3a"/><circle cx="322.3" cy="217.5" r="0.42" fill="#3a3a3a"/><circle cx="322.1" cy="216.7" r="0.42" fill="#3a3a3a"/><circle cx="312.7" cy="212.7" r="0.42" fill="#3a3a3a"/><circle cx="301.9" cy="228.8" r="0.42" fill="#3a3a3a"/><circle cx="314.7" cy="212.4" r="0.42" fill="#3a3a3a"/><circle cx="308.3" cy="240.3" r="0.42" fill="#3a3a3a"/><circle cx="321.1" cy="213.1" r="0.42" fill="#3a3a3a"/><circle cx="300.6" cy="235.9" r="0.42" fill="#3a3a3a"/><circle cx="301.0" cy="231.3" r="0.42" fill="#3a3a3a"/><circle cx="322.0" cy="220.4" r="0.42" fill="#3a3a3a"/><circle cx="301.1" cy="237.6" r="0.42" fill="#3a3a3a"/><circle cx="300.6" cy="234.2" r="0.42" fill="#3a3a3a"/><circle cx="306.0" cy="219.0" r="0.42" fill="#3a3a3a"/><circle cx="303.8" cy="224.4" r="0.42" fill="#3a3a3a"/><circle cx="311.4" cy="213.9" r="0.42" fill="#3a3a3a"/><circle cx="300.8" cy="234.3" r="0.42" fill="#3a3a3a"/><circle cx="321.4" cy="221.6" r="0.42" fill="#3a3a3a"/><circle cx="300.9" cy="236.6" r="0.42" fill="#3a3a3a"/><circle cx="316.8" cy="210.9" r="0.42" fill="#3a3a3a"/><circle cx="314.8" cy="234.9" r="0.42" fill="#3a3a3a"/><circle cx="304.0" cy="241.2" r="0.42" fill="#3a3a3a"/><circle cx="318.7" cy="212.0" r="0.42" fill="#3a3a3a"/><circle cx="319.7" cy="224.5" r="0.42" fill="#3a3a3a"/><circle cx="313.1" cy="237.2" r="0.42" fill="#3a3a3a"/><circle cx="306.4" cy="240.3" r="0.42" fill="#3a3a3a"/><circle cx="300.1" cy="232.7" r="0.42" fill="#3a3a3a"/><circle cx="319.7" cy="212.1" r="0.42" fill="#3a3a3a"/><circle cx="316.3" cy="233.4" r="0.42" fill="#3a3a3a"/><circle cx="316.9" cy="231.7" r="0.42" fill="#3a3a3a"/><circle cx="311.2" cy="238.7" r="0.42" fill="#3a3a3a"/><circle cx="311.7" cy="214.6" r="0.42" fill="#3a3a3a"/><circle cx="300.4" cy="234.5" r="0.42" fill="#3a3a3a"/><circle cx="300.8" cy="232.4" r="0.42" fill="#3a3a3a"/><circle cx="320.2" cy="227.9" r="0.42" fill="#3a3a3a"/><circle cx="307.0" cy="241.0" r="0.42" fill="#3a3a3a"/><circle cx="300.8" cy="235.4" r="0.42" fill="#3a3a3a"/><circle cx="306.5" cy="219.5" r="0.42" fill="#3a3a3a"/><circle cx="302.1" cy="227.5" r="0.42" fill="#3a3a3a"/><circle cx="302.2" cy="226.3" r="0.42" fill="#3a3a3a"/><circle cx="300.9" cy="237.3" r="0.42" fill="#3a3a3a"/><circle cx="322.5" cy="217.6" r="0.42" fill="#3a3a3a"/><circle cx="309.1" cy="240.2" r="0.42" fill="#3a3a3a"/><circle cx="316.6" cy="210.8" r="0.42" fill="#3a3a3a"/><circle cx="321.2" cy="212.6" r="0.42" fill="#3a3a3a"/><circle cx="321.6" cy="212.8" r="0.42" fill="#3a3a3a"/><circle cx="308.9" cy="216.5" r="0.42" fill="#3a3a3a"/><circle cx="321.0" cy="226.7" r="0.42" fill="#3a3a3a"/><circle cx="312.3" cy="213.2" r="0.42" fill="#3a3a3a"/><circle cx="302.5" cy="239.6" r="0.42" fill="#3a3a3a"/><circle cx="320.8" cy="213.9" r="0.42" fill="#3a3a3a"/><circle cx="317.2" cy="210.4" r="0.42" fill="#3a3a3a"/><circle cx="302.7" cy="240.1" r="0.42" fill="#3a3a3a"/><circle cx="322.1" cy="216.9" r="0.42" fill="#3a3a3a"/><circle cx="322.3" cy="222.8" r="0.42" fill="#3a3a3a"/><circle cx="320.6" cy="211.0" r="0.42" fill="#3a3a3a"/><circle cx="308.7" cy="215.9" r="0.42" fill="#3a3a3a"/><circle cx="301.6" cy="228.8" r="0.42" fill="#3a3a3a"/><circle cx="321.1" cy="212.1" r="0.42" fill="#3a3a3a"/><circle cx="311.4" cy="238.5" r="0.42" fill="#3a3a3a"/><circle cx="319.3" cy="210.3" r="0.42" fill="#3a3a3a"/><circle cx="314.2" cy="211.5" r="0.42" fill="#3a3a3a"/><circle cx="319.0" cy="210.3" r="0.42" fill="#3a3a3a"/><circle cx="301.7" cy="240.5" r="0.42" fill="#3a3a3a"/><circle cx="321.2" cy="224.8" r="0.42" fill="#3a3a3a"/><circle cx="308.7" cy="216.3" r="0.42" fill="#3a3a3a"/><circle cx="302.5" cy="226.0" r="0.42" fill="#3a3a3a"/><circle cx="320.3" cy="225.1" r="0.42" fill="#3a3a3a"/><circle cx="320.2" cy="210.8" r="0.42" fill="#3a3a3a"/><circle cx="315.6" cy="234.8" r="0.42" fill="#3a3a3a"/><circle cx="319.8" cy="210.7" r="0.42" fill="#3a3a3a"/><circle cx="300.4" cy="234.0" r="0.42" fill="#3a3a3a"/><circle cx="316.2" cy="232.8" r="0.42" fill="#3a3a3a"/><circle cx="322.3" cy="216.6" r="0.42" fill="#3a3a3a"/><circle cx="303.7" cy="225.8" r="0.42" fill="#3a3a3a"/><circle cx="319.5" cy="210.2" r="0.42" fill="#3a3a3a"/><circle cx="306.3" cy="241.7" r="0.42" fill="#3a3a3a"/><circle cx="310.6" cy="239.3" r="0.42" fill="#3a3a3a"/><circle cx="300.1" cy="237.1" r="0.42" fill="#3a3a3a"/><circle cx="303.4" cy="224.4" r="0.42" fill="#3a3a3a"/><circle cx="322.1" cy="221.3" r="0.42" fill="#3a3a3a"/><circle cx="311.3" cy="213.3" r="0.42" fill="#3a3a3a"/>
<g transform="rotate(40 324.4 208.0)">
<ellipse cx="324.4" cy="208.0" rx="7.6" ry="12.0" fill="#bcbcbc"/>
<ellipse cx="324.4" cy="208.0" rx="6.6" ry="10.7" fill="#949494"/>
<ellipse cx="324.4" cy="208.0" rx="5.6" ry="9.4" fill="#a4a4a4"/>
<ellipse cx="324.4" cy="208.0" rx="4.6" ry="8.0" fill="#787878"/>
<ellipse cx="324.4" cy="208.0" rx="3.6" ry="6.6" fill="#8c8c8c"/>
<ellipse cx="324.4" cy="208.0" rx="2.6" ry="5.2" fill="#606060"/>
<ellipse cx="324.4" cy="208.0" rx="1.7" ry="3.8" fill="#848484"/>
<ellipse cx="324.4" cy="208.0" rx="0.8" ry="2.4" fill="#e0e0e0"/>
</g>
</g>
<rect x="280.8" y="171.3" width="75.80000000000001" height="76.69999999999999" fill="none" stroke="#111" stroke-width="1.4"/>
<line x1="280.8" y1="170.60000000000002" x2="280.8" y2="248.9" stroke="#0a0a0a" stroke-width="1.8" />
<line x1="279.90000000000003" y1="248.0" x2="357.3" y2="248.0" stroke="#0a0a0a" stroke-width="1.8" />
<path d="M283.0 248.0 V213.4 H334.9" fill="none" stroke="#444" stroke-width="0.8"/>
<path d="M314.5 199.2 V248.0" fill="none" stroke="#222" stroke-width="0.9"/>
<path d="M314.5 213.4 L314.5 199.2 L317.8 194.1 L326.3 189.4 L335.7 193.2 L340.8 205.2 L334.9 213.4" fill="none" stroke="#222" stroke-width="0.9"/>
<text x="343.2" y="185.7" font-size="7.7" fill="#2a2a2a" stroke="#2a2a2a" stroke-width="0.18" text-anchor="middle" >46.3%</text>
<text x="340.9" y="241.9" font-size="7.7" fill="#2a2a2a" stroke="#2a2a2a" stroke-width="0.18" text-anchor="middle" >17.3%</text>
<text x="290.0" y="164.9" font-size="9" fill="#161616" stroke="#161616" stroke-width="0.05" textLength="57.3" lengthAdjust="spacingAndGlyphs" >gBT-I iLin28b</text>
<line x1="277.40000000000003" y1="179.0" x2="280.8" y2="179.0" stroke="#111" stroke-width="1.0" />
<text x="276.1" y="182.8" font-size="7.8" fill="#161616" stroke="#161616" stroke-width="0.18" text-anchor="end" >10<tspan dy="-3.1" font-size="5.8">5</tspan></text>
<line x1="277.40000000000003" y1="197.2" x2="280.8" y2="197.2" stroke="#111" stroke-width="1.0" />
<text x="276.1" y="200.9" font-size="7.8" fill="#161616" stroke="#161616" stroke-width="0.18" text-anchor="end" >10<tspan dy="-3.1" font-size="5.8">4</tspan></text>
<line x1="277.40000000000003" y1="215.8" x2="280.8" y2="215.8" stroke="#111" stroke-width="1.0" />
<text x="276.1" y="219.7" font-size="7.8" fill="#161616" stroke="#161616" stroke-width="0.18" text-anchor="end" >10<tspan dy="-3.1" font-size="5.8">3</tspan></text>
<line x1="277.40000000000003" y1="232.8" x2="280.8" y2="232.8" stroke="#111" stroke-width="1.0" />
<text x="270.2" y="235.7" font-size="7.8" fill="#161616" stroke="#161616" stroke-width="0.18" text-anchor="middle" >0</text>
<line x1="278.6" y1="191.9" x2="280.8" y2="191.9" stroke="#111" stroke-width="0.7" />
<line x1="278.6" y1="188.6" x2="280.8" y2="188.6" stroke="#111" stroke-width="0.7" />
<line x1="278.6" y1="186.3" x2="280.8" y2="186.3" stroke="#111" stroke-width="0.7" />
<line x1="278.6" y1="184.5" x2="280.8" y2="184.5" stroke="#111" stroke-width="0.7" />
<line x1="278.6" y1="183.1" x2="280.8" y2="183.1" stroke="#111" stroke-width="0.7" />
<line x1="278.6" y1="181.9" x2="280.8" y2="181.9" stroke="#111" stroke-width="0.7" />
<line x1="278.6" y1="180.8" x2="280.8" y2="180.8" stroke="#111" stroke-width="0.7" />
<line x1="278.6" y1="179.8" x2="280.8" y2="179.8" stroke="#111" stroke-width="0.7" />
<line x1="278.6" y1="210.1" x2="280.8" y2="210.1" stroke="#111" stroke-width="0.7" />
<line x1="278.6" y1="206.8" x2="280.8" y2="206.8" stroke="#111" stroke-width="0.7" />
<line x1="278.6" y1="204.5" x2="280.8" y2="204.5" stroke="#111" stroke-width="0.7" />
<line x1="278.6" y1="202.7" x2="280.8" y2="202.7" stroke="#111" stroke-width="0.7" />
<line x1="278.6" y1="201.3" x2="280.8" y2="201.3" stroke="#111" stroke-width="0.7" />
<line x1="278.6" y1="200.1" x2="280.8" y2="200.1" stroke="#111" stroke-width="0.7" />
<line x1="278.6" y1="199.0" x2="280.8" y2="199.0" stroke="#111" stroke-width="0.7" />
<line x1="278.6" y1="198.0" x2="280.8" y2="198.0" stroke="#111" stroke-width="0.7" />
<line x1="278.8" y1="173.0" x2="280.8" y2="173.0" stroke="#111" stroke-width="0.7" />
<line x1="278.8" y1="174.6" x2="280.8" y2="174.6" stroke="#111" stroke-width="0.7" />
<line x1="278.8" y1="176.0" x2="280.8" y2="176.0" stroke="#111" stroke-width="0.7" />
<line x1="278.8" y1="177.4" x2="280.8" y2="177.4" stroke="#111" stroke-width="0.7" />
<line x1="278.8" y1="217.5" x2="280.8" y2="217.5" stroke="#111" stroke-width="0.7" />
<line x1="278.8" y1="219.5" x2="280.8" y2="219.5" stroke="#111" stroke-width="0.7" />
<line x1="278.8" y1="221.5" x2="280.8" y2="221.5" stroke="#111" stroke-width="0.7" />
<line x1="278.8" y1="223.5" x2="280.8" y2="223.5" stroke="#111" stroke-width="0.7" />
<line x1="278.8" y1="225.5" x2="280.8" y2="225.5" stroke="#111" stroke-width="0.7" />
<line x1="278.8" y1="227.5" x2="280.8" y2="227.5" stroke="#111" stroke-width="0.7" />
<line x1="278.8" y1="229.5" x2="280.8" y2="229.5" stroke="#111" stroke-width="0.7" />
<line x1="278.8" y1="231" x2="280.8" y2="231" stroke="#111" stroke-width="0.7" />
<line x1="278.8" y1="234.5" x2="280.8" y2="234.5" stroke="#111" stroke-width="0.7" />
<line x1="278.8" y1="236.5" x2="280.8" y2="236.5" stroke="#111" stroke-width="0.7" />
<line x1="278.8" y1="238.5" x2="280.8" y2="238.5" stroke="#111" stroke-width="0.7" />
<line x1="278.8" y1="240.5" x2="280.8" y2="240.5" stroke="#111" stroke-width="0.7" />
<line x1="278.8" y1="242.5" x2="280.8" y2="242.5" stroke="#111" stroke-width="0.7" />
<line x1="278.8" y1="244.5" x2="280.8" y2="244.5" stroke="#111" stroke-width="0.7" />
<line x1="315.1" y1="248.0" x2="315.1" y2="251.2" stroke="#111" stroke-width="1.0" />
<text x="316.3" y="261.9" font-size="7.8" fill="#161616" stroke="#161616" stroke-width="0.18" text-anchor="middle" >10<tspan dy="-3.1" font-size="5.8">3</tspan></text>
<line x1="332.1" y1="248.0" x2="332.1" y2="251.2" stroke="#111" stroke-width="1.0" />
<text x="333.3" y="261.9" font-size="7.8" fill="#161616" stroke="#161616" stroke-width="0.18" text-anchor="middle" >10<tspan dy="-3.1" font-size="5.8">4</tspan></text>
<line x1="348.6" y1="248.0" x2="348.6" y2="251.2" stroke="#111" stroke-width="1.0" />
<text x="349.8" y="261.9" font-size="7.8" fill="#161616" stroke="#161616" stroke-width="0.18" text-anchor="middle" >10<tspan dy="-3.1" font-size="5.8">5</tspan></text>
<line x1="291.2" y1="248.0" x2="291.2" y2="251.2" stroke="#111" stroke-width="1.0" />
<text x="291.2" y="261.9" font-size="7.8" fill="#161616" stroke="#161616" stroke-width="0.18" text-anchor="middle" >0</text>
<line x1="320.4" y1="248.0" x2="320.4" y2="250.2" stroke="#111" stroke-width="0.7" />
<line x1="323.7" y1="248.0" x2="323.7" y2="250.2" stroke="#111" stroke-width="0.7" />
<line x1="326.0" y1="248.0" x2="326.0" y2="250.2" stroke="#111" stroke-width="0.7" />
<line x1="327.8" y1="248.0" x2="327.8" y2="250.2" stroke="#111" stroke-width="0.7" />
<line x1="329.3" y1="248.0" x2="329.3" y2="250.2" stroke="#111" stroke-width="0.7" />
<line x1="330.5" y1="248.0" x2="330.5" y2="250.2" stroke="#111" stroke-width="0.7" />
<line x1="331.6" y1="248.0" x2="331.6" y2="250.2" stroke="#111" stroke-width="0.7" />
<line x1="332.5" y1="248.0" x2="332.5" y2="250.2" stroke="#111" stroke-width="0.7" />
<line x1="338.6" y1="248.0" x2="338.6" y2="250.2" stroke="#111" stroke-width="0.7" />
<line x1="341.6" y1="248.0" x2="341.6" y2="250.2" stroke="#111" stroke-width="0.7" />
<line x1="343.8" y1="248.0" x2="343.8" y2="250.2" stroke="#111" stroke-width="0.7" />
<line x1="345.4" y1="248.0" x2="345.4" y2="250.2" stroke="#111" stroke-width="0.7" />
<line x1="346.8" y1="248.0" x2="346.8" y2="250.2" stroke="#111" stroke-width="0.7" />
<line x1="347.9" y1="248.0" x2="347.9" y2="250.2" stroke="#111" stroke-width="0.7" />
<line x1="348.9" y1="248.0" x2="348.9" y2="250.2" stroke="#111" stroke-width="0.7" />
<line x1="349.8" y1="248.0" x2="349.8" y2="250.2" stroke="#111" stroke-width="0.7" />
<line x1="283" y1="248.0" x2="283" y2="250.0" stroke="#111" stroke-width="0.7" />
<line x1="285" y1="248.0" x2="285" y2="250.0" stroke="#111" stroke-width="0.7" />
<line x1="287" y1="248.0" x2="287" y2="250.0" stroke="#111" stroke-width="0.7" />
<line x1="289" y1="248.0" x2="289" y2="250.0" stroke="#111" stroke-width="0.7" />
<line x1="293.5" y1="248.0" x2="293.5" y2="250.0" stroke="#111" stroke-width="0.7" />
<line x1="296" y1="248.0" x2="296" y2="250.0" stroke="#111" stroke-width="0.7" />
<line x1="298.5" y1="248.0" x2="298.5" y2="250.0" stroke="#111" stroke-width="0.7" />
<line x1="301" y1="248.0" x2="301" y2="250.0" stroke="#111" stroke-width="0.7" />
<line x1="303.5" y1="248.0" x2="303.5" y2="250.0" stroke="#111" stroke-width="0.7" />
<line x1="306" y1="248.0" x2="306" y2="250.0" stroke="#111" stroke-width="0.7" />
<line x1="308.5" y1="248.0" x2="308.5" y2="250.0" stroke="#111" stroke-width="0.7" />
<line x1="311" y1="248.0" x2="311" y2="250.0" stroke="#111" stroke-width="0.7" />
<line x1="313" y1="248.0" x2="313" y2="250.0" stroke="#111" stroke-width="0.7" />
<text x="373.0" y="139.4" font-size="11.8" fill="#000" stroke="#000" stroke-width="0.1" font-weight="bold" >D</text>
<line x1="400.6" y1="171.5" x2="400.6" y2="250.0" stroke="#0a0a0a" stroke-width="1.3" />
<line x1="400.0" y1="249.3" x2="512.8" y2="249.3" stroke="#0a0a0a" stroke-width="1.3" />
<line x1="397.0" y1="173.7" x2="400.6" y2="173.7" stroke="#0a0a0a" stroke-width="1.1" />
<text x="395.6" y="176.7" font-size="8.5" fill="#161616" stroke="#161616" stroke-width="0.18" text-anchor="end" >80</text>
<line x1="397.0" y1="193.2" x2="400.6" y2="193.2" stroke="#0a0a0a" stroke-width="1.1" />
<text x="395.6" y="196.2" font-size="8.5" fill="#161616" stroke="#161616" stroke-width="0.18" text-anchor="end" >60</text>
<line x1="397.0" y1="211.9" x2="400.6" y2="211.9" stroke="#0a0a0a" stroke-width="1.1" />
<text x="395.6" y="214.9" font-size="8.5" fill="#161616" stroke="#161616" stroke-width="0.18" text-anchor="end" >40</text>
<line x1="397.0" y1="230.5" x2="400.6" y2="230.5" stroke="#0a0a0a" stroke-width="1.1" />
<text x="395.6" y="233.5" font-size="8.5" fill="#161616" stroke="#161616" stroke-width="0.18" text-anchor="end" >20</text>
<line x1="397.0" y1="249.3" x2="400.6" y2="249.3" stroke="#0a0a0a" stroke-width="1.1" />
<text x="395.6" y="252.3" font-size="8.5" fill="#161616" stroke="#161616" stroke-width="0.18" text-anchor="end" >0</text>
<line x1="429.1" y1="249.3" x2="429.1" y2="252.8" stroke="#0a0a0a" stroke-width="1.1" />
<line x1="485.4" y1="249.3" x2="485.4" y2="252.8" stroke="#0a0a0a" stroke-width="1.1" />
<text x="379.8" y="233.3" font-size="10.0" fill="#222" stroke="#222" stroke-width="0.06" textLength="43.2" lengthAdjust="spacingAndGlyphs" transform="rotate(-90 379.8 233.3)" >% MP cells</text>
<line x1="430.6" y1="190.6" x2="485.5" y2="190.6" stroke="#0a0a0a" stroke-width="1.2" />
<line x1="430.6" y1="187.7" x2="430.6" y2="193.5" stroke="#0a0a0a" stroke-width="1.2" />
<line x1="485.5" y1="187.7" x2="485.5" y2="193.5" stroke="#0a0a0a" stroke-width="1.2" />
<text x="458.2" y="190.0" font-size="7.2" fill="#161616" stroke="#161616" stroke-width="0.18" text-anchor="middle" >****</text>
<line x1="410.8" y1="239.9" x2="447.8" y2="239.9" stroke="#0a0a0a" stroke-width="1.3" />
<circle cx="429.3" cy="235.5" r="1.7" fill="#0a0a0a"/>
<circle cx="424.7" cy="239.9" r="1.7" fill="#0a0a0a"/>
<circle cx="433.9" cy="240.4" r="1.7" fill="#0a0a0a"/>
<circle cx="429.3" cy="243.0" r="1.7" fill="#0a0a0a"/>
<line x1="466.9" y1="203.8" x2="503.9" y2="203.8" stroke="#0a0a0a" stroke-width="1.3" />
<rect x="477.35" y="199.25" width="3.1" height="3.1" fill="#fff" stroke="#0a0a0a" stroke-width="0.9"/>
<rect x="481.05" y="199.25" width="3.1" height="3.1" fill="#fff" stroke="#0a0a0a" stroke-width="0.9"/>
<rect x="485.65" y="198.85" width="3.1" height="3.1" fill="#fff" stroke="#0a0a0a" stroke-width="0.9"/>
<rect x="490.35" y="200.45" width="3.1" height="3.1" fill="#fff" stroke="#0a0a0a" stroke-width="0.9"/>
<rect x="481.05" y="203.45" width="3.1" height="3.1" fill="#fff" stroke="#0a0a0a" stroke-width="0.9"/>
<rect x="485.65" y="204.15" width="3.1" height="3.1" fill="#fff" stroke="#0a0a0a" stroke-width="0.9"/>
<rect x="481.05" y="208.75" width="3.1" height="3.1" fill="#fff" stroke="#0a0a0a" stroke-width="0.9"/>
<text x="435.0" y="260.4" font-size="8.2" fill="#161616" stroke="#161616" stroke-width="0.18" text-anchor="end" transform="rotate(-45 435.0 260.4)" >gBT-I WT</text>
<text x="491.4" y="260.6" font-size="8.3" fill="#161616" stroke="#161616" stroke-width="0.18" text-anchor="end" transform="rotate(-45 491.4 260.6)" >gBT-I iLin28b</text>
<text x="13.2" y="320.8" font-size="11.8" fill="#000" stroke="#000" stroke-width="0.1" font-weight="bold" >E</text>
<line x1="43.2" y1="327.5" x2="43.2" y2="444.3" stroke="#0a0a0a" stroke-width="1.3" />
<line x1="42.6" y1="443.6" x2="212.6" y2="443.6" stroke="#0a0a0a" stroke-width="1.3" />
<line x1="39.4" y1="330.35" x2="43.2" y2="330.35" stroke="#0a0a0a" stroke-width="1.1" />
<text x="36.9" y="333.1" font-size="7.5" fill="#161616" stroke="#161616" stroke-width="0.18" text-anchor="end" >2.5</text>
<line x1="39.4" y1="353.0" x2="43.2" y2="353.0" stroke="#0a0a0a" stroke-width="1.1" />
<text x="36.9" y="355.7" font-size="7.5" fill="#161616" stroke="#161616" stroke-width="0.18" text-anchor="end" >2.0</text>
<line x1="39.4" y1="375.65" x2="43.2" y2="375.65" stroke="#0a0a0a" stroke-width="1.1" />
<text x="36.9" y="378.3" font-size="7.5" fill="#161616" stroke="#161616" stroke-width="0.18" text-anchor="end" >1.5</text>
<line x1="39.4" y1="398.3" x2="43.2" y2="398.3" stroke="#0a0a0a" stroke-width="1.1" />
<text x="36.9" y="401.0" font-size="7.5" fill="#161616" stroke="#161616" stroke-width="0.18" text-anchor="end" >1.0</text>
<line x1="39.4" y1="420.95" x2="43.2" y2="420.95" stroke="#0a0a0a" stroke-width="1.1" />
<text x="36.9" y="423.6" font-size="7.5" fill="#161616" stroke="#161616" stroke-width="0.18" text-anchor="end" >0.5</text>
<line x1="39.4" y1="443.6" x2="43.2" y2="443.6" stroke="#0a0a0a" stroke-width="1.1" />
<text x="36.9" y="446.3" font-size="7.5" fill="#161616" stroke="#161616" stroke-width="0.18" text-anchor="end" >0</text>
<line x1="52.3" y1="443.6" x2="52.3" y2="446.8" stroke="#0a0a0a" stroke-width="1.1" />
<text x="52.3" y="456.6" font-size="7.5" fill="#161616" stroke="#161616" stroke-width="0.18" text-anchor="middle" >5</text>
<line x1="71.1" y1="443.6" x2="71.1" y2="446.8" stroke="#0a0a0a" stroke-width="1.1" />
<text x="71.1" y="456.6" font-size="7.5" fill="#161616" stroke="#161616" stroke-width="0.18" text-anchor="middle" >7</text>
<line x1="90.0" y1="443.6" x2="90.0" y2="446.8" stroke="#0a0a0a" stroke-width="1.1" />
<text x="90.0" y="456.6" font-size="7.5" fill="#161616" stroke="#161616" stroke-width="0.18" text-anchor="middle" >9</text>
<line x1="108.8" y1="443.6" x2="108.8" y2="446.8" stroke="#0a0a0a" stroke-width="1.1" />
<text x="108.8" y="456.6" font-size="7.5" fill="#161616" stroke="#161616" stroke-width="0.18" text-anchor="middle" >14</text>
<line x1="127.2" y1="443.6" x2="127.2" y2="446.8" stroke="#0a0a0a" stroke-width="1.1" />
<text x="127.2" y="456.6" font-size="7.5" fill="#161616" stroke="#161616" stroke-width="0.18" text-anchor="middle" >21</text>
<line x1="146.3" y1="443.6" x2="146.3" y2="446.8" stroke="#0a0a0a" stroke-width="1.1" />
<text x="146.3" y="456.6" font-size="7.5" fill="#161616" stroke="#161616" stroke-width="0.18" text-anchor="middle" >28</text>
<line x1="165.3" y1="443.6" x2="165.3" y2="446.8" stroke="#0a0a0a" stroke-width="1.1" />
<text x="165.3" y="456.6" font-size="7.5" fill="#161616" stroke="#161616" stroke-width="0.18" text-anchor="middle" >33</text>
<line x1="183.7" y1="443.6" x2="183.7" y2="446.8" stroke="#0a0a0a" stroke-width="1.1" />
<text x="183.7" y="456.6" font-size="7.5" fill="#161616" stroke="#161616" stroke-width="0.18" text-anchor="middle" >35</text>
<line x1="202.4" y1="443.6" x2="202.4" y2="446.8" stroke="#0a0a0a" stroke-width="1.1" />
<text x="202.4" y="456.6" font-size="7.5" fill="#161616" stroke="#161616" stroke-width="0.18" text-anchor="middle" >39</text>
<text x="19.9" y="421.4" font-size="10.0" fill="#222" stroke="#222" stroke-width="0.06" textLength="69.8" lengthAdjust="spacingAndGlyphs" transform="rotate(-90 19.9 421.4)" >% of CD8+ T cells</text>
<text x="121.2" y="484.5" font-size="10.0" fill="#222" stroke="#222" stroke-width="0.06" textLength="13.8" lengthAdjust="spacingAndGlyphs" >DPI</text>
<line x1="43.2" y1="474.2" x2="43.2" y2="465.1" stroke="#0d0d0d" stroke-width="1.3" />
<polygon points="43.20,461.50 45.60,466.30 43.20,465.10 40.80,466.30" fill="#0d0d0d"/>
<line x1="146.3" y1="474.2" x2="146.3" y2="466.0" stroke="#0d0d0d" stroke-width="1.3" />
<polygon points="146.30,462.40 148.70,467.20 146.30,466.00 143.90,467.20" fill="#0d0d0d"/>
<line x1="47.5" y1="337" x2="57.5" y2="337" stroke="#0a0a0a" stroke-width="1.9" />
<text x="61.2" y="339.5" font-size="7.6" fill="#161616" stroke="#161616" stroke-width="0.18" textLength="32.2" lengthAdjust="spacingAndGlyphs" >gBT-I WT</text>
<line x1="47.5" y1="350.7" x2="57.5" y2="350.7" stroke="#0a0a0a" stroke-width="1.7" stroke-dasharray="1.4 1"/>
<text x="61.2" y="353.1" font-size="7.6" fill="#161616" stroke="#161616" stroke-width="0.18" textLength="45.5" lengthAdjust="spacingAndGlyphs" >gBT-I iLin28b</text>
<polyline points="52.3,439.75 71.1,406.45 90.0,420.5 108.8,437.26 127.2,440.88 146.3,443.37 165.3,364.55 183.7,385.16 202.4,410.98" fill="none" stroke="#0a0a0a" stroke-width="1.9" stroke-linejoin="round" />
<rect x="50.90" y="438.35" width="2.8" height="2.8" fill="#0a0a0a"/>
<line x1="52.3" y1="438.39" x2="52.3" y2="441.11" stroke="#0a0a0a" stroke-width="1.4" />
<line x1="49.699999999999996" y1="438.39" x2="54.9" y2="438.39" stroke="#0a0a0a" stroke-width="1.4" />
<line x1="49.699999999999996" y1="441.11" x2="54.9" y2="441.11" stroke="#0a0a0a" stroke-width="1.4" />
<rect x="69.70" y="405.05" width="2.8" height="2.8" fill="#0a0a0a"/>
<line x1="71.1" y1="401.92" x2="71.1" y2="410.98" stroke="#0a0a0a" stroke-width="1.4" />
<line x1="68.5" y1="401.92" x2="73.69999999999999" y2="401.92" stroke="#0a0a0a" stroke-width="1.4" />
<line x1="68.5" y1="410.98" x2="73.69999999999999" y2="410.98" stroke="#0a0a0a" stroke-width="1.4" />
<rect x="88.60" y="419.10" width="2.8" height="2.8" fill="#0a0a0a"/>
<line x1="90.0" y1="416.87" x2="90.0" y2="424.12" stroke="#0a0a0a" stroke-width="1.4" />
<line x1="87.4" y1="416.87" x2="92.6" y2="416.87" stroke="#0a0a0a" stroke-width="1.4" />
<line x1="87.4" y1="424.12" x2="92.6" y2="424.12" stroke="#0a0a0a" stroke-width="1.4" />
<rect x="107.40" y="435.86" width="2.8" height="2.8" fill="#0a0a0a"/>
<line x1="108.8" y1="435.67" x2="108.8" y2="438.84" stroke="#0a0a0a" stroke-width="1.4" />
<line x1="106.2" y1="435.67" x2="111.39999999999999" y2="435.67" stroke="#0a0a0a" stroke-width="1.4" />
<line x1="106.2" y1="438.84" x2="111.39999999999999" y2="438.84" stroke="#0a0a0a" stroke-width="1.4" />
<rect x="125.80" y="439.48" width="2.8" height="2.8" fill="#0a0a0a"/>
<line x1="127.2" y1="439.52" x2="127.2" y2="442.24" stroke="#0a0a0a" stroke-width="1.4" />
<line x1="124.60000000000001" y1="439.52" x2="129.8" y2="439.52" stroke="#0a0a0a" stroke-width="1.4" />
<line x1="124.60000000000001" y1="442.24" x2="129.8" y2="442.24" stroke="#0a0a0a" stroke-width="1.4" />
<rect x="144.90" y="441.97" width="2.8" height="2.8" fill="#0a0a0a"/>
<rect x="163.90" y="363.15" width="2.8" height="2.8" fill="#0a0a0a"/>
<line x1="165.3" y1="342.35" x2="165.3" y2="386.75" stroke="#0a0a0a" stroke-width="1.4" />
<line x1="162.70000000000002" y1="342.35" x2="167.9" y2="342.35" stroke="#0a0a0a" stroke-width="1.4" />
<line x1="162.70000000000002" y1="386.75" x2="167.9" y2="386.75" stroke="#0a0a0a" stroke-width="1.4" />
<rect x="182.30" y="383.76" width="2.8" height="2.8" fill="#0a0a0a"/>
<line x1="183.7" y1="369.08" x2="183.7" y2="401.24" stroke="#0a0a0a" stroke-width="1.4" />
<line x1="181.1" y1="369.08" x2="186.29999999999998" y2="369.08" stroke="#0a0a0a" stroke-width="1.4" />
<line x1="181.1" y1="401.24" x2="186.29999999999998" y2="401.24" stroke="#0a0a0a" stroke-width="1.4" />
<rect x="201.00" y="409.58" width="2.8" height="2.8" fill="#0a0a0a"/>
<line x1="202.4" y1="398.53" x2="202.4" y2="423.44" stroke="#0a0a0a" stroke-width="1.4" />
<line x1="199.8" y1="398.53" x2="205.0" y2="398.53" stroke="#0a0a0a" stroke-width="1.4" />
<line x1="199.8" y1="423.44" x2="205.0" y2="423.44" stroke="#0a0a0a" stroke-width="1.4" />
<polyline points="52.3,431.37 71.1,428.65 90.0,439.07 108.8,442.24 127.2,443.06 146.3,443.37 165.3,437.26 183.7,436.35 202.4,438.16" fill="none" stroke="#0a0a0a" stroke-width="1.7" stroke-linejoin="round" stroke-dasharray="1.5 1.0"/>
<rect x="50.90" y="429.97" width="2.8" height="2.8" fill="#0a0a0a"/>
<line x1="52.3" y1="429.56" x2="52.3" y2="433.18" stroke="#0a0a0a" stroke-width="1.4" />
<line x1="49.699999999999996" y1="429.56" x2="54.9" y2="429.56" stroke="#0a0a0a" stroke-width="1.4" />
<line x1="49.699999999999996" y1="433.18" x2="54.9" y2="433.18" stroke="#0a0a0a" stroke-width="1.4" />
<rect x="69.70" y="427.25" width="2.8" height="2.8" fill="#0a0a0a"/>
<line x1="71.1" y1="424.12" x2="71.1" y2="433.18" stroke="#0a0a0a" stroke-width="1.4" />
<line x1="68.5" y1="424.12" x2="73.69999999999999" y2="424.12" stroke="#0a0a0a" stroke-width="1.4" />
<line x1="68.5" y1="433.18" x2="73.69999999999999" y2="433.18" stroke="#0a0a0a" stroke-width="1.4" />
<rect x="88.60" y="437.67" width="2.8" height="2.8" fill="#0a0a0a"/>
<line x1="90.0" y1="437.48" x2="90.0" y2="440.66" stroke="#0a0a0a" stroke-width="1.4" />
<line x1="87.4" y1="437.48" x2="92.6" y2="437.48" stroke="#0a0a0a" stroke-width="1.4" />
<line x1="87.4" y1="440.66" x2="92.6" y2="440.66" stroke="#0a0a0a" stroke-width="1.4" />
<rect x="107.40" y="440.84" width="2.8" height="2.8" fill="#0a0a0a"/>
<line x1="108.8" y1="441.34" x2="108.8" y2="443.15" stroke="#0a0a0a" stroke-width="1.4" />
<line x1="106.2" y1="441.34" x2="111.39999999999999" y2="441.34" stroke="#0a0a0a" stroke-width="1.4" />
<line x1="106.2" y1="443.15" x2="111.39999999999999" y2="443.15" stroke="#0a0a0a" stroke-width="1.4" />
<rect x="125.80" y="441.66" width="2.8" height="2.8" fill="#0a0a0a"/>
<line x1="127.2" y1="442.6" x2="127.2" y2="443.51" stroke="#0a0a0a" stroke-width="1.4" />
<line x1="124.60000000000001" y1="442.6" x2="129.8" y2="442.6" stroke="#0a0a0a" stroke-width="1.4" />
<line x1="124.60000000000001" y1="443.51" x2="129.8" y2="443.51" stroke="#0a0a0a" stroke-width="1.4" />
<rect x="144.90" y="441.97" width="2.8" height="2.8" fill="#0a0a0a"/>
<rect x="163.90" y="435.86" width="2.8" height="2.8" fill="#0a0a0a"/>
<line x1="165.3" y1="434.09" x2="165.3" y2="440.43" stroke="#0a0a0a" stroke-width="1.4" />
<line x1="162.70000000000002" y1="434.09" x2="167.9" y2="434.09" stroke="#0a0a0a" stroke-width="1.4" />
<line x1="162.70000000000002" y1="440.43" x2="167.9" y2="440.43" stroke="#0a0a0a" stroke-width="1.4" />
<rect x="182.30" y="434.95" width="2.8" height="2.8" fill="#0a0a0a"/>
<line x1="183.7" y1="432.5" x2="183.7" y2="440.2" stroke="#0a0a0a" stroke-width="1.4" />
<line x1="181.1" y1="432.5" x2="186.29999999999998" y2="432.5" stroke="#0a0a0a" stroke-width="1.4" />
<line x1="181.1" y1="440.2" x2="186.29999999999998" y2="440.2" stroke="#0a0a0a" stroke-width="1.4" />
<rect x="201.00" y="436.76" width="2.8" height="2.8" fill="#0a0a0a"/>
<line x1="202.4" y1="434.77" x2="202.4" y2="441.56" stroke="#0a0a0a" stroke-width="1.4" />
<line x1="199.8" y1="434.77" x2="205.0" y2="434.77" stroke="#0a0a0a" stroke-width="1.4" />
<line x1="199.8" y1="441.56" x2="205.0" y2="441.56" stroke="#0a0a0a" stroke-width="1.4" />
<text x="227.3" y="321.1" font-size="11.8" fill="#000" stroke="#000" stroke-width="0.1" font-weight="bold" >F</text>
<line x1="258.5" y1="335.5" x2="258.5" y2="444.3" stroke="#0a0a0a" stroke-width="1.3" />
<line x1="257.9" y1="443.6" x2="328.8" y2="443.6" stroke="#0a0a0a" stroke-width="1.3" />
<line x1="254.9" y1="443.6" x2="258.5" y2="443.6" stroke="#0a0a0a" stroke-width="1.1" />
<text x="253.3" y="446.4" font-size="7.6" fill="#161616" stroke="#161616" stroke-width="0.18" text-anchor="end" >0</text>
<line x1="254.9" y1="422.52" x2="258.5" y2="422.52" stroke="#0a0a0a" stroke-width="1.1" />
<text x="253.3" y="425.3" font-size="7.6" fill="#161616" stroke="#161616" stroke-width="0.18" text-anchor="end" >20</text>
<line x1="254.9" y1="401.44" x2="258.5" y2="401.44" stroke="#0a0a0a" stroke-width="1.1" />
<text x="253.3" y="404.2" font-size="7.6" fill="#161616" stroke="#161616" stroke-width="0.18" text-anchor="end" >40</text>
<line x1="254.9" y1="380.36" x2="258.5" y2="380.36" stroke="#0a0a0a" stroke-width="1.1" />
<text x="253.3" y="383.2" font-size="7.6" fill="#161616" stroke="#161616" stroke-width="0.18" text-anchor="end" >60</text>
<line x1="254.9" y1="359.28" x2="258.5" y2="359.28" stroke="#0a0a0a" stroke-width="1.1" />
<text x="253.3" y="362.1" font-size="7.6" fill="#161616" stroke="#161616" stroke-width="0.18" text-anchor="end" >80</text>
<line x1="254.9" y1="338.2" x2="258.5" y2="338.2" stroke="#0a0a0a" stroke-width="1.1" />
<text x="253.3" y="341.0" font-size="7.6" fill="#161616" stroke="#161616" stroke-width="0.18" text-anchor="end" >100</text>
<line x1="276.5" y1="443.6" x2="276.5" y2="447.0" stroke="#0a0a0a" stroke-width="1.1" />
<line x1="311.4" y1="443.6" x2="311.4" y2="447.0" stroke="#0a0a0a" stroke-width="1.1" />
<text x="233.9" y="406.6" font-size="10.0" fill="#222" stroke="#222" stroke-width="0.06" textLength="31" lengthAdjust="spacingAndGlyphs" transform="rotate(-90 233.9 406.6)" >% SLEC</text>
<line x1="275.3" y1="337.7" x2="311.4" y2="337.7" stroke="#0a0a0a" stroke-width="1.2" />
<line x1="275.3" y1="335.0" x2="275.3" y2="340.4" stroke="#0a0a0a" stroke-width="1.2" />
<line x1="311.4" y1="335.0" x2="311.4" y2="340.4" stroke="#0a0a0a" stroke-width="1.2" />
<text x="293.3" y="337.5" font-size="7.2" fill="#161616" stroke="#161616" stroke-width="0.18" text-anchor="middle" >****</text>
<line x1="276.5" y1="397.8" x2="311.3" y2="366.5" stroke="#0a0a0a" stroke-width="1.4" stroke-dasharray="6.5 2.3" stroke-dashoffset="0.0"/>
<line x1="276.5" y1="402.1" x2="311.3" y2="372.0" stroke="#0a0a0a" stroke-width="1.4" stroke-dasharray="6.5 2.3" stroke-dashoffset="0.8"/>
<line x1="276.5" y1="405.0" x2="311.3" y2="356.8" stroke="#0a0a0a" stroke-width="1.4" stroke-dasharray="6.5 2.3" stroke-dashoffset="1.6"/>
<line x1="276.5" y1="406.5" x2="311.3" y2="359.5" stroke="#0a0a0a" stroke-width="1.4" stroke-dasharray="6.5 2.3" stroke-dashoffset="0.0"/>
<line x1="276.5" y1="408.0" x2="311.3" y2="362.2" stroke="#0a0a0a" stroke-width="1.4" stroke-dasharray="6.5 2.3" stroke-dashoffset="0.8"/>
<line x1="276.5" y1="409.5" x2="311.3" y2="364.9" stroke="#0a0a0a" stroke-width="1.4" stroke-dasharray="6.5 2.3" stroke-dashoffset="1.6"/>
<line x1="276.5" y1="411.0" x2="311.3" y2="369.5" stroke="#0a0a0a" stroke-width="1.4" stroke-dasharray="6.5 2.3" stroke-dashoffset="0.0"/>
<line x1="276.5" y1="412.3" x2="311.3" y2="375.7" stroke="#0a0a0a" stroke-width="1.4" stroke-dasharray="6.5 2.3" stroke-dashoffset="0.8"/>
<line x1="276.5" y1="413.5" x2="311.3" y2="378.4" stroke="#0a0a0a" stroke-width="1.4" stroke-dasharray="6.5 2.3" stroke-dashoffset="1.6"/>
<line x1="276.5" y1="414.5" x2="311.3" y2="381.0" stroke="#0a0a0a" stroke-width="1.4" stroke-dasharray="6.5 2.3" stroke-dashoffset="0.0"/>
<line x1="276.5" y1="418.5" x2="311.3" y2="383.6" stroke="#0a0a0a" stroke-width="1.4" stroke-dasharray="6.5 2.3" stroke-dashoffset="0.8"/>
<circle cx="276.5" cy="397.8" r="1.5" fill="#0a0a0a"/>
<circle cx="276.5" cy="402.1" r="1.5" fill="#0a0a0a"/>
<circle cx="276.5" cy="405.0" r="1.5" fill="#0a0a0a"/>
<circle cx="276.5" cy="406.5" r="1.5" fill="#0a0a0a"/>
<circle cx="276.5" cy="408.0" r="1.5" fill="#0a0a0a"/>
<circle cx="276.5" cy="409.5" r="1.5" fill="#0a0a0a"/>
<circle cx="276.5" cy="411.0" r="1.5" fill="#0a0a0a"/>
<circle cx="276.5" cy="412.3" r="1.5" fill="#0a0a0a"/>
<circle cx="276.5" cy="413.5" r="1.5" fill="#0a0a0a"/>
<circle cx="276.5" cy="414.5" r="1.5" fill="#0a0a0a"/>
<circle cx="276.5" cy="418.5" r="1.5" fill="#0a0a0a"/>
<rect x="310.00" y="355.50" width="2.6" height="2.6" fill="#fff" stroke="#0a0a0a" stroke-width="0.85"/>
<rect x="310.00" y="358.20" width="2.6" height="2.6" fill="#fff" stroke="#0a0a0a" stroke-width="0.85"/>
<rect x="310.00" y="360.90" width="2.6" height="2.6" fill="#fff" stroke="#0a0a0a" stroke-width="0.85"/>
<rect x="310.00" y="363.60" width="2.6" height="2.6" fill="#fff" stroke="#0a0a0a" stroke-width="0.85"/>
<rect x="310.00" y="366.30" width="2.6" height="2.6" fill="#fff" stroke="#0a0a0a" stroke-width="0.85"/>
<rect x="310.00" y="369.00" width="2.6" height="2.6" fill="#fff" stroke="#0a0a0a" stroke-width="0.85"/>
<rect x="310.00" y="371.70" width="2.6" height="2.6" fill="#fff" stroke="#0a0a0a" stroke-width="0.85"/>
<rect x="310.00" y="374.40" width="2.6" height="2.6" fill="#fff" stroke="#0a0a0a" stroke-width="0.85"/>
<rect x="310.00" y="377.10" width="2.6" height="2.6" fill="#fff" stroke="#0a0a0a" stroke-width="0.85"/>
<rect x="310.00" y="379.70" width="2.6" height="2.6" fill="#fff" stroke="#0a0a0a" stroke-width="0.85"/>
<rect x="310.00" y="382.30" width="2.6" height="2.6" fill="#fff" stroke="#0a0a0a" stroke-width="0.85"/>
<text x="280.7" y="454.4" font-size="8.2" fill="#161616" stroke="#161616" stroke-width="0.18" text-anchor="end" transform="rotate(-45 280.7 454.4)" >gBT-I WT</text>
<text x="316.5" y="454.4" font-size="8.2" fill="#161616" stroke="#161616" stroke-width="0.18" text-anchor="end" transform="rotate(-45 316.5 454.4)" >gBT-I iLin28b</text>
<line x1="369.4" y1="334.0" x2="369.4" y2="444.3" stroke="#0a0a0a" stroke-width="1.3" />
<line x1="368.8" y1="443.6" x2="440.6" y2="443.6" stroke="#0a0a0a" stroke-width="1.3" />
<line x1="365.8" y1="443.6" x2="369.4" y2="443.6" stroke="#0a0a0a" stroke-width="1.1" />
<text x="364.3" y="446.4" font-size="7.6" fill="#161616" stroke="#161616" stroke-width="0.18" text-anchor="end" >0</text>
<line x1="365.8" y1="417.1" x2="369.4" y2="417.1" stroke="#0a0a0a" stroke-width="1.1" />
<text x="364.3" y="419.9" font-size="7.6" fill="#161616" stroke="#161616" stroke-width="0.18" text-anchor="end" >10</text>
<line x1="365.8" y1="390.6" x2="369.4" y2="390.6" stroke="#0a0a0a" stroke-width="1.1" />
<text x="364.3" y="393.4" font-size="7.6" fill="#161616" stroke="#161616" stroke-width="0.18" text-anchor="end" >20</text>
<line x1="365.8" y1="364.1" x2="369.4" y2="364.1" stroke="#0a0a0a" stroke-width="1.1" />
<text x="364.3" y="366.9" font-size="7.6" fill="#161616" stroke="#161616" stroke-width="0.18" text-anchor="end" >30</text>
<line x1="365.8" y1="337.6" x2="369.4" y2="337.6" stroke="#0a0a0a" stroke-width="1.1" />
<text x="364.3" y="340.4" font-size="7.6" fill="#161616" stroke="#161616" stroke-width="0.18" text-anchor="end" >40</text>
<line x1="388.1" y1="443.6" x2="388.1" y2="447.0" stroke="#0a0a0a" stroke-width="1.1" />
<line x1="423.2" y1="443.6" x2="423.2" y2="447.0" stroke="#0a0a0a" stroke-width="1.1" />
<text x="350.2" y="407.6" font-size="10.0" fill="#222" stroke="#222" stroke-width="0.06" textLength="32.4" lengthAdjust="spacingAndGlyphs" transform="rotate(-90 350.2 407.6)" >% MPEC</text>
<line x1="387.6" y1="337.6" x2="421.4" y2="337.6" stroke="#0a0a0a" stroke-width="1.2" />
<line x1="387.6" y1="334.9" x2="387.6" y2="340.3" stroke="#0a0a0a" stroke-width="1.2" />
<line x1="421.4" y1="334.9" x2="421.4" y2="340.3" stroke="#0a0a0a" stroke-width="1.2" />
<text x="404.6" y="337.6" font-size="7.2" fill="#161616" stroke="#161616" stroke-width="0.18" text-anchor="middle" >****</text>
<line x1="388.1" y1="346.6" x2="423.0" y2="413.2" stroke="#0a0a0a" stroke-width="1.4" stroke-dasharray="6.5 2.3" stroke-dashoffset="0.0"/>
<line x1="388.1" y1="351.7" x2="423.0" y2="410.3" stroke="#0a0a0a" stroke-width="1.4" stroke-dasharray="6.5 2.3" stroke-dashoffset="0.8"/>
<line x1="388.1" y1="353.6" x2="423.0" y2="416.1" stroke="#0a0a0a" stroke-width="1.4" stroke-dasharray="6.5 2.3" stroke-dashoffset="1.6"/>
<line x1="388.1" y1="355.4" x2="423.0" y2="421.9" stroke="#0a0a0a" stroke-width="1.4" stroke-dasharray="6.5 2.3" stroke-dashoffset="0.0"/>
<line x1="388.1" y1="358.2" x2="423.0" y2="419.0" stroke="#0a0a0a" stroke-width="1.4" stroke-dasharray="6.5 2.3" stroke-dashoffset="0.8"/>
<line x1="388.1" y1="364.0" x2="423.0" y2="427.7" stroke="#0a0a0a" stroke-width="1.4" stroke-dasharray="6.5 2.3" stroke-dashoffset="1.6"/>
<line x1="388.1" y1="368.6" x2="423.0" y2="424.8" stroke="#0a0a0a" stroke-width="1.4" stroke-dasharray="6.5 2.3" stroke-dashoffset="0.0"/>
<line x1="388.1" y1="370.9" x2="423.0" y2="433.5" stroke="#0a0a0a" stroke-width="1.4" stroke-dasharray="6.5 2.3" stroke-dashoffset="0.8"/>
<line x1="388.1" y1="382.6" x2="423.0" y2="430.6" stroke="#0a0a0a" stroke-width="1.4" stroke-dasharray="6.5 2.3" stroke-dashoffset="1.6"/>
<line x1="388.1" y1="384.2" x2="423.0" y2="439.3" stroke="#0a0a0a" stroke-width="1.4" stroke-dasharray="6.5 2.3" stroke-dashoffset="0.0"/>
<line x1="388.1" y1="395.2" x2="423.0" y2="436.4" stroke="#0a0a0a" stroke-width="1.4" stroke-dasharray="6.5 2.3" stroke-dashoffset="0.8"/>
<circle cx="388.1" cy="346.6" r="1.5" fill="#0a0a0a"/>
<circle cx="388.1" cy="351.7" r="1.5" fill="#0a0a0a"/>
<circle cx="388.1" cy="353.6" r="1.5" fill="#0a0a0a"/>
<circle cx="388.1" cy="355.4" r="1.5" fill="#0a0a0a"/>
<circle cx="388.1" cy="358.2" r="1.5" fill="#0a0a0a"/>
<circle cx="388.1" cy="364.0" r="1.5" fill="#0a0a0a"/>
<circle cx="388.1" cy="368.6" r="1.5" fill="#0a0a0a"/>
<circle cx="388.1" cy="370.9" r="1.5" fill="#0a0a0a"/>
<circle cx="388.1" cy="382.6" r="1.5" fill="#0a0a0a"/>
<circle cx="388.1" cy="384.2" r="1.5" fill="#0a0a0a"/>
<circle cx="388.1" cy="395.2" r="1.5" fill="#0a0a0a"/>
<rect x="421.70" y="409.00" width="2.6" height="2.6" fill="#fff" stroke="#0a0a0a" stroke-width="0.85"/>
<rect x="421.70" y="411.90" width="2.6" height="2.6" fill="#fff" stroke="#0a0a0a" stroke-width="0.85"/>
<rect x="421.70" y="414.80" width="2.6" height="2.6" fill="#fff" stroke="#0a0a0a" stroke-width="0.85"/>
<rect x="421.70" y="417.70" width="2.6" height="2.6" fill="#fff" stroke="#0a0a0a" stroke-width="0.85"/>
<rect x="421.70" y="420.60" width="2.6" height="2.6" fill="#fff" stroke="#0a0a0a" stroke-width="0.85"/>
<rect x="421.70" y="423.50" width="2.6" height="2.6" fill="#fff" stroke="#0a0a0a" stroke-width="0.85"/>
<rect x="421.70" y="426.40" width="2.6" height="2.6" fill="#fff" stroke="#0a0a0a" stroke-width="0.85"/>
<rect x="421.70" y="429.30" width="2.6" height="2.6" fill="#fff" stroke="#0a0a0a" stroke-width="0.85"/>
<rect x="421.70" y="432.20" width="2.6" height="2.6" fill="#fff" stroke="#0a0a0a" stroke-width="0.85"/>
<rect x="421.70" y="435.10" width="2.6" height="2.6" fill="#fff" stroke="#0a0a0a" stroke-width="0.85"/>
<rect x="421.70" y="438.00" width="2.6" height="2.6" fill="#fff" stroke="#0a0a0a" stroke-width="0.85"/>
<rect x="421.70" y="440.90" width="2.6" height="2.6" fill="#fff" stroke="#0a0a0a" stroke-width="0.85"/>
<text x="392.8" y="454.2" font-size="8.2" fill="#161616" stroke="#161616" stroke-width="0.18" text-anchor="end" transform="rotate(-45 392.8 454.2)" >gBT-I WT</text>
<text x="428.4" y="454.6" font-size="8.2" fill="#161616" stroke="#161616" stroke-width="0.18" text-anchor="end" transform="rotate(-45 428.4 454.6)" >gBT-I iLin28b</text>
<path d="M0 0H520V497H0Z M1.1 1.1V495.6H518.8V1.1Z" fill="#000" fill-rule="evenodd"/>
</svg>
</body></html>
